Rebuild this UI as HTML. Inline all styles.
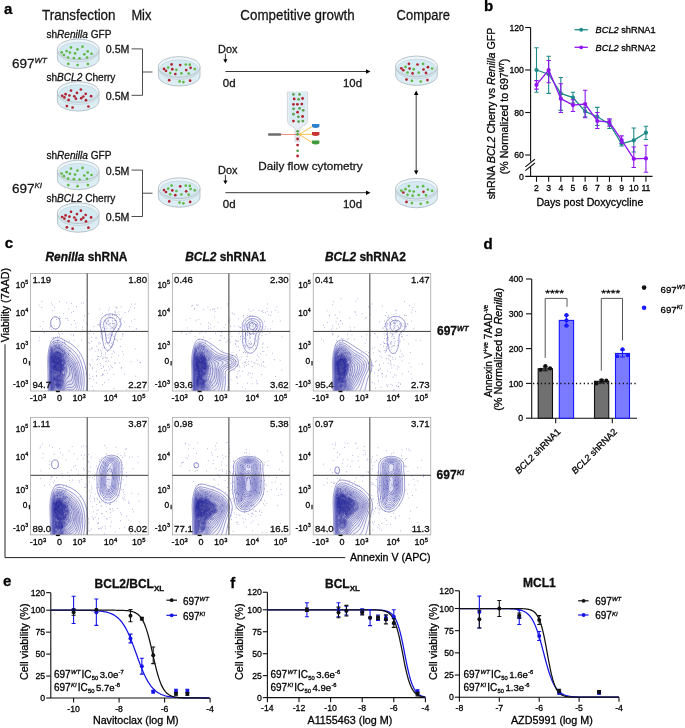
<!DOCTYPE html>
<html><head><meta charset="utf-8"><title>Figure</title>
<style>html,body{margin:0;padding:0;background:#fff;} svg{display:block;will-change:transform;} text{font-family:"Liberation Sans", sans-serif;} text[fill="#000"],text[fill="#111"],text[fill="#141414"]{stroke:#000;stroke-width:0.28px;} text[fill="#141414"]{stroke:#141414;}</style>
</head><body>
<svg width="685" height="728" viewBox="0 0 685 728" font-family='"Liberation Sans", sans-serif'>
<rect width="685" height="728" fill="#fff"/>
<text x="4.00" y="14.30" font-size="15" font-weight="bold" fill="#000">a</text>
<text x="42.00" y="19.60" font-size="14.3" fill="#141414" textLength="73.6" lengthAdjust="spacingAndGlyphs">Transfection</text>
<text x="131.40" y="19.60" font-size="14.3" fill="#141414" textLength="20" lengthAdjust="spacingAndGlyphs">Mix</text>
<text x="240.30" y="19.60" font-size="14.3" fill="#141414" textLength="114.4" lengthAdjust="spacingAndGlyphs">Competitive growth</text>
<text x="396.60" y="19.60" font-size="14.3" fill="#141414" textLength="53.4" lengthAdjust="spacingAndGlyphs">Compare</text>
<text x="46.4" y="37.7" font-size="10.1" fill="#141414">sh</text>
<text x="57.07" y="37.7" font-size="10.1" fill="#141414" font-style="italic">Renilla</text>
<text x="90.75" y="37.7" font-size="10.1" fill="#141414">GFP</text>
<path d="M57.40,49.40 L57.40,58.10 A20.80,10.40 0 0 0 99.00,58.10 L99.00,49.40 Z" fill="#dcedf3" stroke="#aab6bf" stroke-width="0.8"/>
<ellipse cx="78.20" cy="49.40" rx="20.80" ry="10.40" fill="#eef6f9" stroke="#aab6bf" stroke-width="0.8"/>
<ellipse cx="78.20" cy="50.60" rx="19.00" ry="8.40" fill="#d4eaf2" stroke="#b9c8d0" stroke-width="0.5"/>
<path d="M58.20,51.90 A20.00,9.90 0 0 0 98.20,51.90" fill="none" stroke="#b3c2ca" stroke-width="0.6"/>
<circle cx="71.00" cy="47.40" r="1.35" fill="#62b845"/>
<circle cx="82.50" cy="46.70" r="1.35" fill="#62b845"/>
<circle cx="77.50" cy="49.40" r="1.35" fill="#62b845"/>
<circle cx="66.60" cy="51.00" r="1.35" fill="#62b845"/>
<circle cx="61.70" cy="52.40" r="1.35" fill="#62b845"/>
<circle cx="69.90" cy="52.60" r="1.35" fill="#62b845"/>
<circle cx="75.10" cy="53.40" r="1.35" fill="#62b845"/>
<circle cx="87.70" cy="51.40" r="1.35" fill="#62b845"/>
<circle cx="84.30" cy="54.30" r="1.35" fill="#62b845"/>
<circle cx="91.50" cy="53.80" r="1.35" fill="#62b845"/>
<circle cx="63.90" cy="55.00" r="1.35" fill="#62b845"/>
<circle cx="68.10" cy="57.50" r="1.35" fill="#62b845"/>
<circle cx="73.90" cy="58.00" r="1.35" fill="#62b845"/>
<circle cx="79.60" cy="58.30" r="1.35" fill="#62b845"/>
<circle cx="87.00" cy="57.60" r="1.35" fill="#62b845"/>
<circle cx="68.30" cy="63.90" r="1.35" fill="#62b845"/>
<circle cx="77.60" cy="65.00" r="1.35" fill="#62b845"/>
<circle cx="87.90" cy="63.90" r="1.35" fill="#62b845"/>
<text x="46.4" y="80.6" font-size="10.1" fill="#141414">sh</text>
<text x="57.07" y="80.6" font-size="10.1" fill="#141414" font-style="italic">BCL2</text>
<text x="85.14" y="80.6" font-size="10.1" fill="#141414">Cherry</text>
<path d="M57.40,92.00 L57.40,100.70 A20.80,10.40 0 0 0 99.00,100.70 L99.00,92.00 Z" fill="#dcedf3" stroke="#aab6bf" stroke-width="0.8"/>
<ellipse cx="78.20" cy="92.00" rx="20.80" ry="10.40" fill="#eef6f9" stroke="#aab6bf" stroke-width="0.8"/>
<ellipse cx="78.20" cy="93.20" rx="19.00" ry="8.40" fill="#d4eaf2" stroke="#b9c8d0" stroke-width="0.5"/>
<path d="M58.20,94.50 A20.00,9.90 0 0 0 98.20,94.50" fill="none" stroke="#b3c2ca" stroke-width="0.6"/>
<circle cx="71.00" cy="90.60" r="1.35" fill="#b3202e"/>
<circle cx="80.90" cy="89.50" r="1.35" fill="#b3202e"/>
<circle cx="77.00" cy="92.90" r="1.35" fill="#b3202e"/>
<circle cx="65.60" cy="94.20" r="1.35" fill="#b3202e"/>
<circle cx="62.20" cy="95.80" r="1.35" fill="#b3202e"/>
<circle cx="69.40" cy="95.50" r="1.35" fill="#b3202e"/>
<circle cx="74.30" cy="96.30" r="1.35" fill="#b3202e"/>
<circle cx="85.70" cy="93.80" r="1.35" fill="#b3202e"/>
<circle cx="83.30" cy="96.50" r="1.35" fill="#b3202e"/>
<circle cx="91.10" cy="96.20" r="1.35" fill="#b3202e"/>
<circle cx="64.40" cy="97.40" r="1.35" fill="#b3202e"/>
<circle cx="68.60" cy="99.90" r="1.35" fill="#b3202e"/>
<circle cx="75.90" cy="98.70" r="1.35" fill="#b3202e"/>
<circle cx="81.20" cy="98.20" r="1.35" fill="#b3202e"/>
<circle cx="86.00" cy="100.20" r="1.35" fill="#b3202e"/>
<circle cx="66.90" cy="106.10" r="1.35" fill="#b3202e"/>
<circle cx="72.60" cy="107.50" r="1.35" fill="#b3202e"/>
<circle cx="88.40" cy="106.50" r="1.35" fill="#b3202e"/>
<text x="105.80" y="53.30" font-size="10.6" fill="#141414" textLength="23.6" lengthAdjust="spacingAndGlyphs">0.5M</text>
<text x="105.80" y="99.70" font-size="10.6" fill="#141414" textLength="23.6" lengthAdjust="spacingAndGlyphs">0.5M</text>
<path d="M131.5,48.9 H142.5 V95.3 H131.5 M142.5,72 H152.5" fill="none" stroke="#3a3a3a" stroke-width="0.9"/>
<path d="M158.40,67.00 L158.40,75.70 A20.80,10.40 0 0 0 200.00,75.70 L200.00,67.00 Z" fill="#dcedf3" stroke="#aab6bf" stroke-width="0.8"/>
<ellipse cx="179.20" cy="67.00" rx="20.80" ry="10.40" fill="#eef6f9" stroke="#aab6bf" stroke-width="0.8"/>
<ellipse cx="179.20" cy="68.20" rx="19.00" ry="8.40" fill="#d4eaf2" stroke="#b9c8d0" stroke-width="0.5"/>
<path d="M159.20,69.50 A20.00,9.90 0 0 0 199.20,69.50" fill="none" stroke="#b3c2ca" stroke-width="0.6"/>
<circle cx="171.60" cy="64.40" r="1.35" fill="#b3202e"/>
<circle cx="180.20" cy="65.10" r="1.35" fill="#b3202e"/>
<circle cx="185.80" cy="64.50" r="1.35" fill="#62b845"/>
<circle cx="189.80" cy="64.70" r="1.35" fill="#62b845"/>
<circle cx="164.00" cy="68.90" r="1.35" fill="#b3202e"/>
<circle cx="168.20" cy="67.50" r="1.35" fill="#62b845"/>
<circle cx="172.30" cy="69.20" r="1.35" fill="#b3202e"/>
<circle cx="176.40" cy="69.80" r="1.35" fill="#62b845"/>
<circle cx="186.20" cy="70.10" r="1.35" fill="#b3202e"/>
<circle cx="190.60" cy="67.80" r="1.35" fill="#b3202e"/>
<circle cx="194.80" cy="69.10" r="1.35" fill="#62b845"/>
<circle cx="166.00" cy="70.80" r="1.35" fill="#b3202e"/>
<circle cx="170.20" cy="73.10" r="1.35" fill="#62b845"/>
<circle cx="175.30" cy="74.00" r="1.35" fill="#b3202e"/>
<circle cx="181.40" cy="73.30" r="1.35" fill="#62b845"/>
<circle cx="188.70" cy="73.50" r="1.35" fill="#62b845"/>
<circle cx="169.20" cy="80.20" r="1.35" fill="#b3202e"/>
<circle cx="179.60" cy="81.40" r="1.35" fill="#62b845"/>
<circle cx="183.40" cy="82.10" r="1.35" fill="#62b845"/>
<circle cx="190.10" cy="80.70" r="1.35" fill="#b3202e"/>
<text x="218.00" y="52.50" font-size="10.9" fill="#141414" textLength="19.4" lengthAdjust="spacingAndGlyphs">Dox</text>
<path d="M225.4,53.6 V60.5" stroke="#222" stroke-width="0.9"/>
<path d="M223.3,59.2 L225.4,63 L227.5,59.2 Z" fill="#000"/>
<path d="M225.4,71.5 H367" stroke="#222" stroke-width="0.9"/>
<path d="M366,69.3 L370.5,71.5 L366,73.7 Z" fill="#000"/>
<text x="222.80" y="87.00" font-size="10.9" fill="#141414" textLength="12.8" lengthAdjust="spacingAndGlyphs">0d</text>
<text x="343.00" y="87.00" font-size="10.9" fill="#141414" textLength="19" lengthAdjust="spacingAndGlyphs">10d</text>
<path d="M395.70,66.40 L395.70,75.10 A20.80,10.40 0 0 0 437.30,75.10 L437.30,66.40 Z" fill="#dcedf3" stroke="#aab6bf" stroke-width="0.8"/>
<ellipse cx="416.50" cy="66.40" rx="20.80" ry="10.40" fill="#eef6f9" stroke="#aab6bf" stroke-width="0.8"/>
<ellipse cx="416.50" cy="67.60" rx="19.00" ry="8.40" fill="#d4eaf2" stroke="#b9c8d0" stroke-width="0.5"/>
<path d="M396.50,68.90 A20.00,9.90 0 0 0 436.50,68.90" fill="none" stroke="#b3c2ca" stroke-width="0.6"/>
<circle cx="408.90" cy="63.80" r="1.35" fill="#b3202e"/>
<circle cx="417.50" cy="64.50" r="1.35" fill="#b3202e"/>
<circle cx="423.10" cy="63.90" r="1.35" fill="#62b845"/>
<circle cx="401.30" cy="68.30" r="1.35" fill="#b3202e"/>
<circle cx="405.50" cy="66.90" r="1.35" fill="#62b845"/>
<circle cx="409.60" cy="68.60" r="1.35" fill="#b3202e"/>
<circle cx="413.70" cy="69.20" r="1.35" fill="#62b845"/>
<circle cx="423.50" cy="69.50" r="1.35" fill="#b3202e"/>
<circle cx="427.90" cy="67.20" r="1.35" fill="#b3202e"/>
<circle cx="432.10" cy="68.50" r="1.35" fill="#62b845"/>
<circle cx="403.30" cy="70.20" r="1.35" fill="#b3202e"/>
<circle cx="407.50" cy="72.50" r="1.35" fill="#62b845"/>
<circle cx="412.60" cy="73.40" r="1.35" fill="#b3202e"/>
<circle cx="418.70" cy="72.70" r="1.35" fill="#62b845"/>
<circle cx="426.00" cy="72.90" r="1.35" fill="#b3202e"/>
<circle cx="406.50" cy="79.60" r="1.35" fill="#b3202e"/>
<circle cx="411.90" cy="80.80" r="1.35" fill="#62b845"/>
<circle cx="420.70" cy="81.50" r="1.35" fill="#62b845"/>
<circle cx="427.40" cy="80.10" r="1.35" fill="#b3202e"/>
<text x="46.4" y="158.9" font-size="10.1" fill="#141414">sh</text>
<text x="57.07" y="158.9" font-size="10.1" fill="#141414" font-style="italic">Renilla</text>
<text x="90.75" y="158.9" font-size="10.1" fill="#141414">GFP</text>
<path d="M57.40,170.60 L57.40,179.30 A20.80,10.40 0 0 0 99.00,179.30 L99.00,170.60 Z" fill="#dcedf3" stroke="#aab6bf" stroke-width="0.8"/>
<ellipse cx="78.20" cy="170.60" rx="20.80" ry="10.40" fill="#eef6f9" stroke="#aab6bf" stroke-width="0.8"/>
<ellipse cx="78.20" cy="171.80" rx="19.00" ry="8.40" fill="#d4eaf2" stroke="#b9c8d0" stroke-width="0.5"/>
<path d="M58.20,173.10 A20.00,9.90 0 0 0 98.20,173.10" fill="none" stroke="#b3c2ca" stroke-width="0.6"/>
<circle cx="71.00" cy="168.60" r="1.35" fill="#62b845"/>
<circle cx="82.50" cy="167.90" r="1.35" fill="#62b845"/>
<circle cx="77.50" cy="170.60" r="1.35" fill="#62b845"/>
<circle cx="66.60" cy="172.20" r="1.35" fill="#62b845"/>
<circle cx="61.70" cy="173.60" r="1.35" fill="#62b845"/>
<circle cx="69.90" cy="173.80" r="1.35" fill="#62b845"/>
<circle cx="75.10" cy="174.60" r="1.35" fill="#62b845"/>
<circle cx="87.70" cy="172.60" r="1.35" fill="#62b845"/>
<circle cx="84.30" cy="175.50" r="1.35" fill="#62b845"/>
<circle cx="91.50" cy="175.00" r="1.35" fill="#62b845"/>
<circle cx="63.90" cy="176.20" r="1.35" fill="#62b845"/>
<circle cx="68.10" cy="178.70" r="1.35" fill="#62b845"/>
<circle cx="73.90" cy="179.20" r="1.35" fill="#62b845"/>
<circle cx="79.60" cy="179.50" r="1.35" fill="#62b845"/>
<circle cx="87.00" cy="178.80" r="1.35" fill="#62b845"/>
<circle cx="68.30" cy="185.10" r="1.35" fill="#62b845"/>
<circle cx="77.60" cy="186.20" r="1.35" fill="#62b845"/>
<circle cx="87.90" cy="185.10" r="1.35" fill="#62b845"/>
<text x="46.4" y="201.8" font-size="10.1" fill="#141414">sh</text>
<text x="57.07" y="201.8" font-size="10.1" fill="#141414" font-style="italic">BCL2</text>
<text x="85.14" y="201.8" font-size="10.1" fill="#141414">Cherry</text>
<path d="M57.40,213.20 L57.40,221.90 A20.80,10.40 0 0 0 99.00,221.90 L99.00,213.20 Z" fill="#dcedf3" stroke="#aab6bf" stroke-width="0.8"/>
<ellipse cx="78.20" cy="213.20" rx="20.80" ry="10.40" fill="#eef6f9" stroke="#aab6bf" stroke-width="0.8"/>
<ellipse cx="78.20" cy="214.40" rx="19.00" ry="8.40" fill="#d4eaf2" stroke="#b9c8d0" stroke-width="0.5"/>
<path d="M58.20,215.70 A20.00,9.90 0 0 0 98.20,215.70" fill="none" stroke="#b3c2ca" stroke-width="0.6"/>
<circle cx="71.00" cy="211.80" r="1.35" fill="#b3202e"/>
<circle cx="80.90" cy="210.70" r="1.35" fill="#b3202e"/>
<circle cx="77.00" cy="214.10" r="1.35" fill="#b3202e"/>
<circle cx="65.60" cy="215.40" r="1.35" fill="#b3202e"/>
<circle cx="62.20" cy="217.00" r="1.35" fill="#b3202e"/>
<circle cx="69.40" cy="216.70" r="1.35" fill="#b3202e"/>
<circle cx="74.30" cy="217.50" r="1.35" fill="#b3202e"/>
<circle cx="85.70" cy="215.00" r="1.35" fill="#b3202e"/>
<circle cx="83.30" cy="217.70" r="1.35" fill="#b3202e"/>
<circle cx="91.10" cy="217.40" r="1.35" fill="#b3202e"/>
<circle cx="64.40" cy="218.60" r="1.35" fill="#b3202e"/>
<circle cx="68.60" cy="221.10" r="1.35" fill="#b3202e"/>
<circle cx="75.90" cy="219.90" r="1.35" fill="#b3202e"/>
<circle cx="81.20" cy="219.40" r="1.35" fill="#b3202e"/>
<circle cx="86.00" cy="221.40" r="1.35" fill="#b3202e"/>
<circle cx="66.90" cy="227.30" r="1.35" fill="#b3202e"/>
<circle cx="72.60" cy="228.70" r="1.35" fill="#b3202e"/>
<circle cx="88.40" cy="227.70" r="1.35" fill="#b3202e"/>
<text x="105.80" y="174.50" font-size="10.6" fill="#141414" textLength="23.6" lengthAdjust="spacingAndGlyphs">0.5M</text>
<text x="105.80" y="220.90" font-size="10.6" fill="#141414" textLength="23.6" lengthAdjust="spacingAndGlyphs">0.5M</text>
<path d="M131.5,170.1 H142.5 V216.5 H131.5 M142.5,193.2 H152.5" fill="none" stroke="#3a3a3a" stroke-width="0.9"/>
<path d="M158.40,188.20 L158.40,196.90 A20.80,10.40 0 0 0 200.00,196.90 L200.00,188.20 Z" fill="#dcedf3" stroke="#aab6bf" stroke-width="0.8"/>
<ellipse cx="179.20" cy="188.20" rx="20.80" ry="10.40" fill="#eef6f9" stroke="#aab6bf" stroke-width="0.8"/>
<ellipse cx="179.20" cy="189.40" rx="19.00" ry="8.40" fill="#d4eaf2" stroke="#b9c8d0" stroke-width="0.5"/>
<path d="M159.20,190.70 A20.00,9.90 0 0 0 199.20,190.70" fill="none" stroke="#b3c2ca" stroke-width="0.6"/>
<circle cx="171.60" cy="185.60" r="1.35" fill="#62b845"/>
<circle cx="180.20" cy="186.30" r="1.35" fill="#b3202e"/>
<circle cx="185.80" cy="185.70" r="1.35" fill="#62b845"/>
<circle cx="189.80" cy="185.90" r="1.35" fill="#62b845"/>
<circle cx="164.00" cy="190.10" r="1.35" fill="#b3202e"/>
<circle cx="168.20" cy="188.70" r="1.35" fill="#62b845"/>
<circle cx="172.30" cy="190.40" r="1.35" fill="#b3202e"/>
<circle cx="176.40" cy="191.00" r="1.35" fill="#62b845"/>
<circle cx="186.20" cy="191.30" r="1.35" fill="#b3202e"/>
<circle cx="190.60" cy="189.00" r="1.35" fill="#62b845"/>
<circle cx="194.80" cy="190.30" r="1.35" fill="#62b845"/>
<circle cx="166.00" cy="192.00" r="1.35" fill="#b3202e"/>
<circle cx="170.20" cy="194.30" r="1.35" fill="#62b845"/>
<circle cx="175.30" cy="195.20" r="1.35" fill="#b3202e"/>
<circle cx="181.40" cy="194.50" r="1.35" fill="#62b845"/>
<circle cx="188.70" cy="194.70" r="1.35" fill="#62b845"/>
<circle cx="169.20" cy="201.40" r="1.35" fill="#b3202e"/>
<circle cx="179.60" cy="202.60" r="1.35" fill="#62b845"/>
<circle cx="183.40" cy="203.30" r="1.35" fill="#62b845"/>
<circle cx="190.10" cy="201.90" r="1.35" fill="#b3202e"/>
<text x="218.00" y="173.70" font-size="10.9" fill="#141414" textLength="19.4" lengthAdjust="spacingAndGlyphs">Dox</text>
<path d="M225.4,174.8 V181.7" stroke="#222" stroke-width="0.9"/>
<path d="M223.3,180.4 L225.4,184.2 L227.5,180.4 Z" fill="#000"/>
<path d="M225.4,192.7 H367" stroke="#222" stroke-width="0.9"/>
<path d="M366,190.5 L370.5,192.7 L366,194.9 Z" fill="#000"/>
<text x="222.80" y="208.20" font-size="10.9" fill="#141414" textLength="12.8" lengthAdjust="spacingAndGlyphs">0d</text>
<text x="343.00" y="208.20" font-size="10.9" fill="#141414" textLength="19" lengthAdjust="spacingAndGlyphs">10d</text>
<path d="M395.70,188.70 L395.70,197.40 A20.80,10.40 0 0 0 437.30,197.40 L437.30,188.70 Z" fill="#dcedf3" stroke="#aab6bf" stroke-width="0.8"/>
<ellipse cx="416.50" cy="188.70" rx="20.80" ry="10.40" fill="#eef6f9" stroke="#aab6bf" stroke-width="0.8"/>
<ellipse cx="416.50" cy="189.90" rx="19.00" ry="8.40" fill="#d4eaf2" stroke="#b9c8d0" stroke-width="0.5"/>
<path d="M396.50,191.20 A20.00,9.90 0 0 0 436.50,191.20" fill="none" stroke="#b3c2ca" stroke-width="0.6"/>
<circle cx="408.90" cy="186.10" r="1.35" fill="#62b845"/>
<circle cx="417.50" cy="186.80" r="1.35" fill="#62b845"/>
<circle cx="423.10" cy="186.20" r="1.35" fill="#62b845"/>
<circle cx="401.30" cy="190.60" r="1.35" fill="#62b845"/>
<circle cx="405.50" cy="189.20" r="1.35" fill="#62b845"/>
<circle cx="409.60" cy="190.90" r="1.35" fill="#62b845"/>
<circle cx="413.70" cy="191.50" r="1.35" fill="#62b845"/>
<circle cx="423.50" cy="191.80" r="1.35" fill="#b3202e"/>
<circle cx="427.90" cy="189.50" r="1.35" fill="#62b845"/>
<circle cx="432.10" cy="190.80" r="1.35" fill="#62b845"/>
<circle cx="403.30" cy="192.50" r="1.35" fill="#b3202e"/>
<circle cx="407.50" cy="194.80" r="1.35" fill="#62b845"/>
<circle cx="412.60" cy="195.70" r="1.35" fill="#62b845"/>
<circle cx="418.70" cy="195.00" r="1.35" fill="#62b845"/>
<circle cx="426.00" cy="195.20" r="1.35" fill="#62b845"/>
<circle cx="406.50" cy="201.90" r="1.35" fill="#b3202e"/>
<circle cx="411.90" cy="203.10" r="1.35" fill="#62b845"/>
<circle cx="420.70" cy="203.80" r="1.35" fill="#62b845"/>
<circle cx="427.40" cy="202.40" r="1.35" fill="#62b845"/>
<text x="12" y="68.4" font-size="13.5" fill="#141414">697<tspan font-size="8" font-style="italic" dy="-5.13">WT</tspan></text>
<text x="12" y="192.9" font-size="13.5" fill="#141414">697<tspan font-size="8" font-style="italic" dy="-5.13">KI</tspan></text>
<path d="M416.2,94 V171" stroke="#222" stroke-width="0.9"/>
<path d="M414,95 L416.2,90.6 L418.4,95 Z M414,170.5 L416.2,174.8 L418.4,170.5 Z" fill="#000"/>
<g>
<path d="M287.4,92 V120 Q287.4,124.5 291,125.6 L295,128.5 V141.4 H299.8 V128.5 L303.8,125.6 Q307.6,124.5 307.6,120 V92 Z" fill="#e6eef3" stroke="#c5ccd2" stroke-width="0.7"/>
<rect x="289" y="92" width="17" height="30" fill="#d9ebf4"/>
<rect x="268" y="133.2" width="13.3" height="2.6" rx="0.8" fill="#6e6e6e"/>
<path d="M281.3,134.5 H297" stroke="#e8402c" stroke-width="0.6"/>
<path d="M299,134.5 L312.5,126.2 M299,134.5 L312.5,134.2 M299,134.5 L312.5,142.6" stroke="#f2b01e" stroke-width="0.8"/>
<path d="M312,124 H319.4 V127 Q315.7,129.2 312,127 Z" fill="#2e7fd0"/>
<path d="M312,132 H319.4 V135 Q315.7,137.2 312,135 Z" fill="#c93533"/>
<path d="M312,140.4 H319.4 V143.4 Q315.7,145.6 312,143.4 Z" fill="#3f9a3a"/>
</g>
<circle cx="293.4" cy="94.4" r="1.4" fill="#5ea04a"/>
<circle cx="299.6" cy="94.4" r="1.4" fill="#5ea04a"/>
<circle cx="294.2" cy="98.9" r="1.4" fill="#b3202e"/>
<circle cx="298.6" cy="99.3" r="1.4" fill="#5ea04a"/>
<circle cx="302.6" cy="98.5" r="1.4" fill="#b3202e"/>
<circle cx="293.4" cy="104.3" r="1.4" fill="#b3202e"/>
<circle cx="297.4" cy="104.3" r="1.4" fill="#b3202e"/>
<circle cx="301.8" cy="104.1" r="1.4" fill="#b3202e"/>
<circle cx="293.6" cy="108.8" r="1.4" fill="#5ea04a"/>
<circle cx="299.5" cy="108.4" r="1.4" fill="#5ea04a"/>
<circle cx="303.2" cy="110.3" r="1.4" fill="#5ea04a"/>
<circle cx="297.6" cy="112.2" r="1.4" fill="#b3202e"/>
<circle cx="293.4" cy="114.2" r="1.4" fill="#5ea04a"/>
<circle cx="298.4" cy="116.8" r="1.4" fill="#5ea04a"/>
<circle cx="302.6" cy="116.5" r="1.4" fill="#b3202e"/>
<circle cx="293.4" cy="121.1" r="1.4" fill="#b3202e"/>
<circle cx="298.6" cy="121.6" r="1.4" fill="#5ea04a"/>
<circle cx="302.8" cy="121.1" r="1.4" fill="#5ea04a"/>
<circle cx="297.6" cy="131.3" r="1.4" fill="#5ea04a"/>
<circle cx="297.6" cy="134.3" r="1.4" fill="#5ea04a"/>
<circle cx="297.6" cy="139" r="1.4" fill="#b3202e"/>
<circle cx="297.6" cy="145.1" r="1.4" fill="#b3202e"/>
<circle cx="297.6" cy="150.8" r="1.4" fill="#5ea04a"/>
<circle cx="297.6" cy="156" r="1.4" fill="#b3202e"/>
<text x="258.20" y="170.00" font-size="11.7" fill="#141414" textLength="104.4" lengthAdjust="spacingAndGlyphs">Daily flow cytometry</text>
<text x="483.90" y="10.70" font-size="15" font-weight="bold" fill="#000">b</text>
<path d="M530.6,27.5 V161.5 M530.6,167 V176.4 M525.2,176.4 H652.5" fill="none" stroke="#111" stroke-width="1.1"/>
<path d="M525.3,166.9 L534.9,159.3 M525.3,170.6 L534.9,163" stroke="#111" stroke-width="1.1"/>
<line x1="525.20" y1="27.50" x2="530.60" y2="27.50" stroke="#111" stroke-width="1.1"/>
<text x="523.90" y="30.60" font-size="8.7" text-anchor="end" fill="#000">120</text>
<line x1="525.20" y1="70.00" x2="530.60" y2="70.00" stroke="#111" stroke-width="1.1"/>
<text x="523.90" y="73.10" font-size="8.7" text-anchor="end" fill="#000">100</text>
<line x1="525.20" y1="112.50" x2="530.60" y2="112.50" stroke="#111" stroke-width="1.1"/>
<text x="523.90" y="115.60" font-size="8.7" text-anchor="end" fill="#000">80</text>
<line x1="525.20" y1="155.00" x2="530.60" y2="155.00" stroke="#111" stroke-width="1.1"/>
<text x="523.90" y="158.10" font-size="8.7" text-anchor="end" fill="#000">60</text>
<text x="523.90" y="179.50" font-size="8.7" text-anchor="end" fill="#000">0</text>
<line x1="536.50" y1="176.40" x2="536.50" y2="181.80" stroke="#111" stroke-width="1.1"/>
<text x="536.50" y="190.70" font-size="8.7" text-anchor="middle" fill="#000">2</text>
<line x1="548.66" y1="176.40" x2="548.66" y2="181.80" stroke="#111" stroke-width="1.1"/>
<text x="548.66" y="190.70" font-size="8.7" text-anchor="middle" fill="#000">3</text>
<line x1="560.82" y1="176.40" x2="560.82" y2="181.80" stroke="#111" stroke-width="1.1"/>
<text x="560.82" y="190.70" font-size="8.7" text-anchor="middle" fill="#000">4</text>
<line x1="572.98" y1="176.40" x2="572.98" y2="181.80" stroke="#111" stroke-width="1.1"/>
<text x="572.98" y="190.70" font-size="8.7" text-anchor="middle" fill="#000">5</text>
<line x1="585.14" y1="176.40" x2="585.14" y2="181.80" stroke="#111" stroke-width="1.1"/>
<text x="585.14" y="190.70" font-size="8.7" text-anchor="middle" fill="#000">6</text>
<line x1="597.30" y1="176.40" x2="597.30" y2="181.80" stroke="#111" stroke-width="1.1"/>
<text x="597.30" y="190.70" font-size="8.7" text-anchor="middle" fill="#000">7</text>
<line x1="609.46" y1="176.40" x2="609.46" y2="181.80" stroke="#111" stroke-width="1.1"/>
<text x="609.46" y="190.70" font-size="8.7" text-anchor="middle" fill="#000">8</text>
<line x1="621.62" y1="176.40" x2="621.62" y2="181.80" stroke="#111" stroke-width="1.1"/>
<text x="621.62" y="190.70" font-size="8.7" text-anchor="middle" fill="#000">9</text>
<line x1="633.78" y1="176.40" x2="633.78" y2="181.80" stroke="#111" stroke-width="1.1"/>
<text x="633.78" y="190.70" font-size="8.7" text-anchor="middle" fill="#000">10</text>
<line x1="645.94" y1="176.40" x2="645.94" y2="181.80" stroke="#111" stroke-width="1.1"/>
<text x="645.94" y="190.70" font-size="8.7" text-anchor="middle" fill="#000">11</text>
<text x="536.40" y="206.00" font-size="10.6" fill="#000" textLength="107" lengthAdjust="spacingAndGlyphs">Days post Doxycycline</text>
<text transform="translate(495.2,199.3) rotate(-90)" font-size="10.6" fill="#000" textLength="171.7" lengthAdjust="spacingAndGlyphs">shRNA <tspan font-style="italic">BCL2</tspan> Cherry vs <tspan font-style="italic">Renilla</tspan> GFP</text>
<text transform="translate(508.2,174.2) rotate(-90)" font-size="10.6" fill="#000">(% Normalized to 697<tspan font-size="6.5" font-style="italic" dy="-4">WT</tspan><tspan dy="4">)</tspan></text>
<polyline points="536.50,70.00 548.66,74.25 560.82,93.38 572.98,97.62 585.14,111.44 597.30,116.75 609.46,123.98 621.62,143.74 633.78,140.34 645.94,132.69" fill="none" stroke="#1c8a88" stroke-width="1.3"/>
<path d="M536.50,47.69 V92.31 M534.30,47.69 H538.70 M534.30,92.31 H538.70" stroke="#1c8a88" stroke-width="1.1"/>
<circle cx="536.50" cy="70.00" r="2.1" fill="#1c8a88"/>
<path d="M548.66,56.19 V93.38 M546.46,56.19 H550.86 M546.46,93.38 H550.86" stroke="#1c8a88" stroke-width="1.1"/>
<circle cx="548.66" cy="74.25" r="2.1" fill="#1c8a88"/>
<path d="M560.82,77.44 V110.38 M558.62,77.44 H563.02 M558.62,110.38 H563.02" stroke="#1c8a88" stroke-width="1.1"/>
<circle cx="560.82" cy="93.38" r="2.1" fill="#1c8a88"/>
<path d="M572.98,92.31 V102.94 M570.78,92.31 H575.18 M570.78,102.94 H575.18" stroke="#1c8a88" stroke-width="1.1"/>
<circle cx="572.98" cy="97.62" r="2.1" fill="#1c8a88"/>
<path d="M585.14,107.19 V116.75 M582.94,107.19 H587.34 M582.94,116.75 H587.34" stroke="#1c8a88" stroke-width="1.1"/>
<circle cx="585.14" cy="111.44" r="2.1" fill="#1c8a88"/>
<path d="M597.30,107.40 V125.46 M595.10,107.40 H599.50 M595.10,125.46 H599.50" stroke="#1c8a88" stroke-width="1.1"/>
<circle cx="597.30" cy="116.75" r="2.1" fill="#1c8a88"/>
<path d="M609.46,119.94 V128.44 M607.26,119.94 H611.66 M607.26,128.44 H611.66" stroke="#1c8a88" stroke-width="1.1"/>
<circle cx="609.46" cy="123.98" r="2.1" fill="#1c8a88"/>
<path d="M621.62,141.19 V146.07 M619.42,141.19 H623.82 M619.42,146.07 H623.82" stroke="#1c8a88" stroke-width="1.1"/>
<circle cx="621.62" cy="143.74" r="2.1" fill="#1c8a88"/>
<path d="M633.78,128.01 V152.03 M631.58,128.01 H635.98 M631.58,152.03 H635.98" stroke="#1c8a88" stroke-width="1.1"/>
<circle cx="633.78" cy="140.34" r="2.1" fill="#1c8a88"/>
<path d="M645.94,126.31 V139.49 M643.74,126.31 H648.14 M643.74,139.49 H648.14" stroke="#1c8a88" stroke-width="1.1"/>
<circle cx="645.94" cy="132.69" r="2.1" fill="#1c8a88"/>
<polyline points="536.50,84.88 548.66,70.00 560.82,98.69 572.98,105.06 585.14,104.00 597.30,121.00 609.46,122.06 621.62,140.12 633.78,158.82 645.94,158.40" fill="none" stroke="#8f14f0" stroke-width="1.3"/>
<path d="M536.50,80.62 V89.12 M534.30,80.62 H538.70 M534.30,89.12 H538.70" stroke="#8f14f0" stroke-width="1.1"/>
<circle cx="536.50" cy="84.88" r="2.1" fill="#8f14f0"/>
<path d="M548.66,60.44 V82.75 M546.46,60.44 H550.86 M546.46,82.75 H550.86" stroke="#8f14f0" stroke-width="1.1"/>
<circle cx="548.66" cy="70.00" r="2.1" fill="#8f14f0"/>
<path d="M560.82,83.81 V112.50 M558.62,83.81 H563.02 M558.62,112.50 H563.02" stroke="#8f14f0" stroke-width="1.1"/>
<circle cx="560.82" cy="98.69" r="2.1" fill="#8f14f0"/>
<path d="M572.98,99.75 V111.44 M570.78,99.75 H575.18 M570.78,111.44 H575.18" stroke="#8f14f0" stroke-width="1.1"/>
<circle cx="572.98" cy="105.06" r="2.1" fill="#8f14f0"/>
<path d="M585.14,90.19 V117.81 M582.94,90.19 H587.34 M582.94,117.81 H587.34" stroke="#8f14f0" stroke-width="1.1"/>
<circle cx="585.14" cy="104.00" r="2.1" fill="#8f14f0"/>
<path d="M597.30,112.50 V128.44 M595.10,112.50 H599.50 M595.10,128.44 H599.50" stroke="#8f14f0" stroke-width="1.1"/>
<circle cx="597.30" cy="121.00" r="2.1" fill="#8f14f0"/>
<path d="M609.46,118.88 V126.31 M607.26,118.88 H611.66 M607.26,126.31 H611.66" stroke="#8f14f0" stroke-width="1.1"/>
<circle cx="609.46" cy="122.06" r="2.1" fill="#8f14f0"/>
<path d="M621.62,135.88 V143.31 M619.42,135.88 H623.82 M619.42,143.31 H623.82" stroke="#8f14f0" stroke-width="1.1"/>
<circle cx="621.62" cy="140.12" r="2.1" fill="#8f14f0"/>
<path d="M633.78,146.93 V167.54 M631.58,146.93 H635.98 M631.58,167.54 H635.98" stroke="#8f14f0" stroke-width="1.1"/>
<circle cx="633.78" cy="158.82" r="2.1" fill="#8f14f0"/>
<path d="M645.94,145.23 V172.21 M643.74,145.23 H648.14 M643.74,172.21 H648.14" stroke="#8f14f0" stroke-width="1.1"/>
<circle cx="645.94" cy="158.40" r="2.1" fill="#8f14f0"/>
<line x1="574.60" y1="29.75" x2="587.80" y2="29.75" stroke="#1c8a88" stroke-width="1.3"/>
<circle cx="581.2" cy="29.75" r="1.9" fill="#1c8a88"/>
<text x="595.6" y="33.05" font-size="9.2" fill="#000" textLength="60" lengthAdjust="spacingAndGlyphs"><tspan font-style="italic">BCL2</tspan> shRNA1</text>
<line x1="574.60" y1="47.30" x2="587.80" y2="47.30" stroke="#8f14f0" stroke-width="1.3"/>
<circle cx="581.2" cy="47.3" r="1.9" fill="#8f14f0"/>
<text x="595.6" y="50.599999999999994" font-size="9.2" fill="#000" textLength="60" lengthAdjust="spacingAndGlyphs"><tspan font-style="italic">BCL2</tspan> shRNA2</text>
<text x="4.70" y="248.40" font-size="15" font-weight="bold" fill="#000">c</text>
<text x="45.5" y="261.2" font-size="11.9" font-weight="bold" fill="#111" textLength="81.8" lengthAdjust="spacingAndGlyphs"><tspan font-style="italic">Renilla</tspan> shRNA</text>
<text x="185.2" y="261.2" font-size="11.9" font-weight="bold" fill="#111" textLength="80.8" lengthAdjust="spacingAndGlyphs"><tspan font-style="italic">BCL2</tspan> shRNA1</text>
<text x="325.0" y="261.2" font-size="11.9" font-weight="bold" fill="#111" textLength="80.8" lengthAdjust="spacingAndGlyphs"><tspan font-style="italic">BCL2</tspan> shRNA2</text>
<defs>
<clipPath id="cp00"><rect x="30.6" y="273.4" width="117.6" height="117.6"/></clipPath>
<clipPath id="cp01"><rect x="172.3" y="273.4" width="117.6" height="117.6"/></clipPath>
<clipPath id="cp02"><rect x="313.2" y="273.4" width="117.6" height="117.6"/></clipPath>
<clipPath id="cp10"><rect x="30.6" y="417.3" width="117.6" height="117.6"/></clipPath>
<clipPath id="cp11"><rect x="172.3" y="417.3" width="117.6" height="117.6"/></clipPath>
<clipPath id="cp12"><rect x="313.2" y="417.3" width="117.6" height="117.6"/></clipPath>
</defs>
<g clip-path="url(#cp00)"><g transform="translate(30.6,273.4)">
<path d="M44.0,136.6 42.0,136.9 40.0,136.6 35.0,134.4 33.5,134.1 32.0,134.3 27.5,135.4 26.0,135.4 24.5,135.1 23.0,134.4 21.7,133.0 20.6,131.0 19.7,128.5 18.3,121.5 17.6,114.5 17.1,88.5 17.3,82.5 18.2,75.5 19.9,69.5 20.8,67.5 22.0,65.9 23.0,65.1 24.5,64.5 27.5,64.2 31.0,65.2 40.0,70.2 44.0,73.1 47.3,76.5 50.3,81.0 52.6,86.0 54.3,91.0 55.8,98.0 56.5,105.0 56.3,112.5 55.3,119.5 53.3,126.0 50.7,131.0 49.2,133.0 47.5,134.7 46.0,135.7 44.0,136.6Z" fill="#26268f" fill-opacity="0.02" stroke="#3434a6" stroke-width="0.5" stroke-opacity="0.9"/>
<path d="M28.5,131.7 26.5,132.0 24.5,131.7 22.5,130.3 21.3,128.5 20.2,125.5 19.3,121.5 18.7,117.0 18.3,111.5 18.4,99.0 18.1,87.0 18.2,82.5 18.8,78.0 19.8,73.5 20.7,71.0 21.5,69.6 22.5,68.4 23.5,67.7 26.0,67.0 29.0,67.4 32.5,69.1 42.0,76.3 44.3,78.5 46.3,81.0 49.2,86.0 51.3,91.5 52.9,98.0 53.6,105.0 53.5,112.0 52.3,118.5 50.4,124.0 49.0,126.4 47.5,128.3 45.5,130.0 43.0,131.0 40.5,131.0 36.0,129.3 34.5,129.1 33.0,129.5 28.5,131.7Z" fill="#26268f" fill-opacity="0.02" stroke="#3434a6" stroke-width="0.5" stroke-opacity="0.9"/>
<path d="M27.0,129.6 25.5,129.5 24.5,129.2 23.5,128.7 22.5,127.7 21.3,125.5 20.1,121.5 19.4,117.0 19.0,112.5 19.0,98.5 18.6,88.5 18.8,84.0 19.2,79.5 19.8,76.5 20.7,73.5 21.7,71.5 23.0,70.1 24.5,69.2 26.5,68.9 28.0,69.1 29.5,69.6 32.6,71.5 42.0,79.9 45.3,84.0 47.8,88.5 49.8,94.0 51.1,100.5 51.6,106.5 51.3,112.0 50.1,117.5 48.3,122.0 46.0,125.0 44.0,126.3 42.0,126.8 40.0,126.6 36.5,125.3 35.0,125.3 33.5,126.0 29.5,128.7 27.0,129.6Z" fill="#26268f" fill-opacity="0.02" stroke="#3434a6" stroke-width="0.5" stroke-opacity="0.9"/>
<path d="M27.5,127.5 25.5,127.6 24.0,127.0 22.5,125.6 21.6,124.0 20.8,121.5 20.1,118.0 19.6,114.0 19.4,109.0 19.5,99.0 19.1,87.0 19.3,83.0 19.8,79.0 20.9,75.0 22.2,72.5 24.0,71.0 25.0,70.6 26.5,70.4 28.0,70.6 29.5,71.2 32.2,73.0 41.0,82.0 43.8,85.5 46.3,90.0 48.1,95.0 49.3,100.5 49.8,106.0 49.5,111.0 48.5,115.5 47.0,119.1 45.2,121.5 43.5,122.7 42.0,123.1 40.5,123.0 37.0,121.9 35.5,122.0 34.0,122.9 30.0,126.4 27.5,127.5Z" fill="#26268f" fill-opacity="0.02" stroke="#3434a6" stroke-width="0.5" stroke-opacity="0.9"/>
<path d="M27.0,126.0 25.0,125.9 24.0,125.4 23.0,124.5 21.6,122.0 20.7,118.5 20.2,115.0 19.9,110.5 19.9,99.0 19.5,88.5 19.9,81.5 20.4,78.5 21.4,75.5 22.5,73.6 23.5,72.6 25.0,71.9 26.5,71.7 28.0,71.9 29.5,72.5 32.2,74.5 40.8,84.5 43.0,87.5 44.9,91.0 46.7,96.0 47.7,101.0 48.1,105.5 47.9,109.5 47.2,113.0 46.0,116.1 44.5,118.2 43.0,119.2 41.5,119.6 37.5,118.8 36.0,119.0 34.5,119.9 30.0,124.6 28.5,125.6 27.0,126.0Z" fill="#26268f" fill-opacity="0.02" stroke="#3434a6" stroke-width="0.5" stroke-opacity="0.9"/>
<path d="M28.0,124.5 26.5,124.9 25.0,124.7 23.5,123.7 22.5,122.4 21.7,120.5 20.9,117.5 20.2,110.5 20.3,99.0 19.8,88.0 20.3,81.0 21.1,77.5 22.2,75.0 24.0,73.3 26.0,72.7 27.5,72.8 29.0,73.3 30.5,74.2 32.0,75.5 42.0,88.5 44.0,92.5 45.5,96.8 46.2,100.0 46.7,104.0 46.7,106.5 46.1,110.5 45.1,113.5 44.0,115.1 43.0,116.0 41.5,116.7 37.5,116.2 36.0,116.6 34.5,117.9 30.5,122.8 28.0,124.5Z" fill="#26268f" fill-opacity="0.02" stroke="#3434a6" stroke-width="0.5" stroke-opacity="0.9"/>
<path d="M28.0,123.5 26.5,123.9 25.0,123.7 23.5,122.7 22.5,121.2 21.1,117.0 20.5,110.0 20.5,99.0 20.1,88.0 20.4,82.0 21.3,78.0 22.5,75.5 24.0,74.1 26.0,73.4 27.5,73.5 29.0,74.1 31.6,76.0 33.6,78.5 37.5,84.5 41.2,89.5 43.0,93.0 44.5,97.5 45.1,100.5 45.4,104.0 45.4,106.5 44.6,110.0 44.0,111.5 43.0,113.0 42.0,113.7 41.0,114.1 37.5,113.9 36.0,114.4 34.5,116.0 30.7,121.5 29.5,122.6 28.0,123.5Z" fill="#26268f" fill-opacity="0.02" stroke="#3434a6" stroke-width="0.5" stroke-opacity="0.9"/>
<path d="M27.5,122.7 26.0,123.0 25.0,122.7 23.5,121.6 22.5,120.0 21.3,116.0 20.7,109.0 20.8,99.0 20.3,88.0 20.7,82.0 21.5,78.5 22.8,76.0 24.5,74.6 26.5,74.2 28.5,74.7 30.5,75.9 32.5,78.0 34.8,81.5 41.8,93.5 42.8,96.5 43.8,102.0 43.5,106.5 42.0,109.9 41.0,110.7 38.0,111.2 36.0,112.2 34.5,114.0 31.6,119.0 30.5,120.4 29.0,121.9 27.5,122.7Z" fill="#26268f" fill-opacity="0.02" stroke="#3434a6" stroke-width="0.5" stroke-opacity="0.9"/>
<path d="M27.5,121.6 25.5,121.9 24.0,121.0 22.6,119.0 21.8,116.5 21.0,109.5 21.2,99.0 20.6,89.0 20.8,83.5 21.3,80.5 22.0,78.3 23.0,76.6 24.0,75.7 25.0,75.2 26.5,74.9 28.5,75.4 30.5,76.8 32.4,79.0 34.3,82.0 36.5,86.7 40.5,94.0 41.1,96.0 41.3,98.5 42.1,102.0 41.8,104.5 40.7,107.0 40.0,107.7 37.5,108.2 36.5,108.9 34.5,111.8 32.2,116.5 30.6,119.0 29.0,120.8 27.5,121.6Z" fill="#26268f" fill-opacity="0.02" stroke="#3434a6" stroke-width="0.5" stroke-opacity="0.9"/>
<path d="M27.0,120.5 25.5,120.7 24.0,119.8 22.8,118.0 22.0,115.5 21.4,109.5 21.5,99.0 20.8,88.5 21.1,83.5 22.3,79.0 23.0,77.7 24.0,76.7 25.0,76.2 26.5,75.9 28.0,76.1 29.5,76.9 31.1,78.5 32.2,80.0 34.2,83.5 37.0,90.9 38.4,93.5 39.4,97.5 39.1,99.5 39.1,101.5 35.0,106.9 34.3,109.5 31.2,116.5 29.0,119.4 28.0,120.1 27.0,120.5Z" fill="#26268f" fill-opacity="0.02" stroke="#3434a6" stroke-width="0.5" stroke-opacity="0.9"/>
<path d="M27.5,119.2 26.0,119.5 24.5,118.9 23.3,117.5 22.5,115.5 21.8,109.5 22.1,101.0 21.9,97.5 21.4,94.0 21.2,88.0 21.4,83.5 22.7,79.5 24.0,77.8 25.0,77.3 27.0,76.9 28.5,77.3 30.5,79.0 31.7,80.5 33.3,83.5 34.3,86.0 36.1,93.5 36.1,96.5 36.5,98.5 35.4,101.0 34.4,104.5 33.4,106.5 33.2,109.0 31.5,114.0 29.7,117.0 28.5,118.5 27.5,119.2Z" fill="#26268f" fill-opacity="0.1" stroke="#3434a6" stroke-width="0.5" stroke-opacity="0.9"/>
<path d="M27.0,118.5 26.0,118.5 24.9,118.0 23.5,116.5 22.9,115.0 22.1,109.0 22.4,106.5 22.6,101.5 22.4,97.5 21.8,94.5 21.8,91.0 21.5,88.0 21.7,83.5 22.9,80.0 23.5,79.1 24.5,78.3 27.0,77.7 28.5,78.1 30.0,79.2 31.1,80.5 32.4,83.0 33.7,86.5 34.7,95.5 34.6,98.5 34.1,100.0 33.3,104.0 32.4,106.5 32.5,108.5 32.2,110.0 30.5,114.6 28.4,117.5 27.0,118.5Z" fill="#26268f" fill-opacity="0.1" stroke="#3434a6" stroke-width="0.5" stroke-opacity="0.9"/>
<path d="M27.0,117.2 25.5,117.0 24.0,115.8 23.5,115.1 22.5,110.0 22.4,108.5 22.8,106.5 22.8,104.0 23.1,101.5 22.8,97.5 22.0,94.5 22.3,91.0 21.7,87.5 22.0,83.5 23.1,80.5 24.5,79.0 27.0,78.3 28.5,78.7 30.1,80.0 31.5,82.5 32.8,85.5 33.3,90.5 33.3,93.0 33.8,95.5 33.2,97.5 31.5,98.3 31.2,99.0 31.5,99.8 32.5,100.9 32.7,101.5 32.3,104.0 31.7,106.0 31.9,108.5 31.7,109.5 30.0,114.2 29.0,115.6 27.0,117.2Z" fill="#26268f" fill-opacity="0.1" stroke="#3434a6" stroke-width="0.5" stroke-opacity="0.9"/>
<path d="M27.5,115.0 26.3,115.0 25.5,114.5 24.0,114.2 23.0,110.4 22.8,108.5 23.2,106.5 23.2,104.0 23.6,101.5 23.3,97.5 22.3,94.5 22.4,93.0 22.9,91.0 22.1,88.5 22.0,87.5 22.2,84.0 23.5,80.5 25.0,79.4 27.5,78.9 28.5,79.1 29.6,80.0 31.1,83.0 31.5,84.5 32.2,86.0 32.3,87.0 31.7,89.0 32.5,89.9 32.7,90.5 32.6,93.0 33.1,95.0 32.8,96.5 31.0,97.8 30.7,98.5 30.9,100.0 31.9,101.5 31.9,102.0 31.1,105.5 31.2,108.5 30.6,110.0 30.3,112.0 29.0,114.5 28.5,114.8 27.5,115.0Z" fill="#26268f" fill-opacity="0.1" stroke="#3434a6" stroke-width="0.5" stroke-opacity="0.9"/>
<path d="M28.0,114.2 27.0,114.3 26.5,114.1 24.4,112.5 24.1,110.5 24.5,110.1 25.8,109.5 25.9,109.0 25.0,108.7 24.5,109.0 24.3,110.0 24.0,110.2 23.5,109.5 23.5,104.5 24.6,102.0 24.0,100.5 24.0,97.5 22.7,95.0 22.7,93.5 23.4,91.5 23.2,90.0 22.4,88.5 22.2,87.5 22.5,84.0 23.7,81.0 24.0,80.6 25.1,80.0 27.5,79.5 28.5,79.6 29.4,80.5 30.6,83.5 30.9,85.0 31.7,86.5 31.5,87.5 30.6,89.0 30.8,89.5 32.0,90.4 32.2,91.0 32.0,93.0 32.5,95.0 32.4,96.0 32.0,96.5 31.0,97.2 30.4,98.0 30.3,99.5 31.1,102.0 31.1,103.5 30.4,105.5 30.5,108.0 30.0,109.5 29.9,111.5 29.6,112.5 28.9,113.5 28.0,114.2Z" fill="#26268f" fill-opacity="0.1" stroke="#3434a6" stroke-width="0.5" stroke-opacity="0.9"/>
<path d="M28.0,113.6 27.0,113.8 25.1,112.0 25.0,111.0 25.3,110.5 26.6,109.5 26.6,109.0 26.0,108.4 24.5,108.0 24.0,107.5 23.9,104.5 25.1,103.0 25.7,101.5 25.5,101.0 24.8,100.5 24.5,100.0 24.8,97.5 23.5,96.1 23.0,95.0 22.9,94.0 23.6,92.5 23.7,91.5 23.5,90.0 22.6,88.5 22.5,87.5 22.8,84.0 24.0,81.3 24.5,80.9 25.5,80.5 28.0,80.0 29.0,80.5 30.3,85.0 31.2,86.5 31.0,87.5 30.3,89.0 30.5,89.7 31.7,91.0 31.6,93.0 32.0,95.0 31.8,96.0 30.5,97.1 29.9,98.5 30.0,102.0 30.3,103.5 29.7,105.0 30.1,106.5 30.0,107.5 29.3,109.5 29.3,112.0 28.0,113.6Z" fill="#26268f" fill-opacity="0.1" stroke="#3434a6" stroke-width="0.5" stroke-opacity="0.9"/>
<path d="M28.0,113.1 27.0,113.3 25.6,112.0 25.4,111.0 25.8,110.5 27.0,109.7 27.9,109.5 26.0,107.9 24.5,107.2 24.2,105.5 24.4,104.5 25.3,103.5 26.0,102.2 28.1,101.0 28.1,99.5 27.8,99.0 27.0,98.6 26.5,99.8 26.0,100.3 25.5,100.2 25.0,99.6 25.0,99.0 25.5,98.3 26.5,98.0 26.2,97.5 24.0,96.2 23.2,95.0 23.2,94.0 23.9,92.5 24.0,91.5 23.8,90.0 22.9,88.5 22.7,87.5 23.2,84.0 24.5,82.0 25.5,81.3 28.0,80.5 28.7,81.0 28.8,83.0 29.6,84.0 29.9,85.5 30.7,86.5 30.7,87.5 30.0,89.0 30.4,90.0 31.3,91.0 31.2,93.0 31.6,95.0 31.2,96.0 30.2,97.0 29.7,98.0 29.6,100.5 29.3,101.5 29.4,103.5 28.4,104.5 28.3,105.0 29.4,106.0 29.6,107.0 29.2,108.0 28.0,109.5 28.5,109.9 28.9,111.5 28.5,112.5 28.0,113.1ZM26.5,90.0 26.3,89.5 25.6,89.5 25.6,90.0 26.0,90.2 26.5,90.0Z" fill="#26268f" fill-opacity="0.1" stroke="#3434a6" stroke-width="0.5" stroke-opacity="0.9"/>
<path d="M29.0,98.9 28.5,98.9 26.3,97.0 24.2,96.0 23.5,95.0 23.6,94.0 24.2,92.5 24.2,90.0 23.0,88.3 22.9,87.0 23.5,84.5 23.9,84.0 25.0,83.3 25.6,82.0 26.5,81.5 27.9,81.5 28.0,83.0 29.2,84.5 29.3,86.0 30.0,86.3 30.5,87.0 29.8,89.0 30.0,89.7 31.1,91.5 30.9,93.0 31.2,95.0 31.0,95.6 29.8,97.0 29.0,98.9ZM26.8,90.0 26.6,89.5 26.0,89.2 25.0,89.5 25.2,90.0 26.0,90.4 26.8,90.0ZM28.5,108.1 28.0,108.3 27.0,108.2 26.0,107.4 25.0,106.9 24.6,106.0 24.7,105.0 26.5,102.5 28.0,101.8 28.6,102.0 28.9,103.0 27.5,104.4 27.3,105.5 27.5,105.8 28.7,106.0 29.1,106.5 29.0,107.4 28.5,108.1ZM28.0,112.6 27.5,112.9 26.5,112.6 25.7,111.5 26.0,110.8 27.0,110.2 28.0,110.3 28.5,111.0 28.5,111.5 28.0,112.6Z" fill="#26268f" fill-opacity="0.1" stroke="#3434a6" stroke-width="0.5" stroke-opacity="0.9"/>
<path d="M29.0,98.1 28.5,98.3 28.0,98.0 26.5,96.8 24.5,95.9 23.8,95.0 23.8,94.0 24.4,92.5 24.3,91.0 24.5,90.2 25.0,90.2 26.0,90.6 26.5,90.5 27.0,90.0 26.8,89.5 26.0,89.0 24.5,89.4 24.0,89.2 23.1,88.0 23.1,87.0 24.0,84.7 25.3,83.5 26.0,82.3 26.5,82.0 27.0,82.2 27.4,83.0 28.9,84.5 28.8,86.0 29.0,86.5 30.0,86.7 30.2,87.0 29.7,89.0 29.7,89.5 30.8,91.5 30.6,93.0 30.9,95.0 29.0,98.1ZM26.5,107.0 25.3,106.5 25.0,106.0 25.0,105.0 27.0,102.9 28.0,102.4 28.3,103.0 27.0,104.0 26.9,106.5 26.5,107.0ZM28.0,107.8 27.5,107.9 26.5,107.0 27.0,106.6 28.5,106.5 28.7,107.0 28.0,107.8ZM27.5,112.6 27.0,112.6 26.5,112.3 26.0,111.5 26.1,111.0 27.0,110.4 27.6,110.5 28.1,111.0 28.1,112.0 27.5,112.6Z" fill="#26268f" fill-opacity="0.1" stroke="#3434a6" stroke-width="0.5" stroke-opacity="0.9"/>
<path d="M28.5,97.8 24.5,95.7 24.0,95.0 23.9,94.5 24.5,93.0 24.5,90.8 25.0,90.4 26.5,90.6 27.1,90.0 27.0,89.5 26.2,89.0 24.0,88.9 23.2,88.0 23.2,87.0 24.2,85.0 26.5,82.7 28.6,84.5 28.6,86.5 29.8,87.0 30.0,87.5 29.6,89.5 30.6,91.5 30.4,93.5 30.6,95.0 29.0,97.4 28.5,97.8ZM26.0,106.2 25.5,106.1 25.3,105.5 25.4,105.0 26.0,104.4 26.4,104.5 26.5,105.0 26.0,106.2ZM27.5,112.2 27.0,112.3 26.5,112.0 26.3,111.5 26.5,110.9 27.0,110.7 27.7,111.0 27.9,111.5 27.5,112.2Z" fill="#26268f" fill-opacity="0.1" stroke="#3434a6" stroke-width="0.5" stroke-opacity="0.9"/>
<path d="M28.0,96.3 27.5,96.4 25.0,95.5 24.5,95.0 24.4,94.5 24.9,93.0 25.0,91.0 26.0,91.0 27.0,90.6 27.5,90.0 27.4,89.5 26.5,88.9 24.0,88.5 23.5,87.5 23.8,86.5 25.2,84.5 26.5,83.6 27.0,83.7 28.1,84.5 28.3,85.0 28.1,86.5 28.5,87.1 29.3,87.5 29.3,89.5 30.2,91.5 29.9,93.0 29.9,95.0 28.0,96.3Z" fill="#26268f" fill-opacity="0.1" stroke="#3434a6" stroke-width="0.5" stroke-opacity="0.9"/>
<path d="M28.0,95.1 27.0,95.4 26.0,95.3 25.3,95.0 25.0,94.5 25.5,91.8 27.7,90.5 28.2,90.0 28.2,89.5 27.0,88.8 24.5,88.2 23.9,87.5 24.0,87.0 25.2,85.0 26.0,84.2 26.5,84.1 27.5,84.5 27.8,85.0 27.9,87.0 28.7,88.0 28.6,89.5 29.6,91.5 29.2,94.5 28.0,95.1Z" fill="#26268f" fill-opacity="0.1" stroke="#3434a6" stroke-width="0.5" stroke-opacity="0.9"/>
<path d="M77.5,77.1 76.0,76.8 75.0,75.9 74.0,74.4 73.1,72.0 72.2,67.5 71.1,58.5 69.7,52.5 69.5,49.5 69.8,48.0 70.5,46.0 71.5,44.5 73.0,42.9 74.5,41.9 76.5,41.0 78.5,40.6 80.5,40.6 82.5,40.9 84.5,41.6 86.5,42.8 87.8,44.0 89.0,45.5 89.7,47.0 90.2,48.5 90.3,50.5 89.9,52.5 89.3,54.0 86.0,58.6 85.0,60.5 83.1,68.0 81.2,73.0 79.5,75.8 78.5,76.7 77.5,77.1Z" fill="#26268f" fill-opacity="0.01" stroke="#3434a6" stroke-width="0.5" stroke-opacity="0.9"/>
<path d="M78.0,69.7 77.5,70.0 77.0,69.9 76.5,69.5 75.7,67.5 74.6,59.0 73.1,52.5 73.0,50.0 73.8,47.5 75.5,45.5 78.0,44.3 80.5,44.1 83.0,44.9 85.0,46.5 86.1,48.5 86.3,50.5 85.6,53.0 82.9,57.0 81.8,59.0 79.5,67.0 78.8,68.5 78.0,69.7Z" fill="#26268f" fill-opacity="0.01" stroke="#3434a6" stroke-width="0.5" stroke-opacity="0.9"/>
<ellipse cx="24.8" cy="49.5" rx="4.8" ry="6.2" fill="none" stroke="#3434a6" stroke-width="0.55"/>
<path d="M27.5,84.4h.6M25.7,91.7h.6M34.7,88.6h.6M26.6,79.0h.6M28.9,85.0h.6M30.1,86.6h.6M34.6,70.6h.6M24.5,94.3h.6M24.3,80.5h.6M24.7,75.6h.6M26.6,107.1h.6M31.7,77.9h.6M21.7,83.7h.6M31.0,80.2h.6M22.6,94.3h.6M30.3,83.9h.6M20.5,74.2h.6M22.5,68.6h.6M29.7,81.8h.6M28.4,102.4h.6M31.8,77.5h.6M30.3,96.6h.6M22.3,79.1h.6M25.5,73.8h.6M33.3,67.2h.6M20.5,84.8h.6M24.9,88.4h.6M27.3,85.2h.6M31.6,69.4h.6M26.0,81.1h.6M26.7,88.8h.6M21.5,81.7h.6M29.9,89.9h.6M22.6,103.8h.6M37.4,74.9h.6M27.5,107.7h.6M29.9,88.8h.6M25.0,82.5h.6M24.9,82.5h.6M29.7,83.7h.6M23.8,77.1h.6M25.8,79.6h.6M25.1,95.6h.6M27.8,91.2h.6M27.8,87.5h.6M25.4,84.5h.6M29.8,78.1h.6M32.6,87.3h.6M22.3,83.0h.6M22.6,88.3h.6M22.4,96.4h.6M22.1,68.3h.6M22.4,70.4h.6M25.8,95.7h.6M29.2,76.0h.6M22.2,101.7h.6M27.6,87.0h.6M31.2,107.2h.6M32.4,88.2h.6M27.8,92.1h.6M23.0,78.3h.6M26.3,79.2h.6M25.7,87.8h.6M37.6,80.0h.6M25.4,85.6h.6M28.2,95.6h.6M23.6,80.2h.6M28.7,87.4h.6M21.0,83.9h.6M26.2,91.2h.6M23.1,84.9h.6M34.0,68.9h.6M24.3,88.8h.6M24.1,80.3h.6M25.7,87.0h.6M25.6,71.5h.6M25.3,79.9h.6M23.3,88.9h.6M29.2,94.4h.6M23.5,94.6h.6M31.8,96.4h.6M32.9,85.8h.6M25.1,93.8h.6M23.4,84.0h.6M25.9,94.3h.6M30.9,86.3h.6M25.1,80.1h.6M28.0,85.0h.6M29.0,101.5h.6M25.8,74.6h.6M21.7,75.0h.6M20.1,97.8h.6M27.1,74.5h.6M29.2,97.4h.6M24.2,81.4h.6M24.3,89.3h.6M29.2,96.8h.6M32.0,96.8h.6M32.7,92.5h.6M27.6,83.8h.6M30.5,84.0h.6M21.4,98.9h.6M29.3,88.8h.6M30.6,95.8h.6M27.7,66.7h.6M22.7,83.2h.6M21.1,88.6h.6M31.9,83.0h.6M20.4,103.7h.6M23.8,76.8h.6M27.2,90.5h.6M22.5,93.5h.6M23.6,79.4h.6M26.9,93.4h.6M22.9,89.7h.6M25.5,110.3h.6M22.5,98.4h.6M25.7,86.0h.6M29.6,94.4h.6M32.3,89.7h.6M23.0,82.6h.6M28.5,91.8h.6M32.9,90.5h.6M31.2,99.5h.6M26.8,74.7h.6M20.2,75.1h.6M33.9,80.0h.6M32.1,91.8h.6M34.5,95.3h.6M25.5,85.3h.6M26.4,88.4h.6M23.4,86.7h.6M34.0,73.0h.6M27.3,79.5h.6M26.9,93.9h.6M25.7,93.4h.6M23.0,92.1h.6M26.9,65.7h.6M22.3,88.8h.6M33.7,89.4h.6M27.3,75.3h.6M33.1,101.9h.6M26.1,85.2h.6M39.4,92.9h.6M32.3,91.5h.6M21.1,98.0h.6M19.9,85.3h.6M27.4,94.3h.6M28.1,90.2h.6M22.2,76.4h.6M26.3,81.1h.6M19.5,76.6h.6M23.6,71.7h.6M19.3,73.5h.6M26.9,90.4h.6M35.9,74.6h.6M22.6,94.5h.6M24.9,84.3h.6M34.5,84.2h.6M20.3,76.1h.6M27.7,89.5h.6M28.6,91.8h.6M22.8,92.1h.6M28.8,72.3h.6M24.5,90.4h.6M23.2,69.4h.6M24.6,93.2h.6M33.8,68.9h.6M38.9,77.7h.6M30.7,97.2h.6M30.9,88.2h.6M20.3,92.2h.6M22.5,66.2h.6M40.0,92.8h.6M35.0,79.5h.6M33.3,100.1h.6M33.7,86.8h.6M20.0,85.5h.6M26.5,78.8h.6M25.2,86.1h.6M35.6,97.7h.6M25.8,97.0h.6M22.1,84.2h.6M30.5,76.8h.6M24.6,76.1h.6M26.6,100.5h.6M22.3,88.9h.6M21.6,77.5h.6M19.9,99.0h.6M37.7,91.0h.6M22.5,92.8h.6M24.3,93.6h.6M27.4,89.3h.6M29.0,82.2h.6M24.0,72.8h.6M23.8,75.3h.6M25.3,79.1h.6M26.5,90.7h.6M21.3,93.2h.6M34.4,94.0h.6M24.3,99.1h.6M22.8,64.1h.6M39.1,100.0h.6M20.9,88.4h.6M24.9,87.8h.6M28.3,88.8h.6M31.9,87.7h.6M37.6,81.1h.6M27.3,71.2h.6M19.8,98.0h.6M21.3,91.4h.6M25.7,78.4h.6M24.3,82.8h.6M23.6,93.2h.6M29.2,82.2h.6M21.5,89.3h.6M25.5,95.5h.6M39.1,94.0h.6M25.8,85.6h.6M21.8,79.5h.6M21.0,83.7h.6M23.9,93.1h.6M24.0,85.4h.6M20.0,100.6h.6M28.5,101.8h.6M29.9,99.3h.6M24.8,92.9h.6M39.4,76.9h.6M31.8,101.0h.6M28.1,93.3h.6M32.3,81.5h.6M28.1,79.7h.6M22.6,81.8h.6M25.3,88.2h.6M28.3,75.0h.6M36.0,96.8h.6M29.7,84.0h.6M25.5,91.6h.6M28.1,72.8h.6M29.8,111.7h.6M27.9,86.1h.6M33.0,77.0h.6M26.8,99.4h.6M25.0,83.5h.6M26.6,83.2h.6M33.9,79.3h.6M30.4,76.4h.6M29.4,86.1h.6M20.6,83.2h.6M33.8,77.5h.6M20.6,99.2h.6M26.6,100.1h.6M27.6,79.5h.6M25.7,97.4h.6M30.8,87.0h.6M26.2,86.0h.6M23.1,103.4h.6M26.0,77.4h.6M23.6,93.2h.6M29.3,85.8h.6M22.6,87.2h.6M30.1,82.9h.6M27.9,97.3h.6M29.3,87.2h.6M36.8,92.7h.6M24.2,93.2h.6M28.1,79.7h.6M26.4,85.6h.6M24.6,83.3h.6M25.8,87.9h.6M20.2,92.4h.6M19.8,85.1h.6M32.6,81.1h.6M23.4,96.1h.6M24.0,84.5h.6M27.1,95.9h.6M20.9,77.8h.6M21.7,79.9h.6M27.5,79.5h.6M26.6,90.4h.6M22.3,88.1h.6M34.3,89.7h.6M22.8,86.5h.6M21.4,89.3h.6M30.4,80.1h.6M24.9,96.4h.6M23.5,88.6h.6M20.8,80.1h.6M23.4,105.0h.6M24.0,82.6h.6M23.2,85.6h.6M29.2,88.6h.6M36.2,88.8h.6M33.2,89.3h.6M29.0,75.1h.6M25.4,86.4h.6M24.8,69.2h.6M30.4,83.8h.6M23.8,84.9h.6M24.9,90.4h.6M19.7,79.3h.6M27.4,88.2h.6M24.1,82.3h.6M21.9,86.5h.6M31.8,78.3h.6M33.5,94.0h.6M23.8,93.5h.6M19.6,83.6h.6M24.4,82.8h.6M26.5,69.4h.6M28.5,75.3h.6M22.7,83.6h.6M20.3,75.7h.6M21.0,86.9h.6M28.9,91.7h.6M21.1,80.5h.6M21.4,90.7h.6M23.6,80.5h.6M27.7,95.5h.6M27.7,95.7h.6M26.7,97.1h.6M32.2,86.2h.6M33.1,88.4h.6M26.4,79.4h.6M24.6,93.4h.6M19.5,92.4h.6M27.7,89.3h.6M29.2,80.7h.6M26.4,67.4h.6M29.3,81.5h.6M30.3,71.8h.6M29.4,85.0h.6M30.0,79.4h.6M22.9,105.5h.6M21.9,81.2h.6M24.6,78.6h.6M31.9,101.2h.6M22.5,72.8h.6M31.8,96.1h.6M30.1,96.5h.6M21.7,85.6h.6M30.9,81.5h.6M37.3,87.6h.6M22.8,93.6h.6M34.9,91.0h.6M20.0,90.1h.6M32.8,82.9h.6M22.2,95.4h.6M26.7,77.9h.6M24.1,80.8h.6M43.3,121.9h.6M44.2,105.5h.6M44.1,136.2h.6M26.3,93.0h.6M36.2,154.5h.6M27.0,67.6h.6M24.4,97.5h.6M25.4,85.1h.6M22.4,115.8h.6M24.4,72.3h.6M33.8,98.3h.6M21.1,64.2h.6M33.1,101.5h.6M28.4,86.9h.6M39.0,130.8h.6M28.3,74.2h.6M58.5,101.5h.6M38.3,77.0h.6M24.1,87.0h.6M40.1,61.4h.6M35.3,135.2h.6M29.5,76.2h.6M27.5,79.1h.6M46.9,89.3h.6M29.8,98.0h.6M21.5,114.5h.6M46.3,112.7h.6M31.2,118.6h.6M54.8,94.6h.6M44.4,90.2h.6M23.5,81.7h.6M29.1,106.4h.6M40.4,95.9h.6M34.1,87.1h.6M42.8,62.3h.6M27.1,87.3h.6M24.6,72.8h.6M23.7,157.4h.6M24.3,149.1h.6M31.9,81.0h.6M43.1,90.5h.6M23.0,104.4h.6M29.3,148.6h.6M25.8,106.9h.6M32.2,91.9h.6M45.0,102.3h.6M25.9,120.8h.6M62.9,106.3h.6M36.3,95.5h.6M23.1,110.5h.6M26.3,90.9h.6M38.0,81.6h.6M37.6,102.7h.6M25.1,93.8h.6M23.8,118.4h.6M44.6,101.3h.6M48.2,82.7h.6M28.3,61.1h.6M33.6,89.5h.6M21.9,106.2h.6M32.8,40.5h.6M26.4,63.0h.6M36.6,158.3h.6M26.6,96.6h.6M38.7,117.3h.6M32.4,108.2h.6M19.9,129.6h.6M50.6,110.7h.6M29.6,89.5h.6M27.4,93.9h.6M71.6,54.2h.6M77.6,64.3h.6M67.4,51.2h.6M75.6,50.2h.6M74.7,70.5h.6M79.5,50.1h.6M80.1,55.1h.6M76.2,58.1h.6M80.6,61.7h.6M80.3,53.7h.6M88.1,56.8h.6M83.0,56.3h.6M80.9,59.0h.6M77.9,36.8h.6M90.7,50.8h.6M70.6,48.6h.6M73.1,83.5h.6M84.0,38.7h.6M84.4,47.1h.6M88.7,48.2h.6M68.0,70.5h.6M76.1,55.3h.6M62.9,53.1h.6M87.4,38.6h.6M89.4,45.9h.6M98.8,53.1h.6M78.5,58.0h.6M79.1,65.3h.6M82.0,54.3h.6M65.7,64.6h.6M77.2,45.6h.6M79.9,42.5h.6M71.6,66.0h.6M75.8,50.5h.6M89.0,46.6h.6M83.9,54.3h.6M71.9,62.6h.6M72.5,57.7h.6M83.6,50.1h.6M69.3,50.8h.6M73.9,55.1h.6M79.0,44.2h.6M87.4,55.2h.6M74.6,79.3h.6M77.6,47.8h.6M78.7,51.6h.6M75.5,58.2h.6M92.2,60.8h.6M76.6,78.0h.6M79.7,52.7h.6M82.9,63.3h.6M91.5,62.7h.6M71.3,74.6h.6M76.7,47.8h.6M65.0,78.0h.6M82.6,68.9h.6M83.5,78.9h.6M77.7,70.5h.6M74.0,47.5h.6M81.2,73.1h.6M70.5,64.0h.6M77.0,50.8h.6M83.5,47.1h.6M70.7,61.1h.6M94.2,39.1h.6M81.8,54.4h.6M85.1,41.2h.6M77.4,51.0h.6M82.5,52.8h.6M70.7,57.2h.6M88.8,52.7h.6M75.1,52.9h.6M78.6,69.4h.6M70.0,50.8h.6M78.7,42.0h.6M79.2,60.4h.6M75.7,64.4h.6M70.1,59.4h.6M78.7,72.3h.6M88.6,41.4h.6M69.6,62.7h.6M80.5,83.7h.6M81.5,50.2h.6M82.5,50.5h.6M68.1,68.8h.6M82.6,55.1h.6M81.2,80.3h.6M79.6,73.6h.6M71.8,40.0h.6M91.4,60.6h.6M84.1,51.6h.6M81.3,45.0h.6M86.6,67.4h.6M84.0,52.7h.6M83.9,65.7h.6M86.0,41.6h.6M84.1,65.7h.6M75.9,49.1h.6M83.0,70.7h.6M81.5,41.9h.6M84.0,41.5h.6M73.7,74.4h.6M76.3,69.1h.6M105.2,55.6h.6M82.0,50.0h.6M74.9,42.3h.6M74.9,61.3h.6M74.7,48.5h.6M73.0,58.6h.6M69.1,53.3h.6M8.2,66.9h.6M11.8,55.6h.6M23.8,33.9h.6M20.8,56.0h.6M8.9,63.9h.6M37.5,35.6h.6M18.8,54.5h.6M40.7,39.3h.6M25.4,45.9h.6M55.3,49.2h.6M51.7,53.8h.6M37.2,47.0h.6M43.4,47.1h.6M45.8,33.2h.6M24.8,64.3h.6M28.6,62.9h.6M56.8,51.0h.6M13.3,59.1h.6M42.6,38.1h.6M52.9,46.7h.6M11.0,28.1h.6M19.9,52.4h.6M50.4,29.5h.6M9.2,53.0h.6M29.3,44.9h.6M50.7,66.4h.6M58.3,60.1h.6M8.2,31.8h.6M38.5,68.0h.6M12.2,48.2h.6M28.6,43.3h.6M22.0,37.2h.6M20.4,29.6h.6M36.8,45.1h.6M45.1,53.8h.6M57.5,40.3h.6M53.9,42.3h.6M42.4,61.2h.6M28.6,45.1h.6M40.8,30.0h.6M35.7,29.3h.6M19.7,53.0h.6M58.6,70.0h.6M21.6,31.6h.6M35.0,44.9h.6M27.7,59.6h.6M44.9,50.3h.6M40.3,51.2h.6M43.2,66.8h.6M57.2,69.1h.6M52.7,29.7h.6M31.5,60.2h.6M23.3,52.3h.6M10.9,34.2h.6M28.8,28.2h.6M78.9,50.0h.6M102.5,57.7h.6M76.6,99.8h.6M86.2,34.4h.6M67.7,83.1h.6M66.8,51.6h.6M89.6,73.0h.6M70.5,78.7h.6M90.2,33.4h.6M70.8,56.8h.6M103.5,34.5h.6M74.7,46.9h.6M93.5,100.6h.6M59.1,105.1h.6M93.6,48.9h.6M105.5,55.5h.6M98.6,36.5h.6M80.6,74.0h.6M104.4,102.8h.6M85.5,34.5h.6M79.2,62.7h.6M109.8,89.2h.6M77.9,61.7h.6M97.4,38.3h.6M100.1,88.4h.6M79.5,91.8h.6M77.5,42.5h.6M78.5,34.5h.6M60.7,68.2h.6M100.6,47.7h.6M83.0,115.2h.6M100.7,108.5h.6M92.4,81.2h.6M87.4,82.3h.6M81.1,61.4h.6M68.9,35.7h.6M75.9,97.0h.6M85.8,44.3h.6M100.0,33.6h.6M106.3,86.7h.6M86.0,65.9h.6M100.6,30.6h.6M56.9,75.3h.6M72.0,64.9h.6M85.0,33.8h.6M109.1,89.0h.6M61.3,94.3h.6M84.8,89.8h.6M95.8,116.2h.6M62.4,116.7h.6M81.8,47.5h.6M76.2,61.7h.6M104.3,75.6h.6M59.6,92.2h.6M82.9,100.9h.6M58.5,105.3h.6M104.2,30.7h.6M81.8,40.6h.6M84.6,37.8h.6M103.9,46.0h.6M66.1,86.4h.6M65.6,102.4h.6M65.7,102.7h.6M71.6,100.4h.6M67.1,75.9h.6M61.6,95.4h.6M80.4,123.1h.6M83.6,89.5h.6M70.1,92.0h.6M71.8,111.3h.6M80.5,69.9h.6M65.8,109.6h.6M74.8,80.8h.6M82.7,78.0h.6M69.5,76.7h.6M54.3,100.6h.6M61.1,74.8h.6M65.3,98.1h.6M71.4,85.3h.6M56.9,83.4h.6M58.7,90.5h.6M75.3,84.7h.6M90.4,94.5h.6M77.4,87.6h.6M70.3,102.4h.6M81.9,61.6h.6M81.5,94.2h.6M80.6,93.4h.6M60.8,63.9h.6M88.4,89.5h.6M59.2,91.3h.6M68.7,51.8h.6M51.4,56.2h.6M74.4,84.1h.6M69.8,90.1h.6M77.4,47.2h.6M69.3,70.1h.6M60.9,75.2h.6M70.9,80.2h.6M58.9,76.3h.6M90.1,66.0h.6M56.8,90.0h.6M77.4,93.4h.6M61.9,103.0h.6M64.9,64.6h.6M66.5,83.0h.6M78.4,96.2h.6M71.8,101.8h.6M72.7,101.1h.6M59.4,56.7h.6M79.0,60.0h.6M69.3,83.2h.6M67.6,76.8h.6M84.5,39.5h.6M80.0,126.3h.6M72.2,84.7h.6M78.5,117.9h.6M61.3,86.6h.6M70.3,95.1h.6M73.4,96.9h.6M68.2,85.9h.6M66.0,73.0h.6M70.7,82.4h.6M61.4,113.3h.6M70.8,60.1h.6M81.9,71.5h.6M76.6,84.7h.6M74.3,88.1h.6M66.8,85.7h.6M90.3,44.7h.6M72.6,92.8h.6M62.5,60.3h.6M91.4,78.3h.6M90.7,94.6h.6M72.7,93.6h.6M77.7,106.2h.6M75.9,87.6h.6M73.6,109.3h.6M79.4,67.0h.6M66.3,91.0h.6" stroke="#2c2c9c" stroke-width="0.7" stroke-opacity="0.75"/>
</g></g>
<rect x="30.6" y="273.4" width="117.6" height="117.6" fill="none" stroke="#9a9a9a" stroke-width="0.7"/>
<line x1="87.20" y1="273.40" x2="87.20" y2="391.00" stroke="#3a3a3a" stroke-width="1.0"/>
<line x1="30.60" y1="331.40" x2="148.20" y2="331.40" stroke="#3a3a3a" stroke-width="1.0"/>
<text x="32.40" y="283.00" font-size="9.6" fill="#111">1.19</text>
<text x="147.00" y="283.00" font-size="9.6" text-anchor="end" fill="#111">1.80</text>
<text x="32.40" y="387.80" font-size="9.6" fill="#111">94.7</text>
<text x="147.00" y="387.80" font-size="9.6" text-anchor="end" fill="#111">2.27</text>
<text x="25.0" y="287.9" font-size="8.3" fill="#000" text-anchor="end">10</text>
<text x="25.200000000000003" y="284.4" font-size="5.3" fill="#000">5</text>
<text x="25.0" y="315.6" font-size="8.3" fill="#000" text-anchor="end">10</text>
<text x="25.200000000000003" y="312.1" font-size="5.3" fill="#000">4</text>
<text x="25.0" y="348.6" font-size="8.3" fill="#000" text-anchor="end">10</text>
<text x="25.200000000000003" y="345.1" font-size="5.3" fill="#000">3</text>
<text x="27.400000000000002" y="364.4" font-size="8.3" fill="#000" text-anchor="end">0</text>
<path d="M29.4,360.9 v4.5" stroke="#222" stroke-width="1.3"/>
<path d="M55.9,391.5 h4" stroke="#111" stroke-width="1.4"/>
<text x="25.0" y="387.0" font-size="8.3" fill="#000" text-anchor="end">-10</text>
<text x="25.200000000000003" y="383.5" font-size="5.3" fill="#000">3</text>
<text x="29.7" y="401.4" font-size="9" fill="#000">-10</text>
<text x="42.9" y="397.6" font-size="5.8" fill="#000">3</text>
<text x="56.9" y="401.4" font-size="9" fill="#000">0</text>
<text x="72.4" y="401.4" font-size="9" fill="#000">10</text>
<text x="82.6" y="397.6" font-size="5.8" fill="#000">3</text>
<text x="103.8" y="401.4" font-size="9" fill="#000">10</text>
<text x="114.0" y="397.6" font-size="5.8" fill="#000">4</text>
<text x="132.0" y="401.4" font-size="9" fill="#000">10</text>
<text x="142.2" y="397.6" font-size="5.8" fill="#000">5</text>
<g clip-path="url(#cp01)"><g transform="translate(172.3,273.4)">
<path d="M30.0,137.5 26.5,137.5 25.5,137.3 24.0,135.9 23.0,134.0 21.8,130.5 20.7,125.5 19.9,119.0 19.6,114.0 19.6,100.5 19.3,88.5 19.6,82.5 20.2,78.0 21.7,72.0 23.3,68.5 24.5,67.0 25.5,66.3 28.0,65.8 31.0,66.2 34.5,67.8 42.0,72.7 47.3,77.0 49.6,78.5 52.0,79.5 59.5,81.6 62.0,82.7 63.8,84.0 65.1,85.5 65.8,87.0 66.2,89.0 65.6,91.5 64.3,93.5 62.0,95.4 58.0,97.5 56.9,98.5 56.4,99.5 56.0,101.5 56.2,111.5 55.4,118.5 54.4,122.5 53.4,125.5 52.0,128.5 50.5,130.8 48.0,133.4 45.5,134.8 43.0,135.1 38.5,134.2 37.0,134.3 35.5,134.8 31.5,137.1 30.0,137.5Z" fill="#26268f" fill-opacity="0.02" stroke="#3434a6" stroke-width="0.5" stroke-opacity="0.9"/>
<path d="M28.5,134.6 27.0,134.5 26.0,134.2 24.5,133.0 23.0,130.0 21.7,125.5 21.1,121.5 20.6,115.5 20.5,100.1 20.2,90.5 20.3,86.0 20.7,81.5 21.2,78.0 22.3,74.0 23.3,71.5 24.5,69.9 26.0,68.9 28.0,68.5 30.5,68.9 33.5,70.3 42.4,77.5 46.1,80.0 49.0,81.1 58.0,83.4 60.5,84.3 62.0,85.4 62.9,86.5 63.4,87.5 63.7,89.0 63.2,91.0 61.6,93.0 59.5,94.3 55.3,96.0 54.0,97.0 53.3,98.0 52.9,100.0 53.1,109.0 52.4,115.5 50.9,121.0 49.7,123.5 48.5,125.3 46.5,127.3 44.5,128.3 42.5,128.5 39.5,128.2 38.0,128.5 36.5,129.4 32.0,133.2 30.0,134.2 28.5,134.6Z" fill="#26268f" fill-opacity="0.02" stroke="#3434a6" stroke-width="0.5" stroke-opacity="0.9"/>
<path d="M29.5,132.2 27.5,132.4 26.0,132.0 24.5,130.6 23.6,129.0 22.6,126.0 21.8,122.0 21.0,113.0 21.1,100.5 20.7,89.0 21.3,81.0 22.4,76.0 24.0,72.5 25.5,70.9 26.5,70.5 28.0,70.2 30.5,70.7 33.0,72.0 35.0,73.6 40.5,78.9 43.5,81.0 47.2,82.5 59.0,85.4 60.1,86.0 61.2,87.0 61.7,88.0 61.8,89.0 61.5,90.5 60.2,92.0 58.5,92.9 53.9,94.5 52.4,95.5 51.2,97.0 50.6,99.5 50.8,107.0 50.3,112.5 49.0,117.5 47.1,121.0 46.0,122.2 44.5,123.1 43.0,123.6 40.0,123.8 38.5,124.3 37.0,125.5 32.5,130.4 31.0,131.5 29.5,132.2Z" fill="#26268f" fill-opacity="0.02" stroke="#3434a6" stroke-width="0.5" stroke-opacity="0.9"/>
<path d="M29.5,130.5 27.5,130.8 26.0,130.3 25.0,129.5 23.8,127.5 22.8,124.5 22.2,121.5 21.7,117.0 21.4,112.0 21.5,100.5 21.1,89.0 21.8,81.0 22.7,77.0 24.0,73.9 25.5,72.3 26.5,71.8 28.0,71.6 30.5,72.1 33.0,73.5 35.2,75.5 39.5,80.2 42.5,82.4 46.0,83.7 58.0,86.8 59.5,87.8 59.9,89.0 59.6,90.0 58.6,91.0 54.5,92.4 52.5,93.3 50.8,94.5 49.5,96.0 48.8,98.5 48.9,106.0 48.4,110.5 47.5,114.2 46.0,117.1 45.0,118.2 44.0,118.9 40.0,120.2 38.5,121.1 33.0,128.0 31.0,129.7 29.5,130.5Z" fill="#26268f" fill-opacity="0.02" stroke="#3434a6" stroke-width="0.5" stroke-opacity="0.9"/>
<path d="M28.5,129.6 26.5,129.3 25.0,128.2 23.8,126.0 22.7,122.0 21.8,113.5 21.8,101.0 21.4,90.5 21.8,83.0 22.3,80.0 23.1,77.0 24.0,75.0 25.0,73.7 26.5,72.8 28.0,72.5 30.5,73.0 33.0,74.6 35.0,76.5 39.0,81.3 41.5,83.3 44.5,84.6 51.5,86.5 54.8,88.0 55.6,88.5 56.0,89.0 55.7,89.5 55.0,90.0 49.6,93.5 48.0,95.5 47.4,98.0 47.4,105.0 47.1,108.0 46.3,111.5 45.0,114.0 43.5,115.6 40.0,117.4 39.0,118.1 37.5,119.9 34.2,125.0 32.7,127.0 30.5,128.8 28.5,129.6Z" fill="#26268f" fill-opacity="0.02" stroke="#3434a6" stroke-width="0.5" stroke-opacity="0.9"/>
<path d="M29.5,128.2 28.0,128.5 26.5,128.2 25.0,127.0 24.1,125.5 23.4,123.5 22.8,120.5 22.0,112.5 22.1,100.5 21.7,89.5 22.2,82.0 23.2,78.0 24.5,75.2 26.0,73.9 28.0,73.4 30.5,73.9 33.0,75.6 34.8,77.5 38.5,82.2 40.5,84.1 43.0,85.5 49.5,87.8 50.5,88.5 50.8,89.5 50.3,90.5 47.3,93.5 46.3,95.5 45.9,98.0 45.8,105.5 45.1,108.5 44.3,110.5 42.8,112.5 39.5,115.0 38.5,116.1 34.2,123.5 32.8,125.5 31.0,127.3 29.5,128.2Z" fill="#26268f" fill-opacity="0.02" stroke="#3434a6" stroke-width="0.5" stroke-opacity="0.9"/>
<path d="M29.0,127.2 27.5,127.3 26.0,126.7 25.0,125.7 24.1,124.0 22.9,119.0 22.3,111.5 22.4,101.0 22.0,89.5 22.4,83.0 23.3,79.0 24.5,76.3 26.0,74.8 28.0,74.3 30.0,74.7 32.5,76.2 34.6,78.5 39.0,84.5 41.5,86.5 45.1,88.5 45.6,89.0 46.1,90.0 46.0,91.0 45.0,93.4 44.5,95.5 44.3,102.0 43.8,105.5 43.2,107.5 42.0,109.4 39.5,112.0 38.0,114.1 34.7,121.0 32.9,124.0 31.0,126.0 29.0,127.2Z" fill="#26268f" fill-opacity="0.02" stroke="#3434a6" stroke-width="0.5" stroke-opacity="0.9"/>
<path d="M28.5,126.1 27.0,126.1 25.5,125.0 24.1,122.5 23.3,119.5 22.6,113.0 22.7,100.5 22.2,91.0 22.6,84.0 23.7,79.0 24.5,77.3 25.5,76.1 26.5,75.5 28.0,75.2 30.5,75.8 32.0,76.8 33.2,78.0 35.1,80.5 38.5,85.7 42.4,90.0 42.9,92.0 42.6,101.5 41.4,105.5 37.5,112.0 34.7,119.0 33.0,122.3 31.0,124.8 29.5,125.8 28.5,126.1Z" fill="#26268f" fill-opacity="0.02" stroke="#3434a6" stroke-width="0.5" stroke-opacity="0.9"/>
<path d="M29.0,124.6 27.5,124.8 26.5,124.4 25.5,123.5 24.6,122.0 23.6,118.5 22.9,112.0 23.1,100.5 22.6,90.5 22.9,84.0 23.6,81.0 24.8,78.0 26.0,76.8 27.0,76.3 28.0,76.2 30.0,76.7 31.5,77.6 33.0,79.1 35.0,82.0 37.9,87.0 39.8,91.0 40.3,94.0 40.5,97.5 39.9,102.0 36.5,110.8 35.1,115.5 33.7,119.0 32.7,121.0 31.3,123.0 30.5,123.8 29.0,124.6Z" fill="#26268f" fill-opacity="0.02" stroke="#3434a6" stroke-width="0.5" stroke-opacity="0.9"/>
<path d="M29.0,123.0 28.0,123.2 27.0,122.9 26.0,122.3 25.0,121.0 24.1,118.0 23.4,112.0 23.6,100.5 22.9,91.0 23.2,85.0 23.8,82.0 25.0,79.0 26.0,78.0 27.5,77.5 29.5,77.8 31.0,78.6 32.4,80.0 34.1,82.5 36.6,87.5 37.7,92.0 38.2,96.5 37.5,101.5 36.5,104.5 34.2,115.0 32.0,119.8 30.4,122.0 29.0,123.0Z" fill="#26268f" fill-opacity="0.02" stroke="#3434a6" stroke-width="0.5" stroke-opacity="0.9"/>
<path d="M28.5,121.2 27.5,121.3 26.5,120.8 25.7,120.0 25.1,119.0 24.0,113.5 23.8,109.5 24.2,100.5 23.3,91.5 23.6,85.5 23.9,83.5 24.5,81.9 26.0,79.3 27.0,78.8 29.5,79.1 30.5,79.5 31.6,80.5 33.3,83.0 35.4,87.5 35.9,91.0 36.3,96.0 35.7,100.0 34.9,103.0 34.7,106.0 33.8,110.0 33.7,112.0 33.2,114.5 31.5,118.5 30.5,119.6 28.5,121.2Z" fill="#26268f" fill-opacity="0.1" stroke="#3434a6" stroke-width="0.5" stroke-opacity="0.9"/>
<path d="M28.0,119.7 27.5,119.9 26.5,119.6 25.7,118.5 25.1,117.0 24.3,113.0 24.1,108.5 24.7,100.5 24.1,96.5 23.6,91.5 23.9,86.0 24.4,83.0 26.4,80.0 27.5,79.6 29.5,79.9 30.5,80.3 31.5,81.3 32.9,83.5 34.5,87.5 35.1,91.0 35.2,95.0 34.6,100.0 33.8,102.0 33.9,106.5 32.8,110.0 33.0,112.0 32.7,113.5 31.2,117.5 30.5,118.5 28.0,119.7ZM28.6,87.0 28.6,87.0Z" fill="#26268f" fill-opacity="0.1" stroke="#3434a6" stroke-width="0.5" stroke-opacity="0.9"/>
<path d="M27.5,118.5 26.5,118.3 25.9,117.5 25.5,116.5 25.3,114.5 24.6,112.5 24.3,108.5 25.2,100.5 24.3,96.0 23.8,91.0 24.3,85.0 24.8,83.0 27.0,80.6 28.0,80.4 29.5,80.5 30.5,81.1 32.4,83.5 33.8,87.0 34.3,89.5 34.5,95.0 33.7,100.0 32.8,102.0 32.0,104.5 33.2,106.5 33.1,107.5 32.1,110.0 32.5,112.0 32.3,113.0 30.5,117.3 30.0,118.0 27.5,118.5ZM29.4,87.5 29.4,87.0 28.5,86.5 27.8,87.0 27.7,87.5 28.5,87.8 29.4,87.5Z" fill="#26268f" fill-opacity="0.1" stroke="#3434a6" stroke-width="0.5" stroke-opacity="0.9"/>
<path d="M29.5,117.0 28.5,117.3 26.5,116.7 26.3,115.0 25.3,113.5 24.9,112.5 24.6,108.5 25.0,104.5 25.5,102.5 25.6,100.5 24.7,96.0 24.6,94.0 24.0,91.5 24.6,85.5 25.0,83.3 25.5,82.6 27.0,82.0 27.5,81.3 28.5,81.1 30.0,81.5 32.0,83.6 33.8,89.5 34.0,92.5 33.9,95.5 33.0,100.0 31.9,102.0 30.9,104.5 31.0,105.0 32.4,106.5 32.5,107.0 31.7,110.0 31.9,112.5 31.0,114.7 29.5,117.0ZM29.5,88.0 29.8,87.5 29.7,87.0 29.0,86.3 28.0,86.3 27.4,87.0 27.2,87.5 27.8,88.0 29.5,88.0Z" fill="#26268f" fill-opacity="0.1" stroke="#3434a6" stroke-width="0.5" stroke-opacity="0.9"/>
<path d="M28.5,116.1 28.0,115.6 27.5,114.1 26.0,113.7 25.4,113.0 25.1,112.0 24.8,108.5 25.3,104.5 26.0,102.5 26.0,101.5 25.6,98.0 25.0,96.0 24.9,94.0 24.2,91.0 24.8,87.0 25.0,84.5 25.3,83.5 26.0,82.9 27.5,83.7 28.5,82.0 29.0,81.9 30.5,82.6 31.7,84.0 32.6,86.5 32.7,88.0 33.5,90.0 33.6,93.5 33.5,95.5 32.7,98.0 32.5,100.0 29.8,104.0 30.1,105.0 31.8,106.5 32.0,107.0 32.0,108.0 31.4,109.5 31.4,112.0 30.4,114.5 29.0,116.0 28.5,116.1ZM30.0,88.0 30.0,87.0 29.7,86.5 28.5,85.9 28.0,85.9 27.5,86.3 26.8,87.5 27.2,88.0 28.0,88.2 29.5,88.3 30.0,88.0Z" fill="#26268f" fill-opacity="0.1" stroke="#3434a6" stroke-width="0.5" stroke-opacity="0.9"/>
<path d="M29.5,114.7 29.0,114.9 28.5,114.5 28.1,113.5 28.2,112.5 28.0,112.0 27.5,112.4 27.2,113.0 26.5,113.3 25.9,113.0 25.4,112.0 25.0,109.5 25.0,108.0 25.6,104.5 26.4,102.0 25.8,97.5 25.2,95.5 25.1,94.0 24.5,92.0 24.3,91.0 25.2,87.0 25.1,85.5 25.5,83.8 26.0,83.5 27.5,84.6 28.5,83.1 29.0,82.7 29.5,82.7 31.0,83.5 32.1,86.0 32.5,88.5 33.3,90.0 33.3,93.5 33.0,96.0 31.9,98.0 32.0,100.0 29.4,103.5 29.5,104.5 29.9,105.5 31.2,106.5 31.7,107.5 31.1,109.5 30.9,112.0 30.1,114.0 29.5,114.7ZM29.7,88.5 30.2,88.0 30.2,87.0 30.0,86.6 29.0,85.8 28.0,85.5 27.5,85.9 26.5,87.5 26.9,88.0 27.5,88.3 29.7,88.5Z" fill="#26268f" fill-opacity="0.1" stroke="#3434a6" stroke-width="0.5" stroke-opacity="0.9"/>
<path d="M29.5,113.8 29.0,113.8 29.0,112.5 28.4,111.5 28.0,111.3 27.5,111.4 26.5,112.6 26.0,112.4 25.5,111.0 25.2,108.0 25.8,104.5 26.5,103.0 26.7,102.0 26.0,97.0 25.5,95.5 25.4,94.0 24.6,92.0 24.5,91.0 25.0,88.5 25.5,87.7 26.0,87.6 27.6,88.5 29.5,88.7 30.3,88.5 30.6,87.5 30.3,86.5 28.2,85.0 28.5,83.8 29.0,83.3 29.5,83.2 30.5,83.5 31.2,84.5 31.9,86.5 32.0,88.5 32.8,89.5 33.0,90.5 32.8,95.5 32.0,96.6 31.0,96.6 30.3,97.0 30.4,98.0 31.3,99.0 31.4,99.5 31.3,100.0 29.0,103.5 29.8,106.0 31.0,106.8 31.4,107.5 30.8,109.5 30.6,111.5 29.5,113.8ZM26.5,86.7 26.0,86.9 25.4,86.0 25.5,84.9 26.0,84.3 27.2,85.5 27.1,86.0 26.5,86.7Z" fill="#26268f" fill-opacity="0.1" stroke="#3434a6" stroke-width="0.5" stroke-opacity="0.9"/>
<path d="M30.0,111.6 29.5,111.8 28.0,110.6 26.5,111.5 26.0,111.3 25.5,109.9 25.4,108.0 25.9,105.0 26.9,103.0 27.0,102.0 26.3,97.0 24.6,91.0 25.0,89.0 25.5,88.1 26.0,88.0 27.5,88.6 29.5,88.9 30.7,88.5 30.9,87.5 30.6,86.5 28.6,85.0 28.5,84.5 28.8,84.0 29.5,83.6 30.5,84.0 30.9,84.5 31.6,86.5 31.6,88.5 32.5,89.6 32.8,90.5 32.6,95.0 32.0,95.8 30.5,96.0 30.0,96.5 29.8,97.5 30.8,99.0 30.8,100.0 28.7,103.5 29.5,106.3 30.7,107.0 31.0,107.5 30.3,111.0 30.0,111.6ZM26.5,86.2 26.0,86.2 25.9,86.0 26.0,85.2 26.6,85.5 26.5,86.2Z" fill="#26268f" fill-opacity="0.1" stroke="#3434a6" stroke-width="0.5" stroke-opacity="0.9"/>
<path d="M31.0,86.0 29.5,85.6 28.8,85.0 28.7,84.5 29.0,84.0 29.5,83.8 30.0,83.9 30.5,84.3 31.0,86.0ZM30.0,111.1 29.5,111.4 28.5,110.3 28.0,110.1 26.5,110.8 26.0,110.5 25.5,109.0 26.1,105.0 27.2,102.5 26.6,99.5 26.4,97.0 25.9,95.5 25.6,93.5 24.7,91.5 25.2,89.0 25.5,88.3 26.0,88.1 27.5,88.7 29.5,89.0 30.1,89.0 31.0,88.6 31.5,88.7 32.5,89.9 32.7,90.5 32.2,95.0 32.0,95.3 30.5,95.5 30.0,95.9 29.7,96.5 29.6,97.5 30.5,99.0 30.6,100.0 28.4,103.5 29.3,106.5 30.7,107.5 30.8,108.0 30.0,111.1Z" fill="#26268f" fill-opacity="0.1" stroke="#3434a6" stroke-width="0.5" stroke-opacity="0.9"/>
<path d="M30.0,85.5 29.1,85.0 29.0,84.5 29.5,84.2 30.0,84.3 30.5,85.0 30.0,85.5ZM29.5,110.6 28.5,109.4 26.5,110.1 26.0,109.7 25.8,109.0 26.3,105.0 27.0,103.7 27.7,103.0 26.9,100.0 26.6,96.5 26.1,95.5 25.7,93.5 24.8,91.5 25.3,89.0 26.0,88.3 29.5,89.1 31.5,89.1 32.4,90.0 32.5,90.5 32.0,92.5 32.0,94.5 31.5,94.9 30.0,95.2 29.4,96.0 29.4,97.5 30.2,99.0 30.3,100.0 28.1,103.0 28.0,103.5 28.8,105.0 29.0,106.8 30.2,107.5 30.5,108.0 29.5,110.6Z" fill="#26268f" fill-opacity="0.1" stroke="#3434a6" stroke-width="0.5" stroke-opacity="0.9"/>
<path d="M28.5,101.4 28.0,101.3 27.6,100.5 27.2,98.5 27.2,96.5 25.1,91.5 25.3,90.0 26.0,88.8 30.0,89.5 31.0,89.5 31.8,90.0 32.1,90.5 32.0,91.0 31.0,92.5 30.9,93.5 29.5,94.6 28.5,96.0 28.4,96.5 29.7,99.5 29.5,100.3 28.5,101.4ZM27.5,108.1 27.0,108.4 26.5,107.5 26.7,105.0 27.0,104.5 27.5,104.2 28.0,104.5 28.5,105.5 27.5,108.1Z" fill="#26268f" fill-opacity="0.1" stroke="#3434a6" stroke-width="0.5" stroke-opacity="0.9"/>
<path d="M28.0,95.3 27.5,95.4 27.0,94.9 25.4,91.5 25.6,90.0 26.0,89.3 26.5,89.1 28.5,89.5 31.3,90.5 31.1,91.0 30.3,91.5 29.6,93.5 28.0,95.3ZM27.5,106.0 27.5,105.3 27.7,105.5 27.5,106.0Z" fill="#26268f" fill-opacity="0.1" stroke="#3434a6" stroke-width="0.5" stroke-opacity="0.9"/>
<path d="M79.5,79.6 78.5,79.8 77.0,79.7 75.0,78.8 73.0,76.6 71.5,73.5 70.7,71.0 70.3,68.0 70.4,59.5 69.9,53.0 70.1,51.0 70.7,49.0 71.8,47.0 73.0,45.7 74.5,44.5 76.5,43.5 78.5,43.0 80.5,42.8 82.5,43.1 84.5,43.6 86.5,44.7 88.0,46.0 89.2,47.5 90.0,49.0 90.4,50.5 90.6,52.5 90.2,54.5 89.7,56.0 87.0,60.5 86.4,62.0 86.0,64.0 85.5,70.0 84.4,74.0 83.4,76.0 82.3,77.5 81.0,78.8 79.5,79.6Z" fill="#26268f" fill-opacity="0.01" stroke="#3434a6" stroke-width="0.5" stroke-opacity="0.9"/>
<path d="M78.5,74.6 77.0,74.4 75.6,73.5 74.5,72.0 73.7,70.0 73.1,66.5 73.3,59.5 72.5,54.5 72.4,52.5 72.6,51.0 73.2,49.5 75.0,47.2 77.5,45.7 79.0,45.3 81.0,45.2 83.5,45.8 85.0,46.6 86.1,47.5 86.9,48.5 87.6,50.0 88.0,52.5 87.7,54.0 87.2,55.5 84.1,60.0 83.5,61.5 83.1,63.0 82.7,68.0 81.9,71.0 80.5,73.4 79.5,74.2 78.5,74.6Z" fill="#26268f" fill-opacity="0.01" stroke="#3434a6" stroke-width="0.5" stroke-opacity="0.9"/>
<path d="M79.0,60.8 78.5,61.0 78.0,60.8 76.0,57.7 74.8,54.5 74.7,52.0 75.5,50.0 77.0,48.4 79.0,47.5 81.5,47.4 83.5,48.3 84.8,49.5 85.5,51.0 85.6,53.0 85.2,54.5 84.0,56.3 79.0,60.8Z" fill="#26268f" fill-opacity="0.01" stroke="#3434a6" stroke-width="0.5" stroke-opacity="0.9"/>
<path d="M80.5,56.1 79.0,56.2 78.0,55.6 77.2,54.5 76.8,53.0 77.0,51.5 77.7,50.5 78.5,49.8 80.0,49.3 81.4,49.5 82.4,50.0 83.2,51.0 83.5,52.0 83.3,53.5 82.8,54.5 81.7,55.5 80.5,56.1Z" fill="#26268f" fill-opacity="0.01" stroke="#3434a6" stroke-width="0.5" stroke-opacity="0.9"/>
<path d="M35.2,77.9h.6M24.3,94.7h.6M25.9,103.4h.6M35.0,95.4h.6M25.6,94.1h.6M31.5,80.2h.6M29.2,94.8h.6M28.6,102.0h.6M33.5,82.2h.6M28.1,82.1h.6M30.4,81.8h.6M32.1,92.2h.6M32.3,87.8h.6M26.6,100.4h.6M29.6,94.6h.6M36.6,91.8h.6M34.4,76.8h.6M31.8,87.0h.6M26.8,89.1h.6M29.2,102.7h.6M24.0,98.6h.6M25.4,92.8h.6M25.5,94.5h.6M32.5,85.7h.6M27.7,77.3h.6M29.0,96.1h.6M24.8,98.2h.6M27.6,88.3h.6M27.2,95.0h.6M25.2,78.6h.6M34.7,93.0h.6M23.4,89.0h.6M31.8,99.0h.6M23.0,95.3h.6M28.7,98.1h.6M34.4,86.2h.6M36.3,94.7h.6M28.6,108.8h.6M22.4,96.4h.6M24.7,89.4h.6M27.9,101.5h.6M22.9,84.6h.6M25.2,92.5h.6M22.2,86.0h.6M32.6,87.6h.6M30.6,93.4h.6M25.8,76.1h.6M32.4,90.4h.6M32.4,72.4h.6M23.2,97.6h.6M30.3,88.7h.6M28.1,95.3h.6M26.0,92.3h.6M28.2,71.0h.6M25.6,100.2h.6M25.5,87.8h.6M24.5,85.0h.6M33.1,86.8h.6M22.4,63.3h.6M24.7,72.8h.6M31.0,73.2h.6M31.7,92.8h.6M23.6,95.1h.6M31.8,78.0h.6M28.5,86.2h.6M31.8,83.1h.6M27.7,81.3h.6M28.9,103.9h.6M24.6,89.3h.6M34.1,83.6h.6M23.3,79.9h.6M29.4,93.1h.6M26.7,89.2h.6M33.7,96.0h.6M27.9,94.8h.6M26.3,83.5h.6M25.1,74.1h.6M27.2,83.9h.6M29.7,80.3h.6M25.2,80.7h.6M22.1,94.5h.6M25.0,92.4h.6M24.8,93.5h.6M28.2,87.2h.6M31.4,90.2h.6M30.0,95.0h.6M27.0,86.2h.6M28.9,85.2h.6M29.2,97.8h.6M31.5,85.5h.6M26.7,97.7h.6M25.4,86.9h.6M30.9,84.7h.6M26.5,102.7h.6M34.6,93.8h.6M28.6,80.6h.6M30.0,89.1h.6M28.4,84.3h.6M27.2,87.1h.6M28.8,100.4h.6M29.1,75.0h.6M22.5,75.6h.6M23.3,93.2h.6M29.2,83.7h.6M28.6,82.4h.6M23.0,100.3h.6M33.8,87.1h.6M27.0,83.5h.6M27.1,94.0h.6M27.3,96.8h.6M33.1,91.4h.6M28.9,88.1h.6M29.0,79.4h.6M29.2,90.3h.6M23.0,106.3h.6M22.4,81.4h.6M28.6,72.6h.6M23.3,76.0h.6M22.5,87.5h.6M28.8,97.7h.6M31.2,98.3h.6M30.1,84.7h.6M32.7,84.5h.6M24.2,101.1h.6M31.1,90.4h.6M30.9,95.8h.6M23.9,99.7h.6M29.8,81.9h.6M27.1,78.6h.6M27.4,93.1h.6M28.5,72.6h.6M25.6,92.7h.6M28.7,98.1h.6M24.0,90.1h.6M29.2,94.2h.6M24.4,90.1h.6M30.0,88.1h.6M27.3,101.3h.6M32.4,95.1h.6M29.6,91.8h.6M29.3,86.6h.6M35.9,100.7h.6M26.7,80.4h.6M37.4,84.0h.6M33.1,104.3h.6M22.5,90.9h.6M25.5,92.8h.6M28.8,104.6h.6M30.1,88.4h.6M32.8,86.3h.6M25.4,107.0h.6M23.1,84.5h.6M27.4,79.8h.6M23.3,84.1h.6M25.4,80.4h.6M39.1,94.6h.6M30.9,76.1h.6M27.1,78.8h.6M31.0,86.6h.6M27.4,87.8h.6M24.3,76.0h.6M30.1,77.1h.6M23.7,90.7h.6M32.2,90.6h.6M28.2,88.7h.6M31.5,73.3h.6M29.0,80.8h.6M25.3,93.3h.6M32.7,69.3h.6M26.8,104.7h.6M31.5,100.4h.6M27.7,76.7h.6M32.0,82.5h.6M25.9,90.7h.6M35.2,106.5h.6M26.7,103.6h.6M24.6,81.8h.6M25.4,107.8h.6M28.9,90.1h.6M25.4,87.2h.6M32.1,83.5h.6M27.7,91.8h.6M32.0,89.4h.6M35.7,86.5h.6M24.2,84.7h.6M32.2,90.7h.6M23.2,91.4h.6M29.8,94.3h.6M23.4,96.1h.6M36.5,85.0h.6M30.9,75.7h.6M27.4,90.2h.6M24.4,86.1h.6M31.3,102.7h.6M26.2,74.9h.6M33.6,93.5h.6M30.6,90.1h.6M38.7,89.2h.6M29.8,73.3h.6M24.4,82.9h.6M27.1,91.5h.6M23.5,102.9h.6M28.4,78.3h.6M30.1,93.8h.6M25.8,104.3h.6M27.7,90.9h.6M22.5,74.8h.6M24.1,85.9h.6M25.0,94.9h.6M24.4,84.3h.6M25.2,90.4h.6M29.2,93.1h.6M33.4,87.0h.6M26.4,94.5h.6M29.4,86.6h.6M27.5,84.4h.6M30.8,96.3h.6M27.3,104.1h.6M35.7,85.1h.6M30.0,78.7h.6M31.1,80.1h.6M24.9,79.5h.6M25.4,80.3h.6M27.6,88.4h.6M31.0,84.8h.6M26.0,101.3h.6M31.5,83.3h.6M31.9,79.0h.6M32.3,85.4h.6M31.1,93.8h.6M25.9,91.3h.6M32.6,122.5h.6M30.8,89.3h.6M22.2,97.4h.6M29.0,78.6h.6M34.9,97.7h.6M24.4,84.0h.6M29.5,93.8h.6M29.0,90.8h.6M24.5,91.6h.6M34.6,99.6h.6M25.0,85.9h.6M34.1,103.4h.6M28.4,98.7h.6M23.1,93.9h.6M25.8,108.3h.6M29.4,87.5h.6M25.6,97.4h.6M30.7,79.7h.6M28.4,77.5h.6M23.5,77.9h.6M22.4,93.0h.6M31.2,86.6h.6M30.9,94.1h.6M32.1,86.8h.6M30.1,82.3h.6M23.8,77.1h.6M29.5,79.0h.6M30.0,78.9h.6M26.4,70.9h.6M31.7,79.1h.6M23.4,95.2h.6M25.3,84.1h.6M29.9,90.3h.6M32.8,95.2h.6M24.4,87.7h.6M27.0,77.4h.6M22.4,96.7h.6M28.7,87.5h.6M30.0,92.6h.6M33.3,85.3h.6M26.2,86.6h.6M36.6,96.5h.6M22.7,85.9h.6M23.8,88.8h.6M28.4,107.6h.6M29.5,82.9h.6M26.6,84.6h.6M27.6,97.0h.6M25.5,101.1h.6M29.4,98.9h.6M30.1,97.7h.6M27.6,81.8h.6M30.7,94.6h.6M37.7,72.1h.6M26.3,97.5h.6M37.8,100.4h.6M23.0,100.5h.6M33.2,95.2h.6M29.2,90.7h.6M23.0,84.5h.6M31.0,89.9h.6M36.5,86.0h.6M28.7,91.9h.6M27.7,82.0h.6M34.8,83.3h.6M30.9,86.4h.6M29.5,85.8h.6M31.1,88.0h.6M25.1,106.6h.6M26.3,87.5h.6M22.0,82.6h.6M30.6,93.5h.6M27.4,83.0h.6M30.8,74.8h.6M25.7,86.8h.6M23.2,90.1h.6M24.1,82.2h.6M36.3,95.0h.6M33.4,89.3h.6M32.2,95.3h.6M33.4,108.4h.6M26.3,91.0h.6M27.2,59.9h.6M30.6,84.2h.6M33.1,99.5h.6M25.4,100.7h.6M36.1,92.8h.6M22.6,101.1h.6M26.7,85.9h.6M28.1,84.5h.6M32.8,95.4h.6M33.5,93.8h.6M23.6,87.7h.6M31.8,85.6h.6M42.0,87.0h.6M24.6,98.5h.6M31.2,88.8h.6M26.4,92.5h.6M31.6,95.3h.6M26.0,92.6h.6M31.7,95.3h.6M23.7,87.1h.6M28.4,96.6h.6M30.6,88.0h.6M27.6,103.5h.6M24.5,91.5h.6M35.2,91.9h.6M25.6,88.1h.6M32.7,92.9h.6M26.2,96.4h.6M29.7,89.9h.6M29.0,91.1h.6M25.8,85.2h.6M27.6,81.1h.6M26.3,88.8h.6M26.8,89.2h.6M27.6,89.5h.6M23.5,96.7h.6M24.1,97.5h.6M39.0,80.7h.6M33.1,67.6h.6M22.1,111.4h.6M25.3,97.4h.6M35.7,103.2h.6M34.4,107.1h.6M47.3,117.9h.6M23.6,87.2h.6M39.4,76.0h.6M31.6,89.9h.6M57.2,124.2h.6M30.6,130.9h.6M69.7,98.0h.6M36.7,93.1h.6M31.8,100.6h.6M31.8,132.0h.6M42.1,103.6h.6M37.4,108.2h.6M37.3,82.7h.6M52.1,103.8h.6M35.2,97.2h.6M34.7,113.9h.6M23.6,92.1h.6M26.8,135.9h.6M43.6,95.9h.6M32.8,127.6h.6M40.3,95.8h.6M30.4,110.0h.6M28.5,144.4h.6M25.9,116.9h.6M39.8,112.0h.6M36.3,87.0h.6M27.6,98.4h.6M35.7,49.2h.6M47.6,62.4h.6M37.9,77.7h.6M28.5,138.0h.6M26.7,73.5h.6M33.9,111.7h.6M22.5,96.7h.6M59.3,82.5h.6M22.3,80.8h.6M23.9,82.7h.6M26.7,71.7h.6M32.9,101.4h.6M23.7,103.0h.6M42.4,89.6h.6M27.7,92.5h.6M64.7,83.4h.6M32.1,101.0h.6M45.7,97.6h.6M43.6,119.6h.6M38.7,85.8h.6M29.4,157.5h.6M36.3,91.5h.6M34.0,114.4h.6M46.3,125.2h.6M25.3,92.3h.6M27.0,82.3h.6M27.3,70.3h.6M34.9,117.1h.6M44.4,110.1h.6M45.8,89.8h.6M35.8,93.6h.6M26.0,74.5h.6M31.7,81.3h.6M37.8,109.2h.6M39.3,78.8h.6M25.4,78.3h.6M27.8,108.4h.6M81.6,60.3h.6M90.0,70.7h.6M74.0,51.0h.6M74.2,52.3h.6M63.1,67.0h.6M80.4,56.6h.6M75.6,67.3h.6M72.7,60.1h.6M66.3,52.9h.6M92.9,53.2h.6M80.6,53.4h.6M88.3,56.2h.6M83.8,67.4h.6M71.1,79.1h.6M78.1,68.3h.6M84.1,51.8h.6M75.3,72.0h.6M77.3,52.5h.6M73.2,46.9h.6M73.2,59.7h.6M80.6,60.5h.6M65.8,67.6h.6M62.1,52.6h.6M76.4,35.8h.6M64.6,68.0h.6M81.1,51.2h.6M72.2,93.6h.6M79.2,45.8h.6M90.1,73.9h.6M77.5,60.6h.6M81.8,56.6h.6M79.7,52.8h.6M88.3,53.2h.6M70.7,56.2h.6M88.1,49.3h.6M80.9,56.7h.6M78.9,46.5h.6M85.6,58.8h.6M84.2,86.7h.6M80.6,75.9h.6M89.4,62.3h.6M90.5,88.2h.6M86.8,65.2h.6M87.3,45.7h.6M89.6,54.4h.6M83.8,53.1h.6M91.4,56.0h.6M74.9,55.5h.6M86.3,46.8h.6M74.9,61.1h.6M75.6,54.5h.6M85.3,90.2h.6M90.1,59.4h.6M86.2,83.1h.6M75.3,74.9h.6M83.1,51.1h.6M74.7,59.5h.6M76.1,50.2h.6M81.8,65.7h.6M78.8,70.3h.6M83.2,58.4h.6M77.2,45.4h.6M62.0,41.2h.6M92.8,38.9h.6M84.3,62.6h.6M76.8,63.7h.6M91.3,78.1h.6M95.1,74.0h.6M72.8,72.7h.6M77.0,42.6h.6M70.3,68.7h.6M74.1,65.8h.6M73.3,67.9h.6M78.7,49.1h.6M70.9,41.9h.6M74.6,54.2h.6M97.2,59.7h.6M95.2,55.6h.6M79.9,42.6h.6M80.6,36.7h.6M78.2,63.8h.6M83.3,60.3h.6M77.6,42.2h.6M76.8,49.3h.6M86.8,91.6h.6M72.8,61.7h.6M77.1,61.8h.6M70.7,52.8h.6M83.6,55.0h.6M71.0,51.4h.6M66.8,58.8h.6M70.8,62.8h.6M75.0,58.9h.6M70.6,43.7h.6M90.7,69.6h.6M80.1,93.2h.6M77.5,73.5h.6M80.9,60.8h.6M81.8,70.4h.6M76.4,70.0h.6M90.1,37.3h.6M79.7,49.2h.6M78.4,38.0h.6M83.5,55.6h.6M76.6,60.0h.6M66.2,60.7h.6M66.0,45.4h.6M78.2,52.2h.6M81.2,51.2h.6M97.9,55.4h.6M19.2,32.9h.6M35.8,55.1h.6M44.8,34.4h.6M25.4,31.6h.6M42.0,43.9h.6M22.2,35.1h.6M57.4,46.7h.6M59.5,39.5h.6M19.2,57.2h.6M55.4,32.4h.6M52.8,51.4h.6M55.0,67.6h.6M30.2,67.3h.6M17.4,45.0h.6M31.0,36.0h.6M33.2,58.9h.6M13.6,46.6h.6M35.3,33.8h.6M41.4,36.4h.6M37.7,50.7h.6M46.9,67.1h.6M56.2,47.6h.6M21.7,35.9h.6M48.9,59.2h.6M49.3,62.5h.6M37.4,65.4h.6M42.2,53.4h.6M51.5,54.3h.6M47.9,66.8h.6M28.6,58.8h.6M23.5,46.9h.6M53.4,68.8h.6M57.3,59.1h.6M52.1,64.8h.6M39.7,36.0h.6M8.9,59.3h.6M47.5,57.9h.6M38.2,54.6h.6M45.4,48.9h.6M42.2,35.1h.6M35.8,53.3h.6M37.6,36.6h.6M14.6,54.5h.6M13.9,60.7h.6M17.5,59.7h.6M26.5,65.6h.6M19.7,32.1h.6M43.1,59.8h.6M26.2,46.2h.6M42.4,38.3h.6M28.2,50.5h.6M23.8,31.6h.6M55.2,30.5h.6M59.3,63.0h.6M31.2,63.7h.6M59.5,78.9h.6M75.1,56.2h.6M104.3,33.3h.6M102.6,36.8h.6M92.6,54.9h.6M84.5,110.5h.6M99.1,38.6h.6M72.5,72.5h.6M94.7,30.5h.6M102.7,103.2h.6M107.6,47.6h.6M67.5,102.5h.6M83.8,51.3h.6M56.9,48.8h.6M92.5,93.8h.6M75.1,109.8h.6M83.5,75.0h.6M77.3,65.1h.6M75.4,101.7h.6M79.8,50.1h.6M79.5,110.5h.6M90.5,39.1h.6M78.6,70.6h.6M56.8,113.6h.6M105.5,38.8h.6M85.8,57.2h.6M67.4,53.9h.6M58.9,89.9h.6M75.8,90.9h.6M100.0,79.8h.6M74.6,42.2h.6M91.2,88.7h.6M98.2,42.0h.6M58.5,106.5h.6M88.7,38.2h.6M94.3,34.9h.6M90.1,78.3h.6M94.6,38.2h.6M105.1,111.8h.6M109.2,96.6h.6M72.8,115.1h.6M89.2,92.5h.6M91.7,48.0h.6M102.1,86.3h.6M67.9,62.9h.6M63.8,67.7h.6M109.4,63.4h.6M77.4,99.9h.6M60.5,40.4h.6M96.3,41.3h.6M89.0,101.1h.6M86.4,37.0h.6M67.1,77.0h.6M107.5,86.9h.6M93.6,81.8h.6M73.6,82.9h.6M56.5,66.0h.6M99.8,47.8h.6M91.0,92.7h.6M64.5,104.6h.6M64.2,91.9h.6M93.4,61.1h.6M83.8,107.5h.6M55.8,60.6h.6M63.9,103.8h.6M68.8,83.4h.6M79.1,88.5h.6M74.7,80.6h.6M82.8,72.4h.6M87.8,80.3h.6M65.5,98.0h.6M76.7,50.7h.6M74.7,62.1h.6M65.2,100.5h.6M64.9,92.7h.6M69.2,121.1h.6M71.8,65.2h.6M62.7,70.0h.6M73.8,86.2h.6M81.4,89.3h.6M73.8,92.1h.6M71.4,91.5h.6M79.7,100.3h.6M67.7,54.4h.6M65.3,91.2h.6M50.2,77.6h.6M76.6,76.0h.6M62.5,117.7h.6M85.0,81.5h.6M84.5,109.5h.6M62.4,134.3h.6M64.1,81.3h.6M62.7,87.4h.6M60.7,85.9h.6M82.3,89.9h.6M70.1,113.8h.6M64.4,103.4h.6M69.8,89.8h.6M72.8,88.2h.6M72.0,71.8h.6M67.3,93.8h.6M71.5,64.9h.6M66.1,73.4h.6M71.9,89.0h.6M73.2,74.0h.6M72.6,61.1h.6M46.4,84.8h.6M57.5,68.7h.6M61.5,97.0h.6M61.4,90.6h.6M67.9,63.3h.6M58.1,93.9h.6M75.7,99.4h.6M88.7,90.4h.6M74.8,83.2h.6M73.2,79.1h.6M64.1,121.2h.6M55.4,89.9h.6M76.1,88.0h.6M63.5,81.8h.6M68.0,65.9h.6M71.7,77.8h.6M67.1,97.4h.6M62.5,93.0h.6M66.5,92.7h.6M72.6,89.4h.6M63.2,71.1h.6M64.3,88.1h.6M78.7,104.3h.6M67.5,86.4h.6M57.4,45.0h.6M64.2,72.9h.6M58.0,52.9h.6M76.7,70.4h.6M56.8,126.5h.6M73.4,79.0h.6M78.0,71.1h.6M86.1,57.1h.6M60.1,82.2h.6M65.0,109.9h.6" stroke="#2c2c9c" stroke-width="0.7" stroke-opacity="0.75"/>
</g></g>
<rect x="172.3" y="273.4" width="117.6" height="117.6" fill="none" stroke="#9a9a9a" stroke-width="0.7"/>
<line x1="228.90" y1="273.40" x2="228.90" y2="391.00" stroke="#3a3a3a" stroke-width="1.0"/>
<line x1="172.30" y1="331.40" x2="289.90" y2="331.40" stroke="#3a3a3a" stroke-width="1.0"/>
<text x="174.10" y="283.00" font-size="9.6" fill="#111">0.46</text>
<text x="288.70" y="283.00" font-size="9.6" text-anchor="end" fill="#111">2.30</text>
<text x="174.10" y="387.80" font-size="9.6" fill="#111">93.6</text>
<text x="288.70" y="387.80" font-size="9.6" text-anchor="end" fill="#111">3.62</text>
<text x="166.70000000000002" y="287.9" font-size="8.3" fill="#000" text-anchor="end">10</text>
<text x="166.9" y="284.4" font-size="5.3" fill="#000">5</text>
<text x="166.70000000000002" y="315.6" font-size="8.3" fill="#000" text-anchor="end">10</text>
<text x="166.9" y="312.1" font-size="5.3" fill="#000">4</text>
<text x="166.70000000000002" y="348.6" font-size="8.3" fill="#000" text-anchor="end">10</text>
<text x="166.9" y="345.1" font-size="5.3" fill="#000">3</text>
<text x="169.10000000000002" y="364.4" font-size="8.3" fill="#000" text-anchor="end">0</text>
<path d="M171.1,360.9 v4.5" stroke="#222" stroke-width="1.3"/>
<path d="M197.6,391.5 h4" stroke="#111" stroke-width="1.4"/>
<text x="166.70000000000002" y="387.0" font-size="8.3" fill="#000" text-anchor="end">-10</text>
<text x="166.9" y="383.5" font-size="5.3" fill="#000">3</text>
<text x="171.4" y="401.4" font-size="9" fill="#000">-10</text>
<text x="184.6" y="397.6" font-size="5.8" fill="#000">3</text>
<text x="198.6" y="401.4" font-size="9" fill="#000">0</text>
<text x="214.1" y="401.4" font-size="9" fill="#000">10</text>
<text x="224.3" y="397.6" font-size="5.8" fill="#000">3</text>
<text x="245.5" y="401.4" font-size="9" fill="#000">10</text>
<text x="255.7" y="397.6" font-size="5.8" fill="#000">4</text>
<text x="273.7" y="401.4" font-size="9" fill="#000">10</text>
<text x="283.9" y="397.6" font-size="5.8" fill="#000">5</text>
<g clip-path="url(#cp02)"><g transform="translate(313.2,273.4)">
<path d="M32.0,137.5 25.0,137.6 24.4,137.5 23.7,136.5 22.3,133.5 21.2,129.5 20.3,124.0 19.7,118.0 19.2,90.0 19.6,83.5 20.1,79.5 21.7,73.0 23.2,69.5 25.0,67.6 26.0,67.0 27.5,66.7 29.0,66.7 31.0,67.1 34.0,68.4 52.5,80.4 55.3,83.0 57.1,85.5 58.3,88.5 58.8,91.5 58.7,94.0 58.2,96.5 54.3,105.5 51.7,117.0 50.7,120.0 49.3,123.0 47.9,125.0 46.0,126.9 44.5,127.7 41.0,129.1 39.5,130.1 34.5,135.6 32.0,137.5Z" fill="#26268f" fill-opacity="0.02" stroke="#3434a6" stroke-width="0.5" stroke-opacity="0.9"/>
<path d="M29.0,135.6 27.0,135.7 25.5,135.0 24.0,133.4 22.9,131.0 21.8,127.0 21.2,123.5 20.6,118.5 20.4,112.5 20.5,102.0 20.1,89.0 20.4,85.0 21.1,79.5 22.2,75.0 23.9,71.5 25.5,70.0 26.5,69.6 28.0,69.4 30.5,69.8 33.0,70.9 41.0,77.0 48.5,81.4 51.0,83.1 52.9,85.0 54.3,87.0 55.3,89.5 55.7,92.0 55.5,94.5 54.7,97.0 51.5,104.0 48.6,113.0 46.8,117.0 44.8,119.5 40.0,123.6 35.4,130.5 33.5,132.8 31.0,134.8 29.0,135.6Z" fill="#26268f" fill-opacity="0.02" stroke="#3434a6" stroke-width="0.5" stroke-opacity="0.9"/>
<path d="M28.5,133.5 26.5,133.3 25.5,132.8 24.5,131.8 23.1,129.0 22.1,125.0 21.4,120.0 21.1,116.0 21.0,101.0 20.7,91.5 20.8,87.0 21.2,82.5 21.8,79.0 22.7,76.0 23.9,73.5 25.0,72.2 26.5,71.4 28.0,71.1 30.5,71.6 33.0,72.9 40.5,79.4 47.0,83.1 49.5,84.9 51.1,86.5 52.4,88.5 53.1,90.5 53.3,92.5 53.1,94.5 52.3,97.0 49.4,103.0 46.8,110.0 45.4,113.0 44.0,115.0 39.5,120.2 35.7,127.0 33.7,130.0 31.0,132.5 28.5,133.5Z" fill="#26268f" fill-opacity="0.02" stroke="#3434a6" stroke-width="0.5" stroke-opacity="0.9"/>
<path d="M29.0,131.6 27.5,131.8 26.0,131.3 24.5,129.8 23.6,128.0 22.8,125.5 22.1,122.0 21.7,118.0 21.4,112.5 21.5,101.5 21.1,90.0 21.8,82.0 22.7,78.0 24.0,74.9 25.5,73.3 26.5,72.8 28.0,72.6 30.0,72.9 32.5,74.1 34.5,75.8 40.0,81.3 46.0,84.9 48.0,86.4 49.1,87.5 50.2,89.0 50.8,90.5 51.1,92.5 50.9,94.5 50.3,96.5 44.3,110.0 39.5,116.7 35.7,124.5 33.9,127.5 31.5,130.3 29.0,131.6Z" fill="#26268f" fill-opacity="0.02" stroke="#3434a6" stroke-width="0.5" stroke-opacity="0.9"/>
<path d="M29.0,130.1 27.5,130.3 26.0,129.8 25.0,128.9 23.9,127.0 23.1,124.5 22.4,120.5 21.8,112.5 21.9,102.0 21.5,90.0 22.1,82.5 22.9,79.0 24.2,76.0 25.0,74.9 26.0,74.2 28.0,73.7 30.5,74.3 32.5,75.4 34.7,77.5 39.5,82.9 46.5,87.7 48.3,90.0 48.8,91.5 48.9,93.0 48.8,94.5 48.2,96.5 44.1,106.0 42.5,109.0 39.0,114.4 34.6,124.5 33.3,126.5 32.0,128.2 30.5,129.4 29.0,130.1Z" fill="#26268f" fill-opacity="0.02" stroke="#3434a6" stroke-width="0.5" stroke-opacity="0.9"/>
<path d="M29.5,128.6 28.0,128.9 26.5,128.6 25.5,128.0 24.5,126.5 23.5,124.0 22.8,121.0 22.2,113.5 22.2,102.0 21.8,90.5 22.3,83.5 23.2,79.5 24.5,76.7 26.0,75.3 28.0,74.8 29.5,75.0 31.0,75.6 33.5,77.6 39.5,84.9 45.2,89.5 46.4,91.5 46.7,93.5 46.3,96.0 44.1,101.5 42.1,106.0 38.5,112.4 34.3,123.0 32.0,126.6 30.5,128.0 29.5,128.6Z" fill="#26268f" fill-opacity="0.02" stroke="#3434a6" stroke-width="0.5" stroke-opacity="0.9"/>
<path d="M29.0,127.5 27.5,127.7 26.5,127.4 25.5,126.6 24.4,125.0 23.7,123.0 23.1,120.0 22.5,112.5 22.6,102.0 22.1,90.5 22.7,83.5 23.3,80.5 24.5,77.9 26.0,76.3 28.0,75.8 29.5,76.0 31.0,76.7 33.5,78.8 39.0,86.4 43.1,90.5 43.9,92.0 44.4,94.0 44.2,96.0 43.6,98.0 41.6,103.0 38.0,110.5 35.2,119.0 33.9,122.0 31.8,125.5 30.5,126.7 29.0,127.5Z" fill="#26268f" fill-opacity="0.02" stroke="#3434a6" stroke-width="0.5" stroke-opacity="0.9"/>
<path d="M29.5,126.0 28.0,126.5 27.0,126.3 26.0,125.8 24.9,124.5 24.1,122.5 23.4,119.5 22.8,113.5 22.9,102.0 22.4,91.0 22.8,85.0 23.5,81.5 24.5,79.0 26.0,77.3 27.0,76.8 28.0,76.7 29.5,77.0 31.5,78.0 33.0,79.4 34.3,81.0 39.0,88.9 40.6,91.0 41.4,93.0 41.7,95.0 41.4,98.0 40.1,102.0 37.4,108.5 34.3,119.0 33.0,122.0 32.0,123.7 31.0,124.9 29.5,126.0Z" fill="#26268f" fill-opacity="0.02" stroke="#3434a6" stroke-width="0.5" stroke-opacity="0.9"/>
<path d="M28.5,125.0 27.0,125.0 25.5,123.8 24.6,122.0 23.7,118.5 23.2,113.5 23.3,102.0 22.7,91.5 23.0,86.5 24.0,81.4 24.5,80.3 25.5,79.0 26.8,78.0 28.0,77.7 29.5,78.0 31.5,79.2 32.8,80.5 34.3,82.5 37.1,88.0 38.4,91.5 39.4,95.5 38.8,99.5 37.3,104.0 35.1,113.5 33.6,118.5 32.5,121.1 31.0,123.4 30.0,124.3 28.5,125.0Z" fill="#26268f" fill-opacity="0.02" stroke="#3434a6" stroke-width="0.5" stroke-opacity="0.9"/>
<path d="M28.0,123.5 26.5,123.1 25.5,122.0 24.4,119.5 23.8,116.5 23.5,112.5 23.7,101.5 23.1,90.5 23.5,86.0 24.6,81.5 26.0,79.8 27.5,79.0 28.5,78.9 30.0,79.3 31.5,80.4 34.0,84.0 36.0,88.0 36.9,92.0 37.4,95.5 37.0,98.5 36.4,102.0 35.7,104.0 35.5,106.5 34.9,108.5 34.3,113.0 33.0,117.5 31.7,120.5 30.2,122.5 29.5,123.1 28.0,123.5Z" fill="#26268f" fill-opacity="0.02" stroke="#3434a6" stroke-width="0.5" stroke-opacity="0.9"/>
<path d="M28.5,121.7 27.5,121.7 27.0,121.4 25.5,119.9 25.0,118.9 24.3,116.0 24.0,113.0 24.0,108.5 24.3,101.5 23.7,96.5 23.5,91.0 23.7,87.5 24.4,84.0 25.1,82.0 25.5,81.3 26.5,80.6 29.0,80.2 30.0,80.5 31.2,81.5 33.2,84.5 34.2,86.5 35.4,91.5 35.9,95.5 35.6,97.5 34.7,100.0 34.6,102.0 34.0,104.0 34.2,106.0 33.7,108.0 33.6,111.0 33.1,114.0 30.8,119.5 29.5,121.1 28.5,121.7Z" fill="#26268f" fill-opacity="0.1" stroke="#3434a6" stroke-width="0.5" stroke-opacity="0.9"/>
<path d="M28.5,120.6 27.5,120.6 26.0,119.4 25.4,118.5 24.8,116.0 24.4,113.0 24.3,108.5 24.8,102.0 24.1,97.0 23.7,91.0 23.9,88.0 24.8,84.0 25.5,82.3 26.5,81.3 29.0,81.1 30.5,81.9 32.5,84.5 33.3,86.0 33.9,87.5 34.0,89.5 34.7,91.5 35.1,95.5 34.8,97.0 33.8,99.0 32.6,104.0 33.2,106.5 33.0,108.0 33.0,110.5 32.6,113.5 32.0,115.0 30.7,117.0 30.0,119.0 29.3,120.0 28.5,120.6Z" fill="#26268f" fill-opacity="0.1" stroke="#3434a6" stroke-width="0.5" stroke-opacity="0.9"/>
<path d="M28.5,119.8 27.5,119.9 26.1,118.5 25.3,116.0 24.9,113.5 24.6,108.0 25.2,102.5 24.3,97.0 24.4,94.5 23.9,91.5 24.1,88.5 24.8,86.5 25.3,84.0 26.0,82.5 26.5,82.0 27.5,81.8 29.0,81.9 30.0,82.5 32.7,85.5 33.4,87.5 33.3,89.5 34.2,91.5 34.5,95.0 34.3,96.5 33.2,98.5 31.9,104.0 32.5,107.0 32.4,110.5 32.0,113.5 31.5,114.6 29.8,117.0 29.2,119.0 28.5,119.8Z" fill="#26268f" fill-opacity="0.1" stroke="#3434a6" stroke-width="0.5" stroke-opacity="0.9"/>
<path d="M28.0,119.1 27.5,119.0 26.6,118.0 26.0,116.0 25.5,113.5 25.7,111.0 25.1,109.5 25.0,108.0 25.6,102.5 24.6,97.0 24.7,94.5 24.1,91.5 24.3,88.5 25.3,86.5 25.5,85.0 27.0,82.7 28.0,82.4 29.5,83.0 32.0,85.2 32.5,86.0 33.1,88.0 32.8,90.0 33.6,91.5 33.9,95.0 33.8,96.0 32.8,98.0 31.4,104.5 31.3,105.5 31.8,107.5 31.4,113.5 29.0,116.3 28.7,118.5 28.0,119.1Z" fill="#26268f" fill-opacity="0.1" stroke="#3434a6" stroke-width="0.5" stroke-opacity="0.9"/>
<path d="M27.5,117.6 26.7,116.0 26.3,113.0 26.8,111.0 26.6,110.5 25.5,109.3 25.3,108.5 26.0,102.5 24.7,97.0 24.9,94.5 24.3,92.0 24.3,90.0 24.5,88.5 25.7,86.5 26.0,85.3 26.5,84.8 27.3,84.5 28.0,83.2 28.5,83.2 29.1,83.5 30.0,84.6 31.5,85.1 32.5,86.5 32.8,88.0 32.4,90.0 33.2,91.5 33.4,94.5 33.2,96.0 32.4,98.0 32.2,100.0 30.6,105.5 30.6,106.0 31.2,107.0 31.3,108.0 30.6,111.0 30.6,112.5 30.5,112.8 29.5,112.9 28.9,113.5 27.5,117.6Z" fill="#26268f" fill-opacity="0.1" stroke="#3434a6" stroke-width="0.5" stroke-opacity="0.9"/>
<path d="M27.5,114.2 26.8,113.0 27.3,110.5 26.0,109.2 25.7,108.5 25.9,105.0 26.3,102.5 25.0,97.5 25.1,94.5 24.5,91.5 24.6,89.0 25.0,88.0 25.8,87.0 26.5,85.5 28.0,85.0 28.5,85.1 29.5,85.9 30.0,85.9 30.5,85.4 31.0,85.3 31.5,85.5 32.0,86.1 32.5,88.0 32.1,90.0 33.0,92.0 32.6,96.5 31.9,100.0 30.8,104.0 29.9,105.5 29.9,106.0 30.8,107.5 30.7,108.5 30.5,109.0 29.0,109.5 28.7,110.0 29.2,111.0 29.3,112.0 28.5,113.4 28.0,114.0 27.5,114.2Z" fill="#26268f" fill-opacity="0.1" stroke="#3434a6" stroke-width="0.5" stroke-opacity="0.9"/>
<path d="M27.5,109.6 26.5,109.0 26.1,108.0 26.0,105.0 26.6,102.5 25.1,97.5 25.0,96.5 25.3,95.0 24.6,91.5 24.6,89.5 25.0,88.2 27.0,85.6 28.0,85.4 30.0,86.6 31.0,85.7 31.5,85.9 32.0,86.5 32.3,88.0 31.8,89.5 31.9,90.0 32.7,92.0 32.0,95.0 32.2,96.5 31.6,100.0 31.0,101.5 30.5,104.0 29.5,105.5 29.4,106.0 30.3,107.5 30.4,108.0 30.0,108.6 27.5,109.6ZM28.0,113.4 27.5,113.4 27.1,112.5 28.0,110.9 28.5,111.1 28.7,112.0 28.0,113.4Z" fill="#26268f" fill-opacity="0.1" stroke="#3434a6" stroke-width="0.5" stroke-opacity="0.9"/>
<path d="M29.5,108.6 28.0,108.8 26.5,107.5 26.3,107.0 26.2,105.0 26.9,102.5 25.2,97.5 25.2,96.5 25.5,95.0 24.7,92.0 24.8,89.5 25.0,88.5 27.0,85.9 28.0,85.6 28.5,85.8 29.5,86.8 30.0,87.0 31.0,86.1 31.7,86.5 32.1,88.0 31.6,89.5 31.7,90.0 32.3,91.0 32.5,92.0 31.5,95.0 31.9,97.0 31.5,99.5 30.5,101.5 30.0,104.0 29.5,104.5 29.2,105.5 29.3,106.5 29.9,107.5 30.0,108.0 29.5,108.6ZM28.0,112.8 27.4,112.5 28.0,111.7 28.2,112.0 28.0,112.8Z" fill="#26268f" fill-opacity="0.1" stroke="#3434a6" stroke-width="0.5" stroke-opacity="0.9"/>
<path d="M28.5,108.5 26.5,107.0 26.4,106.5 26.4,104.5 27.2,102.5 26.5,101.2 25.4,98.0 25.3,96.5 25.6,95.0 24.8,92.0 24.8,89.5 25.1,88.5 27.0,86.2 28.0,85.8 28.5,86.0 29.5,87.1 30.0,87.3 31.0,86.4 31.5,86.5 32.0,88.0 31.5,89.5 31.5,90.0 32.1,91.0 32.4,92.0 31.1,95.5 31.7,97.0 31.3,99.5 31.0,100.2 29.5,101.9 28.2,102.5 28.3,103.0 29.0,104.0 29.0,106.3 29.7,107.5 29.5,108.2 28.5,108.5Z" fill="#26268f" fill-opacity="0.1" stroke="#3434a6" stroke-width="0.5" stroke-opacity="0.9"/>
<path d="M27.5,102.0 27.0,101.7 26.6,101.0 25.4,97.5 25.4,96.5 25.8,95.0 25.0,92.5 25.0,89.5 25.5,88.2 27.1,86.5 28.0,86.0 28.5,86.2 29.5,87.5 30.0,87.7 31.0,86.8 31.5,87.0 31.7,88.0 31.2,89.5 32.2,91.5 32.2,92.0 30.7,95.5 31.5,97.5 31.0,99.7 29.0,101.5 27.5,102.0ZM29.0,108.0 28.4,108.0 26.6,106.5 26.5,105.5 26.6,104.5 27.0,103.7 27.5,103.3 28.0,103.5 28.6,104.5 28.7,106.5 29.2,107.5 29.0,108.0Z" fill="#26268f" fill-opacity="0.1" stroke="#3434a6" stroke-width="0.5" stroke-opacity="0.9"/>
<path d="M28.0,101.2 27.5,101.2 27.0,100.6 25.8,98.0 25.7,97.0 26.3,95.5 25.2,92.0 25.2,89.5 25.5,88.6 27.5,86.8 28.0,86.6 30.5,88.9 31.6,91.0 31.9,92.0 30.0,96.0 31.0,97.5 30.7,99.0 28.0,101.2ZM28.0,106.0 27.5,106.4 27.0,106.0 27.0,105.0 27.5,104.4 28.1,105.0 28.0,106.0Z" fill="#26268f" fill-opacity="0.1" stroke="#3434a6" stroke-width="0.5" stroke-opacity="0.9"/>
<path d="M28.5,99.7 27.5,99.9 26.5,98.9 26.1,98.0 26.1,97.0 26.9,96.0 26.8,95.5 25.7,93.0 25.6,92.0 25.8,91.0 25.6,89.5 25.7,89.0 26.5,88.2 28.0,87.5 30.0,89.2 31.2,91.0 31.5,92.0 31.1,93.0 29.2,96.0 29.0,96.5 30.3,97.5 30.3,98.5 28.5,99.7Z" fill="#26268f" fill-opacity="0.1" stroke="#3434a6" stroke-width="0.5" stroke-opacity="0.9"/>
<path d="M81.0,80.0 79.5,80.2 78.0,79.4 76.5,77.5 75.2,74.5 74.6,72.0 74.2,68.5 74.4,59.5 72.8,54.0 72.6,51.5 72.9,49.5 73.5,48.0 74.5,46.5 76.0,45.0 77.5,44.1 79.5,43.3 83.0,42.9 85.0,43.2 87.0,43.9 88.5,44.8 90.0,46.0 91.1,47.5 91.8,49.0 92.2,50.5 92.2,52.0 91.8,54.0 90.8,56.0 87.0,60.0 86.2,61.5 85.8,63.5 85.6,70.0 84.9,74.0 84.2,76.0 83.2,78.0 82.0,79.4 81.0,80.0Z" fill="#26268f" fill-opacity="0.01" stroke="#3434a6" stroke-width="0.5" stroke-opacity="0.9"/>
<path d="M81.5,58.1 80.5,58.2 79.5,57.7 78.0,56.0 76.9,53.5 76.8,51.0 77.6,49.0 79.0,47.7 81.0,46.8 83.5,46.8 85.5,47.5 87.1,49.0 87.8,50.5 87.8,52.5 87.2,54.0 86.0,55.5 83.5,57.2 81.5,58.1Z" fill="#26268f" fill-opacity="0.01" stroke="#3434a6" stroke-width="0.5" stroke-opacity="0.9"/>
<path d="M30.2,99.6h.6M26.8,92.6h.6M29.0,85.7h.6M32.9,94.2h.6M31.8,86.0h.6M32.0,80.7h.6M28.9,68.1h.6M22.1,95.1h.6M24.8,90.6h.6M29.9,89.0h.6M29.0,91.8h.6M33.9,90.9h.6M33.2,93.8h.6M25.0,94.1h.6M27.6,94.1h.6M30.2,87.4h.6M28.7,105.0h.6M25.5,91.1h.6M24.3,84.1h.6M26.6,77.5h.6M26.5,98.2h.6M27.6,90.4h.6M30.3,95.0h.6M22.3,90.8h.6M39.4,89.8h.6M35.1,86.4h.6M30.0,89.6h.6M29.0,82.3h.6M22.6,91.9h.6M30.1,84.2h.6M22.7,80.3h.6M27.7,86.3h.6M27.7,87.7h.6M36.0,85.7h.6M27.0,90.4h.6M26.9,88.8h.6M26.7,100.1h.6M25.0,79.3h.6M27.6,81.8h.6M29.0,80.5h.6M26.4,87.4h.6M26.9,85.1h.6M23.1,88.7h.6M24.2,90.4h.6M25.7,71.2h.6M26.7,100.3h.6M28.5,94.0h.6M29.2,85.4h.6M32.1,93.7h.6M29.1,92.4h.6M26.9,91.4h.6M27.1,91.8h.6M22.5,84.2h.6M29.7,86.5h.6M30.5,94.6h.6M23.9,80.2h.6M26.0,89.4h.6M23.4,90.5h.6M30.3,94.0h.6M22.1,72.1h.6M27.1,84.0h.6M29.2,102.3h.6M34.8,91.5h.6M32.3,102.3h.6M27.3,91.4h.6M31.1,89.0h.6M24.7,83.3h.6M27.1,84.4h.6M30.9,86.7h.6M34.0,98.9h.6M25.2,100.1h.6M29.5,89.0h.6M30.3,85.0h.6M28.7,92.4h.6M26.4,92.4h.6M22.4,93.8h.6M29.4,95.0h.6M24.5,113.3h.6M26.1,90.6h.6M23.6,100.7h.6M25.0,97.3h.6M22.7,91.9h.6M25.4,96.8h.6M25.8,82.7h.6M29.3,80.2h.6M22.7,95.6h.6M25.3,82.4h.6M28.4,94.5h.6M24.5,88.2h.6M31.0,95.5h.6M27.0,83.6h.6M22.8,85.0h.6M30.5,94.2h.6M28.7,100.5h.6M25.9,86.7h.6M25.5,104.6h.6M29.4,90.2h.6M38.3,98.9h.6M30.9,82.7h.6M29.7,86.9h.6M27.6,91.3h.6M25.1,94.7h.6M35.0,97.9h.6M28.4,74.8h.6M32.5,98.2h.6M26.5,86.1h.6M30.5,83.6h.6M31.1,81.5h.6M23.1,90.0h.6M29.9,79.7h.6M31.7,85.5h.6M30.0,91.6h.6M25.3,85.9h.6M23.9,102.7h.6M32.2,79.3h.6M31.2,91.7h.6M25.7,93.5h.6M31.1,85.5h.6M26.2,91.2h.6M22.9,91.4h.6M27.1,84.7h.6M23.6,92.3h.6M31.5,92.5h.6M23.5,95.8h.6M28.3,94.5h.6M32.9,83.0h.6M26.8,85.4h.6M23.4,105.5h.6M31.8,76.3h.6M29.5,85.7h.6M32.8,90.6h.6M26.7,91.1h.6M29.3,90.2h.6M26.5,88.9h.6M29.9,81.3h.6M27.5,89.1h.6M25.2,95.7h.6M23.6,94.2h.6M25.3,90.4h.6M29.3,77.7h.6M29.6,84.2h.6M26.3,89.1h.6M31.2,95.7h.6M35.7,91.4h.6M25.3,86.1h.6M30.5,102.3h.6M29.1,85.6h.6M28.8,92.0h.6M27.7,84.3h.6M32.4,91.6h.6M28.4,80.7h.6M31.2,84.0h.6M30.1,90.2h.6M22.0,95.1h.6M27.8,82.1h.6M34.2,80.3h.6M35.1,91.3h.6M26.5,89.3h.6M26.3,101.0h.6M28.2,75.8h.6M37.2,96.8h.6M22.5,87.3h.6M23.3,90.4h.6M29.3,91.8h.6M24.7,83.8h.6M31.4,89.2h.6M37.9,83.8h.6M31.1,90.4h.6M24.0,100.5h.6M28.1,83.1h.6M26.0,97.8h.6M30.7,87.9h.6M33.8,103.5h.6M30.3,91.3h.6M36.0,101.5h.6M23.2,88.4h.6M26.5,86.8h.6M27.9,90.8h.6M34.0,85.6h.6M27.2,92.1h.6M25.5,89.1h.6M31.1,89.9h.6M33.7,84.2h.6M28.4,79.0h.6M27.0,84.6h.6M33.8,95.8h.6M29.9,104.3h.6M34.2,95.6h.6M24.3,78.8h.6M27.4,87.2h.6M24.5,87.7h.6M22.2,84.8h.6M30.2,77.3h.6M31.8,97.3h.6M26.0,81.6h.6M25.3,75.6h.6M34.0,90.4h.6M24.1,82.9h.6M30.2,101.7h.6M28.2,107.6h.6M26.9,86.6h.6M24.2,96.7h.6M28.7,86.1h.6M23.3,98.2h.6M36.2,86.5h.6M30.0,103.6h.6M24.6,88.0h.6M27.1,86.7h.6M24.0,77.6h.6M30.5,86.0h.6M23.5,95.1h.6M30.1,84.1h.6M24.6,95.2h.6M29.2,83.4h.6M28.6,89.8h.6M32.7,83.2h.6M31.7,93.4h.6M22.7,98.3h.6M31.8,79.6h.6M36.8,81.0h.6M23.2,87.5h.6M31.1,94.6h.6M27.1,100.8h.6M29.4,101.0h.6M40.8,91.5h.6M22.4,90.7h.6M28.0,80.3h.6M22.0,87.9h.6M26.6,69.4h.6M32.1,90.2h.6M27.5,92.4h.6M22.6,89.6h.6M32.5,98.6h.6M29.7,87.8h.6M23.6,100.5h.6M30.0,86.6h.6M28.4,84.0h.6M26.2,110.8h.6M33.4,79.2h.6M26.9,80.1h.6M39.2,102.6h.6M27.7,87.0h.6M28.5,98.4h.6M36.6,92.3h.6M35.3,91.9h.6M34.7,85.0h.6M29.9,102.6h.6M32.5,86.3h.6M31.9,84.6h.6M34.3,96.9h.6M30.8,86.2h.6M31.8,94.1h.6M32.5,96.6h.6M29.9,88.0h.6M29.4,85.6h.6M26.0,82.9h.6M28.8,86.6h.6M32.2,95.9h.6M23.5,105.1h.6M32.8,100.5h.6M33.5,101.8h.6M27.0,86.3h.6M34.1,84.4h.6M33.6,94.6h.6M25.2,90.8h.6M32.4,88.5h.6M32.0,77.0h.6M29.8,87.0h.6M22.5,93.5h.6M37.1,89.1h.6M23.9,83.0h.6M37.2,89.7h.6M30.5,100.1h.6M32.8,82.4h.6M32.2,97.0h.6M29.9,98.3h.6M24.7,89.4h.6M24.9,96.3h.6M24.3,93.2h.6M22.1,89.0h.6M25.7,89.1h.6M28.2,88.5h.6M26.4,72.9h.6M33.0,84.9h.6M26.3,83.2h.6M32.4,82.5h.6M30.0,99.7h.6M35.6,99.8h.6M30.6,80.1h.6M33.9,99.8h.6M31.7,96.6h.6M27.9,85.8h.6M32.9,100.5h.6M22.4,97.6h.6M28.7,97.4h.6M28.9,99.2h.6M32.6,97.4h.6M27.8,80.8h.6M31.1,78.9h.6M32.0,104.0h.6M25.1,97.7h.6M29.8,95.5h.6M28.3,96.2h.6M27.6,99.2h.6M29.0,95.7h.6M34.3,91.7h.6M32.5,92.1h.6M30.2,85.9h.6M31.4,100.2h.6M27.2,96.7h.6M29.7,81.2h.6M29.4,101.0h.6M25.3,75.7h.6M28.7,85.0h.6M36.9,89.9h.6M27.6,85.2h.6M28.9,85.7h.6M23.3,89.8h.6M23.7,101.0h.6M24.3,79.1h.6M35.8,73.2h.6M34.7,78.8h.6M28.1,108.6h.6M34.0,91.7h.6M25.0,90.0h.6M23.0,91.3h.6M34.9,87.2h.6M28.4,100.0h.6M37.3,85.5h.6M29.1,85.7h.6M24.5,87.1h.6M24.6,76.3h.6M28.3,100.1h.6M25.1,88.9h.6M30.9,96.3h.6M27.1,89.9h.6M36.8,87.6h.6M25.3,77.2h.6M29.8,88.2h.6M36.9,87.6h.6M31.6,97.8h.6M35.7,79.7h.6M35.3,90.4h.6M27.2,87.8h.6M25.8,87.5h.6M28.0,82.6h.6M27.4,108.8h.6M29.5,87.2h.6M36.0,83.9h.6M26.9,85.8h.6M27.5,114.9h.6M33.8,130.3h.6M38.3,93.6h.6M23.6,106.1h.6M33.9,151.2h.6M26.3,78.7h.6M35.5,106.7h.6M29.2,101.6h.6M24.2,79.8h.6M25.9,129.7h.6M25.4,123.2h.6M33.8,114.9h.6M30.1,117.5h.6M22.1,108.1h.6M25.2,92.9h.6M55.4,96.9h.6M32.0,107.5h.6M27.4,88.6h.6M38.4,131.6h.6M26.8,124.2h.6M36.3,118.8h.6M39.2,114.8h.6M36.9,101.6h.6M29.7,82.3h.6M46.1,83.6h.6M36.3,105.0h.6M27.5,88.1h.6M41.9,102.5h.6M26.0,140.2h.6M23.3,130.5h.6M44.8,100.3h.6M36.8,80.9h.6M49.9,91.0h.6M48.1,79.4h.6M38.7,93.1h.6M53.2,144.5h.6M28.0,92.4h.6M28.0,101.6h.6M28.3,84.2h.6M38.4,87.5h.6M44.3,89.9h.6M27.7,80.3h.6M36.0,79.6h.6M28.9,50.2h.6M38.7,126.1h.6M32.0,98.1h.6M30.0,123.2h.6M42.6,82.0h.6M35.7,94.0h.6M47.8,62.9h.6M22.9,67.5h.6M53.4,61.2h.6M29.7,153.5h.6M44.9,123.7h.6M34.0,61.2h.6M25.8,68.3h.6M37.6,96.7h.6M24.4,106.8h.6M30.3,98.8h.6M25.0,62.8h.6M33.8,105.2h.6M30.9,97.5h.6M40.5,140.9h.6M29.4,86.9h.6M32.8,101.0h.6M37.6,126.6h.6M35.4,92.9h.6M27.2,83.0h.6M25.9,75.0h.6M34.4,126.4h.6M86.0,50.8h.6M61.2,60.2h.6M76.5,49.0h.6M72.9,60.9h.6M77.1,69.5h.6M87.6,49.9h.6M81.8,50.4h.6M83.6,48.5h.6M82.1,58.1h.6M88.6,53.3h.6M92.5,52.7h.6M74.3,44.1h.6M76.8,50.8h.6M82.0,80.3h.6M77.8,45.8h.6M88.1,59.2h.6M77.1,70.8h.6M92.8,53.4h.6M81.8,37.2h.6M92.4,55.6h.6M80.5,60.5h.6M72.8,65.2h.6M81.4,58.6h.6M73.0,85.0h.6M82.5,59.2h.6M74.3,70.9h.6M86.6,68.0h.6M71.5,62.3h.6M86.3,41.8h.6M71.1,52.8h.6M74.4,75.2h.6M73.1,38.9h.6M75.4,85.6h.6M74.9,66.4h.6M81.2,54.3h.6M90.6,52.4h.6M82.3,44.9h.6M68.7,32.7h.6M80.7,49.7h.6M87.8,61.2h.6M78.4,63.1h.6M85.7,61.5h.6M75.9,55.5h.6M80.3,49.0h.6M84.4,56.4h.6M74.0,55.7h.6M82.0,49.5h.6M79.0,72.9h.6M77.7,76.3h.6M82.1,85.5h.6M86.9,77.5h.6M80.7,52.1h.6M77.7,70.4h.6M80.5,55.0h.6M92.7,42.1h.6M75.9,48.6h.6M74.2,50.3h.6M78.3,60.0h.6M87.8,51.5h.6M82.5,40.1h.6M83.7,72.0h.6M73.9,52.7h.6M78.7,60.0h.6M74.7,46.7h.6M74.5,72.5h.6M85.1,53.5h.6M80.9,48.6h.6M98.0,38.8h.6M91.5,53.7h.6M82.8,47.9h.6M80.6,43.3h.6M71.6,50.5h.6M70.6,77.4h.6M90.8,28.2h.6M71.1,70.1h.6M83.9,52.1h.6M85.5,56.3h.6M88.9,63.3h.6M82.5,57.1h.6M70.8,65.0h.6M72.9,60.7h.6M100.2,55.0h.6M72.3,50.6h.6M82.5,52.7h.6M90.7,57.7h.6M62.0,60.5h.6M77.1,59.5h.6M87.8,63.3h.6M71.8,42.4h.6M82.8,57.4h.6M93.8,50.2h.6M78.7,62.2h.6M78.8,61.1h.6M81.2,69.7h.6M80.5,53.3h.6M78.8,46.8h.6M81.3,47.0h.6M81.6,67.8h.6M80.3,50.0h.6M80.6,63.0h.6M82.3,47.4h.6M80.1,55.8h.6M80.8,50.3h.6M78.4,68.8h.6M85.3,54.3h.6M70.7,53.0h.6M65.2,77.0h.6M86.1,83.3h.6M83.4,59.1h.6M79.7,65.1h.6M52.8,43.9h.6M23.8,68.9h.6M58.7,30.6h.6M36.1,44.7h.6M22.6,48.4h.6M42.7,41.5h.6M24.0,63.8h.6M42.2,38.7h.6M16.1,42.3h.6M56.8,62.4h.6M18.9,52.3h.6M8.3,65.8h.6M57.0,34.7h.6M25.8,38.6h.6M17.7,55.8h.6M27.6,25.2h.6M19.4,54.7h.6M44.5,25.7h.6M36.6,53.7h.6M41.1,54.3h.6M48.6,40.1h.6M52.3,44.9h.6M11.1,54.3h.6M25.8,53.6h.6M27.4,47.4h.6M36.9,56.9h.6M23.4,55.1h.6M20.1,60.6h.6M20.0,28.2h.6M10.0,51.9h.6M24.8,50.9h.6M24.2,44.8h.6M53.2,66.6h.6M10.2,67.7h.6M34.3,58.3h.6M56.3,33.5h.6M27.9,64.9h.6M35.0,65.4h.6M51.6,69.9h.6M42.4,28.0h.6M54.9,33.3h.6M16.2,41.6h.6M18.8,31.3h.6M41.2,66.0h.6M21.7,41.8h.6M41.3,38.5h.6M33.6,66.1h.6M14.1,49.1h.6M19.1,59.8h.6M18.8,61.5h.6M29.0,66.9h.6M26.9,47.2h.6M13.5,37.5h.6M29.6,65.2h.6M38.5,61.4h.6M102.1,37.8h.6M73.0,102.4h.6M96.8,79.1h.6M77.8,73.4h.6M56.8,41.2h.6M75.2,42.2h.6M68.4,100.2h.6M97.5,93.6h.6M86.6,110.2h.6M68.4,84.0h.6M78.7,112.0h.6M74.5,50.7h.6M97.5,100.5h.6M94.8,98.2h.6M66.4,82.6h.6M85.0,109.1h.6M77.5,51.4h.6M72.6,74.6h.6M109.1,90.7h.6M94.9,70.6h.6M77.4,111.0h.6M80.3,40.9h.6M98.1,47.6h.6M77.1,83.2h.6M100.9,30.6h.6M91.2,41.9h.6M90.1,82.6h.6M83.9,67.1h.6M85.2,113.3h.6M75.0,71.0h.6M64.0,63.8h.6M58.8,109.1h.6M74.6,111.6h.6M63.3,87.5h.6M88.5,87.5h.6M98.9,36.5h.6M95.9,32.3h.6M72.3,103.7h.6M86.8,111.0h.6M102.5,66.8h.6M71.2,47.7h.6M58.3,92.3h.6M99.5,34.1h.6M82.6,102.3h.6M90.5,66.2h.6M107.3,66.8h.6M72.9,73.3h.6M74.7,64.1h.6M82.8,36.7h.6M88.6,80.7h.6M94.4,51.1h.6M58.2,91.6h.6M75.9,82.0h.6M70.6,60.3h.6M70.2,72.9h.6M91.0,50.5h.6M73.1,70.2h.6M93.6,62.1h.6M59.4,75.1h.6M80.5,116.7h.6M58.1,97.8h.6M70.0,68.8h.6M85.4,93.9h.6M61.0,73.8h.6M79.6,116.8h.6M54.6,89.8h.6M68.9,54.8h.6M70.8,57.3h.6M67.5,113.9h.6M76.8,99.2h.6M77.5,91.7h.6M80.8,65.1h.6M69.1,100.5h.6M65.9,77.9h.6M82.9,112.5h.6M67.0,71.3h.6M77.4,90.4h.6M66.4,96.1h.6M77.2,87.1h.6M98.1,109.6h.6M79.5,103.7h.6M98.4,105.0h.6M66.0,91.4h.6M73.0,75.7h.6M74.6,90.1h.6M71.9,77.2h.6M79.7,57.7h.6M79.6,85.9h.6M74.8,44.0h.6M87.2,55.3h.6M64.8,97.1h.6M67.0,78.6h.6M52.7,78.1h.6M74.3,97.7h.6M69.9,89.6h.6M76.2,73.9h.6M65.8,120.3h.6M64.9,107.5h.6M73.0,111.7h.6M66.8,94.9h.6M75.3,81.8h.6M75.1,72.3h.6M71.7,78.8h.6M79.1,84.2h.6M60.1,79.3h.6M71.5,69.9h.6M84.1,92.9h.6M79.8,72.3h.6M68.9,103.6h.6M59.8,92.3h.6M73.2,77.0h.6M73.2,66.8h.6M74.4,64.3h.6M61.1,110.5h.6M66.2,48.5h.6M81.0,72.2h.6M41.3,84.8h.6M80.6,92.0h.6M87.6,83.6h.6M77.7,68.0h.6M73.9,112.9h.6M76.9,88.7h.6M54.9,79.2h.6M61.0,99.6h.6M65.9,92.2h.6M63.6,119.2h.6M62.0,88.3h.6M95.7,89.6h.6M64.7,96.7h.6M81.2,101.3h.6M55.0,89.7h.6M53.6,119.5h.6M73.1,77.7h.6M78.4,94.5h.6M61.9,114.7h.6M70.3,54.7h.6M84.9,113.1h.6M83.6,95.6h.6M64.5,102.5h.6M89.0,100.4h.6" stroke="#2c2c9c" stroke-width="0.7" stroke-opacity="0.75"/>
</g></g>
<rect x="313.2" y="273.4" width="117.6" height="117.6" fill="none" stroke="#9a9a9a" stroke-width="0.7"/>
<line x1="369.80" y1="273.40" x2="369.80" y2="391.00" stroke="#6a6a6a" stroke-width="1.3"/>
<line x1="313.20" y1="331.40" x2="430.80" y2="331.40" stroke="#3a3a3a" stroke-width="1.0"/>
<text x="315.00" y="283.00" font-size="9.6" fill="#111">0.41</text>
<text x="429.60" y="283.00" font-size="9.6" text-anchor="end" fill="#111">1.47</text>
<text x="315.00" y="387.80" font-size="9.6" fill="#111">95.4</text>
<text x="429.60" y="387.80" font-size="9.6" text-anchor="end" fill="#111">2.73</text>
<text x="307.59999999999997" y="287.9" font-size="8.3" fill="#000" text-anchor="end">10</text>
<text x="307.8" y="284.4" font-size="5.3" fill="#000">5</text>
<text x="307.59999999999997" y="315.6" font-size="8.3" fill="#000" text-anchor="end">10</text>
<text x="307.8" y="312.1" font-size="5.3" fill="#000">4</text>
<text x="307.59999999999997" y="348.6" font-size="8.3" fill="#000" text-anchor="end">10</text>
<text x="307.8" y="345.1" font-size="5.3" fill="#000">3</text>
<text x="310.0" y="364.4" font-size="8.3" fill="#000" text-anchor="end">0</text>
<path d="M312.0,360.9 v4.5" stroke="#222" stroke-width="1.3"/>
<path d="M338.5,391.5 h4" stroke="#111" stroke-width="1.4"/>
<text x="307.59999999999997" y="387.0" font-size="8.3" fill="#000" text-anchor="end">-10</text>
<text x="307.8" y="383.5" font-size="5.3" fill="#000">3</text>
<text x="312.3" y="401.4" font-size="9" fill="#000">-10</text>
<text x="325.5" y="397.6" font-size="5.8" fill="#000">3</text>
<text x="339.5" y="401.4" font-size="9" fill="#000">0</text>
<text x="355.0" y="401.4" font-size="9" fill="#000">10</text>
<text x="365.2" y="397.6" font-size="5.8" fill="#000">3</text>
<text x="386.4" y="401.4" font-size="9" fill="#000">10</text>
<text x="396.6" y="397.6" font-size="5.8" fill="#000">4</text>
<text x="414.6" y="401.4" font-size="9" fill="#000">10</text>
<text x="424.8" y="397.6" font-size="5.8" fill="#000">5</text>
<g clip-path="url(#cp10)"><g transform="translate(30.6,417.3)">
<path d="M31.5,137.5 25.6,137.5 24.5,136.6 23.5,135.1 22.3,132.0 21.1,127.5 20.2,121.5 19.8,115.5 19.7,102.5 19.2,90.0 19.6,84.0 20.2,79.5 21.7,73.5 23.5,69.8 24.5,68.6 25.5,67.9 27.0,67.4 28.5,67.2 31.0,67.4 34.0,68.1 40.5,70.7 45.5,73.8 49.3,77.5 52.4,82.0 53.8,85.0 54.9,88.0 56.4,94.0 57.2,102.0 57.1,111.0 56.6,115.5 55.8,120.0 54.8,124.0 53.7,127.0 52.3,130.0 51.0,132.1 49.5,133.9 48.0,135.3 46.5,136.2 45.0,136.7 42.5,136.9 37.0,136.0 35.0,136.3 31.5,137.5Z" fill="#26268f" fill-opacity="0.02" stroke="#3434a6" stroke-width="0.5" stroke-opacity="0.9"/>
<path d="M29.0,134.6 26.5,134.4 25.5,133.9 24.5,132.8 23.1,130.0 21.8,125.0 21.2,121.0 20.8,115.5 20.7,102.0 20.2,91.5 20.3,87.0 20.8,82.5 21.7,78.0 22.8,74.5 23.8,72.5 25.0,71.2 26.5,70.4 28.5,70.1 30.5,70.3 33.0,70.9 38.0,73.2 43.5,76.8 46.0,79.0 47.8,81.0 50.6,85.5 52.7,91.0 53.9,97.0 54.4,104.0 54.1,111.0 52.9,118.0 51.0,123.5 49.7,126.0 48.5,127.6 47.0,129.1 45.0,130.2 43.0,130.6 39.5,130.4 37.5,130.7 31.5,133.8 29.0,134.6Z" fill="#26268f" fill-opacity="0.02" stroke="#3434a6" stroke-width="0.5" stroke-opacity="0.9"/>
<path d="M29.0,132.1 27.5,132.1 26.5,131.9 25.0,130.8 23.5,128.0 22.3,123.5 21.7,119.0 21.4,114.5 21.4,102.5 20.9,91.5 21.4,83.5 22.2,79.0 23.0,76.5 24.0,74.5 25.0,73.3 26.5,72.4 28.5,72.1 30.5,72.3 32.5,72.9 37.0,75.1 42.9,79.5 46.5,83.4 49.0,87.5 50.8,92.5 51.8,97.5 52.2,103.5 51.9,109.5 50.9,115.0 49.4,119.5 47.5,122.8 46.0,124.3 44.5,125.2 43.0,125.6 39.5,126.0 38.0,126.5 32.0,130.9 30.5,131.6 29.0,132.1Z" fill="#26268f" fill-opacity="0.02" stroke="#3434a6" stroke-width="0.5" stroke-opacity="0.9"/>
<path d="M29.5,130.0 27.5,130.2 26.5,129.9 25.5,129.2 24.0,126.9 22.9,123.0 22.2,119.0 21.9,114.0 21.9,102.0 21.4,92.0 21.8,84.5 22.3,81.0 23.2,78.0 24.2,76.0 25.5,74.5 27.0,73.8 28.5,73.7 30.0,73.8 32.0,74.3 36.0,76.4 41.2,80.5 44.9,84.5 47.4,88.5 49.1,93.0 50.2,98.0 50.5,102.5 50.2,107.5 49.4,112.5 48.0,116.4 46.5,119.0 45.5,120.1 44.0,121.1 40.0,122.4 38.5,123.1 32.5,128.4 31.0,129.4 29.5,130.0Z" fill="#26268f" fill-opacity="0.02" stroke="#3434a6" stroke-width="0.5" stroke-opacity="0.9"/>
<path d="M28.5,128.5 26.5,128.2 25.0,126.9 23.9,124.5 23.1,121.5 22.3,114.0 22.3,102.0 21.8,90.5 22.4,83.5 22.8,81.0 23.7,78.5 24.5,76.9 25.5,75.9 27.0,75.1 28.5,74.9 30.0,75.1 32.0,75.7 35.5,77.6 40.5,82.0 44.0,86.0 46.1,89.5 47.7,93.5 48.7,98.5 48.9,102.5 48.6,107.0 47.8,111.0 46.9,113.5 45.3,116.0 43.5,117.7 40.0,119.3 38.5,120.3 32.0,127.0 30.0,128.2 28.5,128.5Z" fill="#26268f" fill-opacity="0.02" stroke="#3434a6" stroke-width="0.5" stroke-opacity="0.9"/>
<path d="M29.0,127.1 27.0,127.1 25.5,126.1 24.3,124.0 23.3,120.5 22.6,113.5 22.6,102.0 22.1,91.0 22.6,84.0 23.8,79.5 24.5,78.1 25.5,76.9 27.0,76.2 28.5,76.0 31.5,76.6 34.5,78.2 37.9,81.0 42.0,85.5 44.1,88.5 46.0,92.5 47.0,96.0 47.6,101.0 47.5,104.5 46.9,108.0 46.0,110.8 44.7,113.0 43.0,114.9 40.0,116.8 38.0,118.4 33.9,123.5 32.0,125.5 30.5,126.6 29.0,127.1Z" fill="#26268f" fill-opacity="0.02" stroke="#3434a6" stroke-width="0.5" stroke-opacity="0.9"/>
<path d="M30.0,125.5 28.5,125.9 27.0,125.8 26.0,125.2 25.0,123.9 23.7,120.0 23.0,113.0 23.0,101.5 22.4,90.5 22.8,85.0 23.6,81.5 24.7,79.0 26.0,77.6 28.0,77.0 30.5,77.3 33.5,78.6 36.4,81.0 40.0,84.9 43.2,89.5 44.8,93.0 45.6,95.5 46.2,100.0 46.1,103.0 45.7,106.0 45.0,108.5 44.2,110.0 42.5,112.3 39.5,114.6 38.0,116.1 32.5,123.5 31.0,124.9 30.0,125.5Z" fill="#26268f" fill-opacity="0.02" stroke="#3434a6" stroke-width="0.5" stroke-opacity="0.9"/>
<path d="M29.5,124.6 28.0,124.7 27.0,124.5 26.0,123.8 25.0,122.4 24.3,120.5 23.9,118.5 23.3,112.5 23.3,101.0 22.7,90.5 23.1,85.5 23.7,82.5 24.7,80.0 26.0,78.5 28.0,77.9 30.5,78.3 33.1,79.5 36.0,81.9 39.0,85.5 42.1,90.0 43.7,93.5 44.3,95.5 44.9,100.0 44.5,104.0 43.3,108.0 42.1,109.5 37.7,114.0 35.0,118.5 32.1,122.5 31.0,123.6 29.5,124.6Z" fill="#26268f" fill-opacity="0.02" stroke="#3434a6" stroke-width="0.5" stroke-opacity="0.9"/>
<path d="M30.0,123.1 29.0,123.4 27.5,123.4 26.5,123.0 25.6,122.0 24.5,119.3 23.7,114.0 23.6,101.0 23.0,90.5 23.4,86.0 24.0,83.0 25.0,80.5 26.5,79.2 28.0,78.9 29.5,79.0 31.0,79.5 33.5,80.9 35.5,82.5 38.1,86.0 41.3,91.0 42.4,93.5 43.6,100.0 43.1,103.0 42.5,104.5 41.9,107.0 36.5,113.0 34.2,118.0 31.0,122.2 30.0,123.1Z" fill="#26268f" fill-opacity="0.02" stroke="#3434a6" stroke-width="0.5" stroke-opacity="0.9"/>
<path d="M29.5,121.7 27.5,122.0 26.6,121.5 26.1,121.0 25.0,118.5 24.1,114.5 24.1,101.0 23.4,93.5 23.4,89.5 24.0,85.0 24.9,82.0 26.0,80.5 27.5,80.1 29.5,80.1 30.9,80.5 33.5,82.0 34.7,83.0 37.6,87.0 38.9,90.5 40.0,92.0 41.2,96.0 41.8,99.0 41.4,102.0 40.4,104.0 39.7,106.5 36.1,110.5 33.0,118.0 29.5,121.7Z" fill="#26268f" fill-opacity="0.02" stroke="#3434a6" stroke-width="0.5" stroke-opacity="0.9"/>
<path d="M29.5,119.7 28.5,119.9 27.0,119.2 26.1,118.5 25.0,116.2 24.6,114.5 24.4,110.0 24.7,101.5 23.7,93.5 23.7,90.0 24.1,86.5 24.8,84.0 26.0,81.6 27.0,81.1 30.0,81.2 32.6,82.5 33.9,83.5 36.1,86.5 37.2,88.5 37.5,90.5 38.7,92.5 38.7,94.0 39.4,95.5 39.4,97.5 39.8,99.5 39.7,101.5 38.3,105.0 34.5,110.0 34.1,112.5 32.9,115.0 32.5,117.0 31.7,118.0 29.5,119.7Z" fill="#26268f" fill-opacity="0.1" stroke="#3434a6" stroke-width="0.5" stroke-opacity="0.9"/>
<path d="M29.5,118.7 28.5,118.8 26.9,118.0 25.0,115.0 25.1,112.0 24.7,109.5 24.9,103.5 25.3,101.5 24.5,98.5 23.9,92.5 24.3,87.0 25.0,84.4 26.5,82.1 27.0,81.9 29.0,81.8 30.0,81.9 32.5,83.3 34.9,86.0 36.8,89.0 36.9,91.0 37.9,92.5 37.9,94.0 38.3,95.5 37.4,98.0 38.0,99.5 37.6,101.5 37.8,103.5 37.5,104.1 36.5,105.1 35.7,107.0 33.2,110.5 33.1,111.0 33.3,112.5 32.4,114.5 31.9,117.0 31.0,117.8 29.5,118.7Z" fill="#26268f" fill-opacity="0.1" stroke="#3434a6" stroke-width="0.5" stroke-opacity="0.9"/>
<path d="M30.5,117.5 29.5,117.9 28.5,117.9 28.0,117.5 27.5,115.8 26.0,115.6 25.5,115.1 25.4,113.5 26.0,112.5 26.1,112.0 25.3,111.0 25.0,110.0 25.4,104.0 25.5,103.5 26.5,103.0 26.5,102.5 25.3,100.0 24.8,98.0 24.1,92.5 24.5,87.5 25.5,84.2 27.0,82.8 28.5,82.3 29.5,82.3 31.7,83.5 33.6,85.5 34.7,87.5 36.2,89.0 36.2,91.0 37.3,92.5 37.4,93.0 37.3,95.5 36.2,98.5 36.3,99.0 36.9,100.0 36.6,102.0 36.3,102.5 34.6,103.0 34.3,103.5 34.9,106.5 31.8,111.5 31.7,116.0 31.3,117.0 30.5,117.5Z" fill="#26268f" fill-opacity="0.1" stroke="#3434a6" stroke-width="0.5" stroke-opacity="0.9"/>
<path d="M30.0,117.2 28.9,117.0 28.6,115.5 28.0,114.8 27.5,114.7 26.5,114.9 25.9,114.5 26.0,113.6 27.2,112.5 27.1,112.0 26.0,111.2 25.4,110.5 25.3,109.5 25.5,106.5 26.0,104.3 27.4,103.5 27.4,103.0 25.3,99.0 24.3,92.5 24.7,87.5 25.5,85.0 26.5,83.9 28.0,82.9 29.0,82.7 30.0,83.1 31.3,84.0 33.1,86.0 33.8,87.5 35.5,89.0 35.8,89.5 35.7,91.5 36.6,92.5 36.8,93.5 36.0,96.0 35.4,99.0 35.7,101.0 35.5,101.5 33.4,102.5 33.2,103.0 33.8,104.5 34.0,106.5 30.7,112.5 31.2,116.0 31.0,116.5 30.0,117.2ZM27.5,89.5 27.0,89.0 26.8,89.5 27.0,89.8 27.5,89.5Z" fill="#26268f" fill-opacity="0.1" stroke="#3434a6" stroke-width="0.5" stroke-opacity="0.9"/>
<path d="M30.0,116.5 29.5,116.4 29.0,114.7 28.0,113.5 28.0,112.0 26.0,110.7 25.6,110.0 25.8,107.0 26.3,105.0 26.7,104.5 27.9,104.0 28.2,103.5 26.9,101.5 25.7,99.0 24.5,92.5 24.9,87.5 25.6,85.5 26.5,84.3 28.5,83.2 29.0,83.2 30.6,84.0 32.5,86.1 33.5,87.8 35.0,89.0 35.3,90.0 34.6,91.5 36.0,92.6 36.3,93.5 35.1,96.0 35.1,98.0 34.6,101.0 34.1,101.5 32.4,102.5 32.3,103.0 33.2,104.5 33.2,105.5 32.5,107.0 31.9,110.0 30.0,112.5 29.9,113.5 30.7,115.5 30.5,116.2 30.0,116.5ZM27.2,90.0 27.7,89.5 27.6,89.0 27.0,88.8 26.4,89.5 26.8,90.0 27.2,90.0Z" fill="#26268f" fill-opacity="0.1" stroke="#3434a6" stroke-width="0.5" stroke-opacity="0.9"/>
<path d="M30.0,111.6 29.5,111.8 27.0,110.9 26.3,110.5 26.0,110.0 26.0,108.0 27.0,105.0 28.8,104.0 29.0,103.5 27.5,102.0 26.1,99.0 24.7,92.0 25.1,89.0 25.1,87.5 25.8,85.5 27.0,84.4 29.0,83.7 30.5,84.5 33.2,88.0 34.8,89.5 34.8,90.0 34.5,90.5 33.0,91.1 33.9,92.5 35.5,93.0 35.7,93.5 35.0,94.9 34.5,95.3 33.5,95.6 32.8,96.5 32.7,97.0 33.0,97.4 34.0,97.4 34.5,97.6 34.6,98.5 34.4,100.0 34.0,101.0 32.0,102.0 31.7,102.5 31.8,103.5 32.4,104.5 32.5,105.0 31.9,106.5 31.8,109.5 31.0,110.8 30.0,111.6ZM27.5,90.0 27.8,89.0 27.5,88.6 27.0,88.6 26.4,89.0 26.2,89.5 26.4,90.0 27.0,90.3 27.5,90.0Z" fill="#26268f" fill-opacity="0.1" stroke="#3434a6" stroke-width="0.5" stroke-opacity="0.9"/>
<path d="M30.0,111.2 27.0,110.5 26.3,110.0 26.2,109.5 26.5,107.9 27.3,107.0 27.3,105.5 27.7,105.0 29.7,104.0 30.1,103.5 28.0,102.3 27.2,101.0 26.1,98.0 25.4,94.0 24.8,92.0 25.0,90.5 25.4,89.5 25.3,87.5 26.0,85.7 27.0,84.7 28.5,84.2 30.0,84.5 34.2,89.5 34.0,90.1 33.0,90.2 32.6,90.5 32.3,91.5 32.6,93.0 33.0,93.5 34.5,93.3 34.8,93.5 34.9,94.0 34.5,94.6 33.5,95.0 33.0,95.5 32.2,97.0 32.5,97.8 34.0,98.2 34.0,100.0 33.5,101.0 32.0,101.5 31.5,101.8 31.1,102.5 30.8,103.5 31.6,105.0 31.4,107.0 31.6,109.0 31.0,110.5 30.0,111.2ZM27.7,90.0 28.0,89.0 27.5,88.5 26.9,88.5 25.7,89.5 26.5,90.3 27.0,90.4 27.7,90.0Z" fill="#26268f" fill-opacity="0.1" stroke="#3434a6" stroke-width="0.5" stroke-opacity="0.9"/>
<path d="M30.0,102.5 28.5,102.4 28.0,102.0 27.4,101.0 26.3,98.0 25.9,95.5 26.0,94.0 25.3,93.0 25.0,92.0 25.1,91.0 25.5,90.0 27.0,90.6 27.5,90.3 28.0,89.6 28.0,88.8 27.5,88.3 27.0,88.3 26.0,88.8 25.6,88.5 25.5,87.5 26.5,85.3 27.5,84.7 28.5,84.5 29.5,84.6 30.1,85.0 33.2,89.0 33.2,89.5 32.5,90.1 31.8,91.5 31.9,93.5 32.8,94.5 32.9,95.0 31.8,97.5 32.5,98.5 33.5,98.9 33.7,100.0 33.5,100.5 33.0,100.9 31.5,101.1 30.0,102.5ZM30.5,110.7 29.5,110.8 27.5,110.3 26.8,110.0 26.6,109.5 26.9,108.5 27.8,107.5 27.7,105.5 28.5,104.9 30.0,104.3 30.6,104.5 31.2,105.5 31.3,109.5 30.5,110.7Z" fill="#26268f" fill-opacity="0.1" stroke="#3434a6" stroke-width="0.5" stroke-opacity="0.9"/>
<path d="M30.0,102.2 29.0,102.4 28.5,102.3 27.5,101.0 26.4,97.5 26.6,96.5 27.0,96.1 27.5,96.0 27.8,95.5 27.7,95.0 25.5,92.9 25.2,92.0 25.2,91.0 25.5,90.3 27.0,90.7 27.5,90.4 28.1,89.5 28.0,88.6 27.5,88.2 26.0,88.6 25.6,88.0 25.8,87.0 26.5,85.6 27.0,85.1 28.0,84.7 29.0,84.7 30.0,85.2 32.3,88.0 32.8,89.0 32.7,89.5 31.3,91.5 31.7,93.5 32.6,95.0 31.5,97.5 32.0,98.5 33.3,99.5 33.4,100.0 33.1,100.5 32.5,100.7 31.4,100.5 31.0,99.9 30.7,100.0 30.8,101.0 30.0,102.2ZM30.5,110.5 29.5,110.6 27.5,110.0 27.0,109.5 27.1,109.0 28.2,107.5 28.0,105.5 29.5,104.7 30.5,104.8 30.9,105.5 31.2,109.0 31.0,109.9 30.5,110.5Z" fill="#26268f" fill-opacity="0.1" stroke="#3434a6" stroke-width="0.5" stroke-opacity="0.9"/>
<path d="M29.0,102.1 28.5,101.9 28.0,101.4 26.8,98.0 27.0,97.0 28.0,96.5 28.3,96.0 28.2,95.0 28.0,94.4 25.5,92.2 25.4,91.5 25.5,90.9 26.0,90.7 27.0,90.8 28.0,89.9 28.3,89.0 28.0,88.4 27.5,88.1 26.0,88.1 25.9,87.5 26.9,85.5 27.5,85.1 28.5,84.9 29.5,85.2 29.9,85.5 30.9,87.0 31.9,88.0 32.4,89.0 32.0,90.0 31.5,90.5 30.6,91.0 30.5,91.5 31.2,92.5 32.2,95.5 31.5,96.6 30.0,97.5 30.8,98.5 30.0,99.5 30.0,101.5 29.0,102.1ZM30.5,110.1 29.5,110.3 27.9,109.5 27.8,109.0 28.6,107.5 28.5,105.7 29.5,105.1 30.0,105.1 30.5,105.9 30.9,109.0 30.5,110.1Z" fill="#26268f" fill-opacity="0.1" stroke="#3434a6" stroke-width="0.5" stroke-opacity="0.9"/>
<path d="M30.0,96.5 29.0,96.2 28.5,94.5 26.1,91.5 27.5,90.8 28.4,89.5 28.3,88.5 28.0,88.1 26.5,87.5 27.0,86.0 28.0,85.3 29.5,85.6 30.5,87.2 31.5,88.3 31.8,89.0 31.5,89.8 30.4,90.5 30.0,91.5 31.0,93.0 31.7,95.5 31.0,96.3 30.0,96.5ZM29.0,101.4 28.3,101.0 27.4,98.5 27.4,97.5 28.0,97.2 29.0,97.5 29.5,98.5 29.2,99.5 29.4,101.0 29.0,101.4ZM29.5,106.2 29.5,106.0 29.5,106.2ZM30.0,109.7 29.0,109.5 28.7,109.0 28.8,108.5 29.5,107.7 30.0,107.9 30.5,109.0 30.0,109.7Z" fill="#26268f" fill-opacity="0.1" stroke="#3434a6" stroke-width="0.5" stroke-opacity="0.9"/>
<path d="M30.5,96.0 29.5,95.9 28.5,93.7 27.2,92.0 27.2,91.5 28.4,90.0 28.7,89.0 28.3,88.0 27.1,87.0 27.5,86.1 28.0,85.8 29.0,85.8 29.5,86.2 31.1,89.0 31.0,89.5 30.0,90.4 29.6,91.5 29.7,92.0 30.6,93.0 31.2,95.0 31.2,95.5 30.5,96.0Z" fill="#26268f" fill-opacity="0.1" stroke="#3434a6" stroke-width="0.5" stroke-opacity="0.9"/>
<path d="M80.0,85.6 77.0,85.8 74.0,84.8 72.5,83.8 71.0,82.4 68.7,79.0 67.3,75.5 66.5,71.0 66.2,57.5 66.5,54.0 67.4,50.5 69.2,46.0 71.3,42.5 73.2,40.5 75.5,39.0 78.0,38.2 81.0,37.8 84.0,38.3 86.5,39.3 88.5,40.7 89.9,42.5 90.8,44.5 91.2,46.5 91.4,55.5 91.2,58.5 89.5,72.0 88.2,77.0 86.8,80.0 84.9,82.5 82.5,84.5 80.0,85.6Z" fill="#26268f" fill-opacity="0.01" stroke="#3434a6" stroke-width="0.5" stroke-opacity="0.9"/>
<path d="M79.5,82.6 78.0,82.8 76.5,82.6 74.0,81.5 71.9,79.5 70.0,76.5 69.0,73.5 68.4,70.0 68.3,58.0 68.6,55.0 69.2,52.0 71.1,47.0 72.6,44.0 74.0,42.3 76.0,40.8 78.5,39.8 81.0,39.5 83.5,39.9 85.5,40.8 87.1,42.0 88.5,44.0 89.2,47.0 89.2,56.5 87.6,70.5 86.4,75.5 85.2,78.0 83.5,80.2 81.5,81.8 79.5,82.6Z" fill="#26268f" fill-opacity="0.01" stroke="#3434a6" stroke-width="0.5" stroke-opacity="0.9"/>
<path d="M79.0,80.6 76.5,80.5 74.5,79.5 72.5,77.5 71.1,75.0 70.2,72.0 69.8,69.0 69.8,57.5 70.2,54.5 70.8,52.0 72.7,47.0 74.0,44.4 75.2,43.0 77.0,41.7 79.0,41.0 81.5,40.8 83.5,41.2 85.0,42.0 86.5,43.4 87.3,45.0 87.8,47.5 87.6,57.0 86.2,70.0 85.1,74.5 84.0,76.8 82.5,78.7 81.0,79.8 79.0,80.6Z" fill="#26268f" fill-opacity="0.01" stroke="#3434a6" stroke-width="0.5" stroke-opacity="0.9"/>
<path d="M80.0,78.5 79.0,78.8 77.5,78.9 75.5,78.3 73.5,76.5 72.3,74.5 71.4,72.0 71.0,69.0 70.9,59.0 71.2,56.0 71.7,53.5 74.7,45.5 76.0,43.8 77.5,42.7 79.0,42.0 81.0,41.8 83.0,42.2 84.5,43.0 85.5,44.0 86.2,45.5 86.5,47.5 86.3,51.5 86.4,56.5 85.1,69.0 84.5,72.5 83.7,74.5 82.5,76.5 81.5,77.6 80.0,78.5Z" fill="#26268f" fill-opacity="0.01" stroke="#3434a6" stroke-width="0.5" stroke-opacity="0.9"/>
<path d="M79.5,77.1 77.5,77.3 75.5,76.5 74.0,75.0 72.9,73.0 72.3,71.0 72.0,68.5 72.0,58.5 72.7,54.0 75.7,46.0 76.8,44.5 78.0,43.6 79.5,43.0 81.0,42.8 82.5,43.1 83.5,43.6 84.5,44.6 85.2,46.0 85.4,47.5 85.1,51.5 85.3,57.0 84.1,69.0 83.5,71.9 82.0,75.0 81.0,76.2 79.5,77.1Z" fill="#26268f" fill-opacity="0.01" stroke="#3434a6" stroke-width="0.5" stroke-opacity="0.9"/>
<path d="M79.0,75.7 77.5,75.8 75.8,75.0 74.5,73.6 73.5,71.5 72.9,67.5 73.1,58.0 73.8,54.0 76.7,46.5 77.5,45.4 78.5,44.5 79.8,44.0 81.0,43.9 82.0,44.1 83.0,44.7 83.7,45.5 84.1,46.5 84.2,48.0 83.9,51.5 84.2,58.0 83.1,68.5 82.7,71.0 82.0,72.7 81.2,74.0 80.0,75.2 79.0,75.7Z" fill="#26268f" fill-opacity="0.01" stroke="#3434a6" stroke-width="0.5" stroke-opacity="0.9"/>
<path d="M79.0,74.0 77.5,74.1 76.5,73.7 75.3,72.5 74.5,70.8 74.0,67.5 74.1,58.5 74.9,54.5 78.0,47.0 79.0,45.8 80.5,45.3 81.5,45.5 82.0,45.8 82.7,47.0 82.6,51.5 83.1,55.5 83.1,58.0 81.8,70.0 80.7,72.5 80.0,73.4 79.0,74.0Z" fill="#26268f" fill-opacity="0.01" stroke="#3434a6" stroke-width="0.5" stroke-opacity="0.9"/>
<path d="M78.5,72.2 77.5,72.2 76.5,71.6 75.4,69.5 75.1,66.5 75.3,59.0 75.5,56.5 76.5,54.0 78.0,51.9 79.5,50.6 80.0,50.7 80.5,51.6 81.4,54.0 81.9,56.0 81.9,58.0 80.8,69.0 80.0,71.0 79.5,71.6 78.5,72.2Z" fill="#26268f" fill-opacity="0.01" stroke="#3434a6" stroke-width="0.5" stroke-opacity="0.9"/>
<ellipse cx="24.4" cy="47" rx="3.4" ry="4.4" fill="none" stroke="#3434a6" stroke-width="0.55"/>
<path d="M30.7,102.4h.6M27.5,92.4h.6M23.2,92.4h.6M34.5,88.5h.6M26.6,93.3h.6M32.6,76.2h.6M27.9,84.2h.6M30.6,98.7h.6M29.4,100.9h.6M28.1,88.3h.6M24.8,95.1h.6M25.8,99.8h.6M28.9,74.3h.6M26.4,77.9h.6M33.5,102.1h.6M27.3,93.7h.6M24.1,87.9h.6M29.4,95.4h.6M37.1,96.8h.6M25.2,90.9h.6M31.2,81.2h.6M35.7,97.6h.6M26.1,84.6h.6M51.1,97.1h.6M33.3,105.2h.6M33.6,91.8h.6M31.9,82.3h.6M32.0,77.0h.6M30.1,94.7h.6M24.3,92.7h.6M23.5,111.1h.6M33.9,105.4h.6M32.4,96.0h.6M28.5,88.1h.6M31.4,91.5h.6M26.7,78.5h.6M25.7,95.3h.6M24.7,93.1h.6M26.7,81.5h.6M25.8,88.0h.6M34.6,81.0h.6M24.8,89.2h.6M43.5,102.6h.6M31.3,98.2h.6M28.4,98.3h.6M23.9,84.2h.6M24.8,103.6h.6M37.3,85.1h.6M34.9,88.9h.6M34.3,87.6h.6M33.6,89.3h.6M25.9,90.1h.6M28.7,85.3h.6M25.3,74.9h.6M23.9,101.8h.6M30.0,93.0h.6M36.1,104.3h.6M34.1,85.4h.6M26.6,91.4h.6M29.0,107.5h.6M24.2,100.4h.6M29.6,89.0h.6M23.1,86.4h.6M29.2,91.1h.6M34.7,84.7h.6M28.8,92.7h.6M27.9,96.1h.6M26.2,100.6h.6M23.3,78.1h.6M27.5,100.4h.6M24.5,85.0h.6M25.6,91.8h.6M26.7,93.0h.6M31.4,83.0h.6M36.3,94.2h.6M36.9,80.4h.6M38.1,90.7h.6M25.9,81.7h.6M26.4,73.9h.6M31.4,88.5h.6M26.1,102.4h.6M28.0,84.7h.6M34.4,85.4h.6M28.1,90.1h.6M40.8,80.0h.6M29.0,75.3h.6M25.9,95.3h.6M34.8,79.6h.6M33.0,97.0h.6M27.0,111.3h.6M27.8,82.9h.6M30.4,74.5h.6M37.5,98.7h.6M25.3,95.6h.6M31.1,106.8h.6M23.9,79.4h.6M30.3,86.6h.6M26.5,92.3h.6M33.7,79.3h.6M26.8,81.5h.6M26.2,85.5h.6M27.6,90.2h.6M31.1,75.6h.6M25.0,100.7h.6M29.6,78.4h.6M31.1,81.7h.6M29.4,100.8h.6M40.9,89.8h.6M32.1,92.9h.6M32.7,68.7h.6M25.3,92.8h.6M30.7,83.9h.6M32.9,99.7h.6M28.2,88.4h.6M25.5,91.5h.6M35.1,103.1h.6M24.8,82.5h.6M22.8,98.7h.6M29.1,92.9h.6M30.7,93.5h.6M27.0,81.5h.6M23.9,91.4h.6M30.2,87.2h.6M25.2,101.9h.6M24.9,92.2h.6M25.8,83.1h.6M22.7,97.5h.6M31.8,89.4h.6M30.8,97.4h.6M27.0,94.5h.6M38.3,87.3h.6M28.2,93.8h.6M26.1,100.9h.6M32.8,98.8h.6M28.0,87.5h.6M25.6,87.3h.6M32.8,90.3h.6M24.7,90.6h.6M29.1,93.1h.6M38.8,83.1h.6M30.0,96.1h.6M28.2,88.4h.6M32.1,102.5h.6M23.7,94.3h.6M30.9,98.8h.6M29.2,94.0h.6M33.2,80.6h.6M28.0,75.6h.6M33.8,87.8h.6M26.9,88.4h.6M26.1,91.4h.6M29.9,86.4h.6M22.9,86.0h.6M32.6,86.8h.6M36.6,88.3h.6M36.1,80.4h.6M23.5,94.3h.6M30.7,89.0h.6M40.2,90.9h.6M29.5,85.6h.6M37.8,97.4h.6M30.2,76.7h.6M29.9,86.4h.6M30.1,97.9h.6M23.1,92.1h.6M33.1,91.6h.6M25.7,81.5h.6M23.6,79.7h.6M33.7,91.1h.6M35.0,100.0h.6M28.9,87.1h.6M22.5,86.0h.6M26.2,85.7h.6M29.0,88.3h.6M23.1,90.5h.6M29.7,93.7h.6M29.3,100.7h.6M28.6,86.1h.6M24.1,100.9h.6M23.4,86.3h.6M26.0,88.5h.6M28.6,88.5h.6M29.9,91.3h.6M30.6,101.5h.6M22.6,103.8h.6M24.9,95.7h.6M28.6,87.8h.6M23.1,83.7h.6M34.1,90.8h.6M39.1,104.0h.6M31.9,92.3h.6M32.2,79.4h.6M28.7,91.4h.6M24.8,92.3h.6M35.4,79.5h.6M28.5,102.9h.6M30.2,81.7h.6M38.7,81.3h.6M27.9,83.8h.6M25.9,92.7h.6M27.4,84.5h.6M40.3,88.9h.6M26.5,99.3h.6M27.7,88.5h.6M33.3,81.7h.6M32.1,98.6h.6M31.6,88.7h.6M27.6,76.1h.6M26.8,92.5h.6M32.8,91.3h.6M25.3,83.3h.6M27.3,91.3h.6M34.9,90.2h.6M24.6,89.3h.6M24.7,88.2h.6M27.1,91.4h.6M34.6,81.6h.6M34.5,93.3h.6M23.3,102.3h.6M26.4,93.5h.6M26.5,72.7h.6M25.8,89.5h.6M42.8,101.3h.6M28.3,81.2h.6M29.6,80.6h.6M28.8,93.1h.6M25.2,92.2h.6M25.6,85.5h.6M36.8,94.9h.6M25.8,83.9h.6M28.7,94.8h.6M32.7,102.1h.6M30.4,81.0h.6M39.7,99.6h.6M32.6,101.0h.6M24.5,99.8h.6M36.7,95.4h.6M25.3,105.4h.6M26.2,94.3h.6M25.9,83.3h.6M28.9,79.4h.6M30.7,87.5h.6M33.1,86.5h.6M23.6,93.4h.6M34.9,73.3h.6M28.3,95.2h.6M31.4,83.4h.6M23.8,104.1h.6M34.8,79.8h.6M39.3,96.4h.6M26.5,96.7h.6M29.8,83.9h.6M27.5,87.2h.6M23.1,98.0h.6M24.7,91.0h.6M22.9,75.9h.6M27.4,89.6h.6M32.5,92.4h.6M35.3,102.4h.6M32.1,92.5h.6M31.0,94.0h.6M34.6,99.7h.6M29.0,87.5h.6M25.2,85.6h.6M28.4,86.4h.6M26.3,104.0h.6M31.1,84.3h.6M31.0,77.8h.6M33.8,92.2h.6M26.4,94.7h.6M36.2,86.3h.6M27.6,102.2h.6M23.5,93.1h.6M23.7,95.2h.6M25.9,84.6h.6M36.8,92.8h.6M24.0,86.1h.6M27.7,83.5h.6M32.8,78.9h.6M31.2,93.8h.6M24.8,92.6h.6M23.0,86.7h.6M35.7,84.5h.6M34.7,72.5h.6M37.9,85.2h.6M32.2,73.2h.6M28.2,94.7h.6M27.3,67.7h.6M28.6,96.7h.6M35.5,93.3h.6M32.9,83.3h.6M30.9,86.1h.6M28.1,96.2h.6M23.2,113.5h.6M28.4,92.8h.6M23.0,90.5h.6M25.9,78.0h.6M27.0,68.3h.6M27.1,95.0h.6M25.6,85.8h.6M26.6,98.1h.6M30.9,97.3h.6M23.3,87.7h.6M25.1,86.2h.6M31.8,93.5h.6M32.1,91.1h.6M34.0,90.9h.6M33.3,94.1h.6M31.9,89.4h.6M39.3,93.2h.6M30.2,88.6h.6M24.7,113.7h.6M27.2,80.7h.6M25.4,86.0h.6M32.4,80.3h.6M29.9,102.1h.6M32.9,80.6h.6M30.5,85.2h.6M35.2,86.7h.6M28.2,81.4h.6M29.4,86.5h.6M24.5,98.9h.6M28.8,77.7h.6M31.7,96.9h.6M22.5,86.8h.6M27.8,87.9h.6M28.2,95.4h.6M24.5,107.2h.6M23.2,85.6h.6M39.4,109.7h.6M27.7,88.5h.6M28.5,83.0h.6M30.0,101.3h.6M31.6,108.2h.6M34.5,93.6h.6M27.3,94.5h.6M34.9,97.1h.6M33.9,91.8h.6M32.1,100.0h.6M26.5,79.3h.6M37.9,94.8h.6M24.8,91.9h.6M26.0,75.9h.6M26.4,78.3h.6M28.7,89.1h.6M34.4,89.0h.6M29.8,87.5h.6M25.2,78.5h.6M33.5,91.4h.6M24.0,91.7h.6M36.9,118.5h.6M30.5,96.7h.6M49.3,79.3h.6M37.9,85.7h.6M42.3,103.3h.6M53.6,109.1h.6M38.4,116.4h.6M34.7,88.5h.6M28.8,85.1h.6M31.6,109.9h.6M38.0,111.5h.6M35.8,68.1h.6M33.2,81.7h.6M24.2,131.9h.6M26.5,82.9h.6M45.3,111.3h.6M45.1,83.8h.6M24.4,91.6h.6M45.5,113.4h.6M47.0,119.1h.6M30.3,135.8h.6M44.3,164.4h.6M48.6,122.0h.6M39.1,115.8h.6M31.3,73.8h.6M51.0,101.0h.6M36.4,107.7h.6M54.5,69.9h.6M24.8,78.4h.6M66.7,137.7h.6M31.5,151.3h.6M36.6,134.9h.6M45.3,51.7h.6M29.0,105.8h.6M34.9,123.1h.6M48.3,63.4h.6M25.6,68.4h.6M33.8,74.5h.6M27.1,76.5h.6M50.4,104.5h.6M42.4,92.0h.6M47.9,94.9h.6M27.3,100.7h.6M38.6,58.8h.6M59.7,78.6h.6M28.6,82.0h.6M25.2,86.3h.6M29.7,113.3h.6M28.8,95.3h.6M26.8,102.0h.6M34.6,96.9h.6M34.7,87.8h.6M30.1,74.7h.6M35.3,122.9h.6M32.5,81.1h.6M34.5,122.4h.6M27.2,96.6h.6M50.0,152.5h.6M23.5,63.6h.6M36.6,128.6h.6M59.0,113.9h.6M26.7,89.8h.6M27.7,142.8h.6M38.3,102.3h.6M23.8,112.2h.6M29.6,103.5h.6M28.0,96.2h.6M57.6,113.1h.6M53.2,141.5h.6M50.5,62.4h.6M76.5,57.2h.6M92.5,72.4h.6M80.9,53.8h.6M92.9,75.2h.6M75.4,36.6h.6M73.1,76.5h.6M76.1,64.4h.6M78.9,52.8h.6M89.9,65.7h.6M81.4,55.3h.6M70.7,40.6h.6M81.1,48.4h.6M60.2,75.2h.6M77.3,52.2h.6M75.9,30.7h.6M92.3,62.6h.6M85.3,54.6h.6M88.2,71.6h.6M78.1,73.0h.6M87.9,60.7h.6M74.6,59.4h.6M82.7,61.8h.6M79.8,87.0h.6M79.8,80.6h.6M79.4,49.3h.6M69.4,66.9h.6M84.3,67.5h.6M77.2,62.2h.6M74.0,67.7h.6M78.9,62.4h.6M87.1,36.8h.6M80.1,54.6h.6M76.8,53.8h.6M86.9,91.1h.6M66.0,70.6h.6M85.3,77.2h.6M74.9,45.7h.6M81.0,58.7h.6M78.6,72.5h.6M95.6,31.5h.6M58.4,80.9h.6M85.0,50.8h.6M82.7,69.5h.6M81.1,47.1h.6M74.5,46.4h.6M78.5,66.0h.6M93.2,77.2h.6M63.5,59.1h.6M90.9,72.7h.6M89.7,54.7h.6M86.8,39.4h.6M86.7,41.4h.6M91.7,40.1h.6M58.2,60.2h.6M77.3,56.1h.6M81.9,68.6h.6M70.3,57.1h.6M81.1,75.5h.6M95.9,59.4h.6M78.6,76.3h.6M74.0,53.3h.6M72.9,83.0h.6M75.6,77.0h.6M71.4,74.9h.6M71.9,57.9h.6M79.0,69.7h.6M91.3,47.7h.6M84.0,70.9h.6M92.4,51.2h.6M72.3,50.1h.6M80.7,71.5h.6M82.4,60.9h.6M68.5,43.9h.6M66.9,51.4h.6M77.1,73.1h.6M100.9,76.0h.6M79.2,69.0h.6M75.0,47.7h.6M88.6,62.7h.6M83.0,51.6h.6M66.8,67.0h.6M72.6,78.0h.6M76.8,76.4h.6M63.5,81.8h.6M70.3,48.5h.6M65.5,48.8h.6M88.1,78.4h.6M67.4,70.1h.6M77.1,48.4h.6M69.1,42.3h.6M73.9,28.1h.6M70.8,56.7h.6M74.5,40.1h.6M90.4,51.6h.6M80.2,78.9h.6M86.1,77.9h.6M73.0,54.6h.6M71.0,62.8h.6M79.0,54.2h.6M90.0,44.8h.6M94.2,82.5h.6M73.7,80.3h.6M57.5,54.5h.6M81.7,74.2h.6M62.8,102.0h.6M76.5,53.6h.6M88.1,66.5h.6M70.6,61.5h.6M68.9,78.7h.6M82.1,52.9h.6M18.7,67.4h.6M52.8,51.4h.6M13.7,68.3h.6M46.6,41.7h.6M24.8,67.8h.6M20.0,61.9h.6M31.1,56.4h.6M50.7,29.5h.6M21.5,30.1h.6M28.9,31.4h.6M55.6,60.4h.6M38.2,33.6h.6M18.9,51.6h.6M55.2,67.0h.6M56.3,39.5h.6M44.3,48.3h.6M36.9,55.5h.6M23.3,37.0h.6M29.4,35.5h.6M52.7,41.5h.6M10.0,53.5h.6M59.3,49.7h.6M22.7,65.6h.6M40.7,52.9h.6M31.9,59.7h.6M42.9,49.6h.6M25.4,60.3h.6M55.4,29.1h.6M9.4,29.5h.6M53.4,52.8h.6M28.7,68.9h.6M57.1,44.1h.6M27.2,49.0h.6M38.8,62.9h.6M53.7,37.8h.6M52.4,28.5h.6M18.8,43.9h.6M11.9,40.6h.6M9.4,61.3h.6M43.2,36.7h.6M35.2,42.5h.6M50.6,38.2h.6M20.3,59.9h.6M47.3,56.7h.6M11.3,26.9h.6M56.4,68.8h.6M18.6,47.1h.6M32.1,37.8h.6M12.1,36.4h.6M58.0,44.9h.6M18.7,28.4h.6M41.6,62.8h.6M21.1,59.0h.6M9.1,30.8h.6M41.2,29.2h.6M81.1,72.2h.6M57.5,101.5h.6M95.9,98.8h.6M91.2,54.5h.6M93.5,79.7h.6M89.7,95.4h.6M71.6,109.5h.6M81.0,57.5h.6M84.5,114.7h.6M94.1,38.3h.6M70.9,88.6h.6M107.7,76.9h.6M85.2,30.1h.6M64.3,100.1h.6M69.1,76.7h.6M92.9,81.8h.6M97.4,86.1h.6M72.7,80.9h.6M93.6,36.0h.6M108.2,83.9h.6M108.7,105.0h.6M57.7,37.2h.6M102.2,51.4h.6M105.2,115.2h.6M97.5,84.3h.6M79.7,109.1h.6M90.0,38.1h.6M95.2,58.8h.6M63.3,61.9h.6M102.4,94.6h.6M76.5,101.7h.6M86.2,59.5h.6M61.5,89.3h.6M69.4,74.0h.6M68.9,84.9h.6M59.2,54.3h.6M89.8,103.3h.6M95.4,55.1h.6M77.5,73.6h.6M107.1,45.4h.6M98.6,39.9h.6M101.3,39.6h.6M76.7,62.2h.6M92.0,57.5h.6M99.5,115.7h.6M94.8,31.9h.6M61.2,99.9h.6M78.1,74.6h.6M101.6,92.1h.6M84.5,56.1h.6M60.3,39.8h.6M58.9,64.8h.6M107.2,39.6h.6M83.8,83.6h.6M106.8,116.6h.6M91.4,80.5h.6M94.2,67.9h.6M98.1,102.8h.6M67.6,76.0h.6M72.9,40.9h.6M68.6,63.7h.6M75.0,83.7h.6M68.5,83.6h.6M70.3,66.0h.6M67.2,105.9h.6M69.9,110.5h.6M61.5,60.3h.6M73.2,99.2h.6M66.0,96.4h.6M80.5,104.6h.6M71.0,84.1h.6M56.9,85.4h.6M74.6,110.8h.6M60.4,69.6h.6M62.9,101.4h.6M48.9,65.3h.6M90.8,97.0h.6M59.9,83.9h.6M79.7,95.0h.6M70.0,70.6h.6M79.6,84.9h.6M79.4,92.2h.6M67.8,111.2h.6M67.5,92.8h.6M66.2,80.8h.6M69.7,73.0h.6M74.2,108.8h.6M88.9,111.1h.6M70.4,111.5h.6M75.8,117.7h.6M60.6,111.9h.6M66.6,106.0h.6M67.8,101.6h.6M69.4,50.9h.6M63.2,80.6h.6M72.2,44.4h.6M61.1,71.7h.6M70.1,89.0h.6M64.6,57.5h.6M74.7,79.0h.6M80.1,75.5h.6M77.9,68.8h.6M74.4,86.6h.6M76.1,68.1h.6M70.9,69.6h.6M70.5,96.3h.6M99.1,85.6h.6M78.5,87.1h.6M82.3,93.4h.6M81.5,91.5h.6M93.8,110.0h.6M56.6,90.5h.6M72.7,45.1h.6M64.2,76.7h.6M65.4,87.4h.6M55.8,98.6h.6M79.0,91.4h.6M69.0,85.2h.6M67.8,105.8h.6M76.6,121.1h.6M68.7,111.3h.6M66.8,82.0h.6M62.6,94.6h.6M71.5,96.3h.6M85.5,84.1h.6M75.5,101.4h.6M71.5,75.2h.6M75.3,94.2h.6M79.1,100.2h.6M66.0,93.2h.6M83.2,76.7h.6M75.3,73.9h.6M73.6,116.5h.6M73.6,67.7h.6M75.2,89.0h.6M82.1,60.4h.6M63.8,83.7h.6M58.0,105.6h.6M53.8,70.1h.6M58.7,73.3h.6" stroke="#2c2c9c" stroke-width="0.7" stroke-opacity="0.75"/>
</g></g>
<rect x="30.6" y="417.3" width="117.6" height="117.6" fill="none" stroke="#9a9a9a" stroke-width="0.7"/>
<line x1="87.20" y1="417.30" x2="87.20" y2="534.90" stroke="#3a3a3a" stroke-width="1.0"/>
<line x1="30.60" y1="475.30" x2="148.20" y2="475.30" stroke="#3a3a3a" stroke-width="1.0"/>
<text x="32.40" y="426.90" font-size="9.6" fill="#111">1.11</text>
<text x="147.00" y="426.90" font-size="9.6" text-anchor="end" fill="#111">3.87</text>
<text x="32.40" y="531.70" font-size="9.6" fill="#111">89.0</text>
<text x="147.00" y="531.70" font-size="9.6" text-anchor="end" fill="#111">6.02</text>
<text x="25.0" y="431.8" font-size="8.3" fill="#000" text-anchor="end">10</text>
<text x="25.200000000000003" y="428.3" font-size="5.3" fill="#000">5</text>
<text x="25.0" y="459.5" font-size="8.3" fill="#000" text-anchor="end">10</text>
<text x="25.200000000000003" y="456.0" font-size="5.3" fill="#000">4</text>
<text x="25.0" y="492.5" font-size="8.3" fill="#000" text-anchor="end">10</text>
<text x="25.200000000000003" y="489.0" font-size="5.3" fill="#000">3</text>
<text x="27.400000000000002" y="508.3" font-size="8.3" fill="#000" text-anchor="end">0</text>
<path d="M29.4,504.8 v4.5" stroke="#222" stroke-width="1.3"/>
<path d="M55.9,535.4 h4" stroke="#111" stroke-width="1.4"/>
<text x="25.0" y="530.9" font-size="8.3" fill="#000" text-anchor="end">-10</text>
<text x="25.200000000000003" y="527.4" font-size="5.3" fill="#000">3</text>
<text x="29.7" y="545.3" font-size="9" fill="#000">-10</text>
<text x="42.9" y="541.5" font-size="5.8" fill="#000">3</text>
<text x="56.9" y="545.3" font-size="9" fill="#000">0</text>
<text x="72.4" y="545.3" font-size="9" fill="#000">10</text>
<text x="82.6" y="541.5" font-size="5.8" fill="#000">3</text>
<text x="103.8" y="545.3" font-size="9" fill="#000">10</text>
<text x="114.0" y="541.5" font-size="5.8" fill="#000">4</text>
<text x="132.0" y="545.3" font-size="9" fill="#000">10</text>
<text x="142.2" y="541.5" font-size="5.8" fill="#000">5</text>
<g clip-path="url(#cp11)"><g transform="translate(172.3,417.3)">
<path d="M30.5,136.0 28.5,136.4 26.5,136.1 25.0,135.0 23.7,133.0 22.3,129.0 21.3,124.0 20.6,119.0 20.3,113.0 20.2,101.5 19.8,89.0 20.1,83.0 20.7,79.0 22.2,73.0 23.8,69.5 25.5,67.6 26.5,67.2 28.5,66.8 30.5,66.9 33.0,67.3 42.0,70.1 47.0,72.2 51.0,74.7 54.9,78.0 57.5,81.5 59.3,85.5 60.0,89.5 59.9,92.0 59.3,95.0 56.0,105.5 53.7,117.0 52.3,121.5 50.3,125.5 48.4,128.0 46.0,129.9 44.0,130.7 40.0,131.1 38.5,131.6 33.0,134.9 30.5,136.0Z" fill="#26268f" fill-opacity="0.02" stroke="#3434a6" stroke-width="0.5" stroke-opacity="0.9"/>
<path d="M29.5,132.6 28.0,132.8 27.0,132.6 26.0,132.2 25.3,131.5 23.8,129.0 22.6,125.0 21.8,120.0 21.3,114.5 21.3,101.5 20.8,90.5 21.3,82.0 22.1,77.5 23.2,74.0 24.3,72.0 25.5,70.7 27.0,69.9 29.0,69.7 33.0,70.3 43.0,73.6 46.5,75.2 50.0,77.3 53.0,80.0 55.3,83.0 56.8,86.5 57.3,90.0 57.1,92.5 56.4,95.5 53.4,103.5 50.3,114.5 49.3,117.0 48.0,119.4 46.8,121.0 45.5,122.1 44.0,123.1 39.5,125.1 33.0,130.9 31.0,132.1 29.5,132.6Z" fill="#26268f" fill-opacity="0.02" stroke="#3434a6" stroke-width="0.5" stroke-opacity="0.9"/>
<path d="M29.5,130.1 27.5,130.3 26.5,129.9 25.5,129.1 24.2,127.0 23.1,123.0 22.1,115.0 21.9,101.5 21.4,90.5 21.8,83.0 22.7,78.5 23.6,75.5 24.8,73.5 26.0,72.3 27.5,71.8 29.0,71.6 33.0,72.3 41.5,75.2 45.5,76.8 48.5,78.6 51.5,81.0 53.9,84.0 55.2,87.0 55.5,90.0 55.3,92.5 54.4,95.5 51.5,102.5 48.3,111.5 46.5,114.9 44.5,117.2 40.5,119.9 39.0,121.2 33.1,128.0 31.5,129.2 29.5,130.1Z" fill="#26268f" fill-opacity="0.02" stroke="#3434a6" stroke-width="0.5" stroke-opacity="0.9"/>
<path d="M29.5,128.2 28.0,128.4 27.0,128.2 25.5,127.1 24.4,125.0 23.4,121.5 22.5,114.0 22.4,101.5 21.9,90.5 22.4,83.0 22.9,80.0 23.8,77.0 24.9,75.0 26.0,73.9 27.5,73.3 29.0,73.1 32.5,73.7 41.5,76.7 45.0,78.2 48.0,79.9 50.6,82.0 52.6,84.5 53.8,87.0 54.2,90.0 53.9,92.5 52.9,95.5 47.3,108.0 45.7,111.0 44.0,113.2 39.0,117.8 33.4,125.5 31.5,127.2 29.5,128.2Z" fill="#26268f" fill-opacity="0.02" stroke="#3434a6" stroke-width="0.5" stroke-opacity="0.9"/>
<path d="M29.0,126.6 27.0,126.5 25.5,125.2 24.5,123.2 23.7,120.0 22.9,113.0 22.9,101.0 22.3,90.0 22.8,83.0 24.1,78.0 25.0,76.3 26.0,75.2 27.5,74.5 29.0,74.4 32.0,74.8 40.5,77.7 44.0,79.1 47.0,80.7 49.9,83.0 51.6,85.0 52.7,87.5 53.0,90.0 52.6,92.5 51.5,95.5 45.0,108.0 43.5,110.1 40.0,113.5 38.5,115.4 34.8,121.5 33.0,123.9 31.0,125.7 29.0,126.6Z" fill="#26268f" fill-opacity="0.02" stroke="#3434a6" stroke-width="0.5" stroke-opacity="0.9"/>
<path d="M29.0,125.0 28.0,125.1 27.0,124.9 25.5,123.5 24.5,121.2 23.8,118.0 23.3,112.5 23.3,101.0 22.7,89.5 23.2,83.0 24.5,78.5 25.5,76.9 26.5,76.1 28.0,75.6 29.5,75.5 32.0,75.9 40.0,78.7 43.5,80.1 46.5,81.7 48.9,83.5 50.6,85.5 51.6,87.5 51.9,90.0 51.7,92.0 50.3,95.5 47.6,100.5 44.5,105.5 42.5,108.1 39.7,111.0 38.5,112.5 34.4,120.0 33.0,122.1 31.0,124.1 29.0,125.0Z" fill="#26268f" fill-opacity="0.02" stroke="#3434a6" stroke-width="0.5" stroke-opacity="0.9"/>
<path d="M29.0,123.6 27.0,123.3 25.9,122.5 25.0,120.8 24.1,117.0 23.6,111.5 23.7,101.5 23.0,89.5 23.6,83.0 24.6,79.5 25.5,78.0 26.5,77.1 27.5,76.7 29.0,76.5 31.0,76.7 33.5,77.4 41.5,80.3 45.5,82.3 48.0,84.0 49.7,86.0 50.6,88.0 50.9,90.0 50.7,91.5 49.9,94.0 47.0,99.2 43.0,104.9 38.3,110.0 36.5,113.2 34.8,117.0 32.5,121.0 30.5,122.9 29.0,123.6Z" fill="#26268f" fill-opacity="0.02" stroke="#3434a6" stroke-width="0.5" stroke-opacity="0.9"/>
<path d="M30.0,121.7 28.5,122.0 27.5,121.9 26.5,121.6 25.5,120.1 24.5,117.0 24.0,111.5 24.1,101.5 23.3,90.5 23.7,84.5 24.6,81.0 26.1,78.5 27.0,77.9 28.5,77.5 31.0,77.7 33.0,78.2 40.5,81.0 44.5,82.8 47.0,84.5 48.8,86.5 49.5,88.0 49.7,90.0 49.6,91.5 49.0,93.5 46.5,97.9 43.5,101.9 37.3,108.5 36.8,109.5 34.0,116.5 32.0,119.7 30.0,121.7Z" fill="#26268f" fill-opacity="0.02" stroke="#3434a6" stroke-width="0.5" stroke-opacity="0.9"/>
<path d="M28.0,120.5 27.0,120.3 26.0,119.2 25.1,117.0 24.7,115.0 24.3,110.0 24.5,101.5 23.6,89.5 24.2,84.0 25.0,81.4 26.5,79.2 27.5,78.6 28.5,78.5 32.5,79.0 43.6,83.5 46.0,85.2 47.4,86.5 48.4,88.5 48.6,90.0 48.0,93.0 45.5,97.3 42.5,101.0 39.8,103.0 38.5,104.3 36.0,108.0 35.5,109.0 33.7,115.0 33.0,116.3 30.5,119.5 29.0,120.3 28.0,120.5Z" fill="#26268f" fill-opacity="0.02" stroke="#3434a6" stroke-width="0.5" stroke-opacity="0.9"/>
<path d="M29.5,118.6 28.0,118.9 27.0,118.6 26.0,117.2 25.2,115.0 24.8,110.5 25.0,101.5 23.9,90.5 24.3,85.0 24.9,83.0 25.5,81.6 26.5,80.3 27.0,79.8 28.0,79.5 31.0,79.7 32.5,80.0 37.0,81.6 39.5,83.0 42.0,84.0 46.2,87.0 47.4,90.0 46.9,92.5 44.6,96.5 42.9,98.0 41.5,100.3 39.0,101.6 36.7,103.5 34.5,108.0 33.7,111.5 32.5,114.9 30.5,118.0 29.5,118.6Z" fill="#26268f" fill-opacity="0.02" stroke="#3434a6" stroke-width="0.5" stroke-opacity="0.9"/>
<path d="M29.0,117.1 28.0,117.1 27.0,116.6 26.0,115.4 25.6,114.0 25.3,109.5 25.6,102.0 25.0,98.5 24.1,90.0 24.8,84.5 25.6,82.5 26.5,81.4 27.5,80.5 30.5,80.4 37.0,82.5 39.0,84.2 41.5,85.1 45.0,87.8 45.9,89.5 46.0,90.5 45.6,92.5 43.9,95.5 41.7,97.0 40.8,98.5 39.2,100.0 36.0,102.2 34.0,105.9 32.6,112.0 30.0,116.2 29.0,117.1Z" fill="#26268f" fill-opacity="0.1" stroke="#3434a6" stroke-width="0.5" stroke-opacity="0.9"/>
<path d="M28.5,115.7 28.0,115.8 27.0,115.6 26.1,114.5 25.8,113.5 25.6,109.0 25.8,107.0 25.7,104.5 26.1,102.0 25.3,98.5 24.9,93.5 24.3,90.0 24.9,85.0 25.7,83.0 26.5,82.0 27.5,81.2 30.5,80.8 36.5,82.7 38.5,84.5 41.0,85.6 43.0,87.0 44.0,88.0 44.5,89.0 44.4,91.0 44.7,92.0 43.5,95.0 43.0,95.5 40.9,96.5 40.1,98.0 38.1,100.0 35.5,101.6 33.4,105.0 32.7,108.5 32.6,110.5 32.1,112.0 30.5,114.0 28.5,115.7Z" fill="#26268f" fill-opacity="0.1" stroke="#3434a6" stroke-width="0.5" stroke-opacity="0.9"/>
<path d="M28.0,114.5 27.5,114.7 27.0,114.6 26.5,114.1 26.3,113.5 26.0,110.5 26.0,108.5 26.3,106.5 26.1,104.5 26.8,102.0 25.5,98.5 25.3,93.5 24.5,90.0 25.0,85.0 26.0,83.0 27.5,81.9 30.5,81.3 32.5,82.3 34.5,82.6 36.5,83.2 38.5,85.1 42.5,87.5 43.5,89.0 43.1,90.5 44.0,92.5 43.5,94.0 42.7,95.0 41.5,95.6 40.0,95.8 39.8,96.0 39.7,97.5 39.3,98.0 37.0,100.0 34.7,101.5 32.8,104.5 32.6,106.5 32.1,108.0 32.1,110.5 31.5,112.0 30.0,113.8 28.5,114.1 28.0,114.5Z" fill="#26268f" fill-opacity="0.1" stroke="#3434a6" stroke-width="0.5" stroke-opacity="0.9"/>
<path d="M30.0,113.2 29.5,113.3 29.0,113.1 28.5,112.1 28.0,111.8 27.0,112.1 26.5,111.0 26.4,108.5 26.5,108.0 27.3,107.0 27.3,106.5 26.7,105.5 26.6,104.5 26.8,103.5 27.9,102.0 26.5,100.2 26.0,99.0 25.6,96.5 25.6,93.5 24.7,91.0 24.6,90.0 25.1,85.5 25.9,83.5 27.0,82.6 30.0,81.9 30.7,82.0 31.5,82.8 32.0,82.9 34.0,82.9 36.1,83.5 39.0,85.9 41.7,87.5 42.2,88.0 42.7,89.0 42.2,90.5 43.4,92.5 43.0,94.0 42.0,94.9 41.0,95.2 39.5,95.1 39.0,95.3 38.9,97.5 37.5,98.9 34.0,101.5 32.2,104.5 32.1,106.5 31.5,107.3 30.0,107.2 29.2,107.5 29.2,108.0 29.5,108.3 31.0,108.3 31.6,109.5 31.6,110.5 31.1,112.0 30.0,113.2Z" fill="#26268f" fill-opacity="0.1" stroke="#3434a6" stroke-width="0.5" stroke-opacity="0.9"/>
<path d="M31.0,106.7 29.0,106.6 27.1,105.0 27.1,104.0 27.5,103.4 28.0,103.1 29.6,103.0 28.3,101.0 27.0,100.1 26.5,99.5 25.8,96.5 25.8,93.5 24.8,90.5 25.3,85.5 25.8,84.0 27.0,82.9 29.5,82.4 30.2,82.5 31.0,83.2 31.5,83.3 34.0,83.2 36.0,83.9 37.0,84.5 39.5,86.8 41.5,87.8 42.2,89.0 41.6,90.5 41.8,91.0 42.8,92.0 43.0,92.5 42.8,93.5 42.0,94.5 41.0,94.8 39.5,94.7 38.5,95.0 38.3,95.5 38.5,97.0 38.4,97.5 33.9,101.0 31.9,104.0 31.7,106.0 31.5,106.4 31.0,106.7ZM30.0,112.6 29.3,112.5 28.5,110.3 27.5,110.3 27.0,109.7 26.9,108.5 27.5,108.0 28.0,108.2 29.0,109.4 30.5,109.1 31.0,109.4 31.1,110.0 30.8,111.5 30.0,112.6Z" fill="#26268f" fill-opacity="0.1" stroke="#3434a6" stroke-width="0.5" stroke-opacity="0.9"/>
<path d="M31.0,106.2 29.5,106.3 27.5,104.5 27.6,104.0 28.0,103.7 29.5,104.0 30.0,103.9 30.5,103.5 30.4,103.0 29.0,100.8 27.4,100.0 26.7,99.0 26.0,96.0 26.0,93.5 24.9,90.5 25.3,88.5 25.3,86.0 25.7,84.5 27.0,83.2 29.0,82.8 30.0,83.0 31.0,83.6 34.5,83.6 37.0,84.9 39.5,87.3 41.0,87.8 41.5,88.3 41.8,89.0 41.1,90.5 41.2,91.0 42.7,92.5 42.5,93.5 41.5,94.4 39.0,94.5 38.0,94.7 37.8,95.0 38.2,96.5 37.9,97.5 36.0,98.6 35.0,99.9 33.5,101.0 32.5,102.8 31.3,104.0 31.4,105.5 31.0,106.2ZM30.0,111.9 29.6,111.0 30.0,110.0 30.3,110.5 30.0,111.9Z" fill="#26268f" fill-opacity="0.1" stroke="#3434a6" stroke-width="0.5" stroke-opacity="0.9"/>
<path d="M32.0,102.6 31.5,102.8 31.0,102.5 30.2,100.5 29.7,100.0 27.5,99.5 27.1,99.0 27.1,97.5 26.4,96.0 26.2,93.5 25.1,90.5 25.5,88.5 25.4,86.5 26.0,84.4 26.5,83.9 27.5,83.4 29.0,83.2 30.5,83.8 33.5,83.8 34.4,84.0 37.0,85.3 39.0,87.4 39.5,87.8 41.0,88.3 41.3,89.0 40.3,90.5 40.5,91.0 42.0,92.5 41.9,93.5 41.4,94.0 40.5,94.2 37.0,93.8 33.7,95.0 33.8,95.5 34.5,95.8 36.0,95.1 37.0,95.1 37.7,96.0 37.7,97.0 37.0,97.6 35.7,98.0 34.9,99.5 33.0,101.0 32.0,102.6ZM30.5,105.8 30.0,105.8 29.5,105.5 29.4,105.0 30.0,104.7 30.5,104.7 30.8,105.5 30.5,105.8Z" fill="#26268f" fill-opacity="0.1" stroke="#3434a6" stroke-width="0.5" stroke-opacity="0.9"/>
<path d="M32.0,100.9 31.0,99.7 29.5,99.2 27.9,99.0 27.6,98.5 27.5,96.8 26.8,95.5 26.4,93.0 25.5,91.0 25.8,85.5 26.5,84.3 27.5,83.8 28.5,83.8 30.5,84.2 33.5,84.2 34.2,84.5 35.5,85.6 37.0,86.0 38.7,88.0 39.5,91.4 40.8,92.5 41.0,93.0 40.7,93.5 39.5,93.6 37.5,93.0 35.0,94.0 33.5,94.3 33.2,95.0 33.5,96.0 35.2,97.0 34.5,99.3 32.0,100.9ZM36.5,97.0 36.0,97.0 35.4,96.5 35.9,96.0 36.5,95.8 36.9,96.0 37.1,96.5 36.5,97.0Z" fill="#26268f" fill-opacity="0.1" stroke="#3434a6" stroke-width="0.5" stroke-opacity="0.9"/>
<path d="M33.5,99.2 32.0,98.5 30.5,98.8 28.5,98.6 28.0,98.0 28.0,96.0 27.2,95.0 25.7,90.5 26.0,89.0 25.9,86.0 26.4,85.0 27.0,84.4 28.0,84.2 30.0,84.6 32.0,84.5 33.5,84.6 35.5,86.3 37.0,86.8 37.9,88.0 38.5,90.5 38.3,91.5 38.0,92.0 35.0,93.7 33.5,93.9 33.0,94.2 32.8,95.0 33.0,96.0 34.0,97.2 34.2,98.0 34.0,99.0 33.5,99.2Z" fill="#26268f" fill-opacity="0.1" stroke="#3434a6" stroke-width="0.5" stroke-opacity="0.9"/>
<path d="M30.5,98.1 29.5,98.3 28.5,97.9 28.3,97.0 28.5,95.5 27.5,94.5 26.1,91.0 26.3,89.0 26.1,86.5 26.5,85.4 27.5,84.6 28.5,84.6 30.0,85.1 31.5,84.8 33.5,85.0 35.0,86.7 36.2,87.5 36.3,88.0 35.5,88.4 35.2,89.0 35.7,89.5 37.0,90.0 37.6,90.5 37.4,91.5 36.4,92.5 35.0,93.3 33.0,93.6 32.5,95.0 32.8,97.0 32.6,97.5 31.5,97.6 30.5,98.1Z" fill="#26268f" fill-opacity="0.1" stroke="#3434a6" stroke-width="0.5" stroke-opacity="0.9"/>
<path d="M30.0,97.8 29.5,97.9 28.8,97.5 28.7,97.0 29.1,95.5 27.6,94.0 26.4,90.5 26.6,89.0 26.4,86.5 27.0,85.3 28.0,84.9 30.0,85.5 31.5,85.1 33.5,85.5 34.5,87.0 34.6,87.5 34.3,88.5 34.5,89.5 35.0,90.0 36.2,90.5 36.6,91.0 36.6,91.5 35.6,92.5 34.5,93.0 33.0,93.2 32.5,94.0 31.9,96.5 30.0,97.8ZM34.8,91.5 34.5,90.7 34.0,90.9 33.8,91.5 34.0,92.0 34.5,91.9 34.8,91.5Z" fill="#26268f" fill-opacity="0.1" stroke="#3434a6" stroke-width="0.5" stroke-opacity="0.9"/>
<path d="M30.0,97.1 29.5,97.2 29.3,97.0 29.6,95.5 27.9,94.0 26.9,90.5 26.9,89.0 26.6,87.5 26.7,86.5 27.0,85.9 28.0,85.3 30.0,86.2 31.3,85.5 32.3,85.5 33.3,86.0 33.7,87.0 34.0,90.0 33.4,91.0 33.1,92.5 32.4,93.5 31.5,96.0 30.0,97.1ZM29.0,89.0 29.5,88.5 29.0,88.3 28.5,89.0 29.0,89.0Z" fill="#26268f" fill-opacity="0.1" stroke="#3434a6" stroke-width="0.5" stroke-opacity="0.9"/>
<path d="M73.5,94.5 72.0,94.6 70.0,94.3 68.0,93.5 66.5,92.5 64.3,90.0 63.2,88.0 62.6,86.0 60.7,76.0 60.3,71.5 60.4,61.0 61.4,53.0 61.3,48.0 61.7,46.0 62.8,44.0 64.3,42.5 66.0,41.3 68.5,40.2 71.5,39.4 74.5,39.0 78.0,39.1 82.0,39.7 86.0,41.3 88.8,43.5 90.3,46.0 90.7,48.0 90.6,53.5 91.6,61.0 91.6,73.0 91.2,76.0 90.1,79.5 88.6,82.5 86.4,85.5 82.5,89.5 79.5,92.0 76.5,93.7 73.5,94.5Z" fill="#26268f" fill-opacity="0.01" stroke="#3434a6" stroke-width="0.5" stroke-opacity="0.9"/>
<path d="M73.0,92.5 70.0,92.1 68.5,91.4 67.3,90.5 65.4,88.0 64.3,84.5 62.7,75.0 62.4,71.0 62.6,60.0 63.7,53.0 63.6,48.0 64.1,46.0 65.0,44.5 66.5,43.0 68.0,42.1 70.0,41.3 72.5,40.6 75.5,40.3 78.0,40.4 81.5,41.1 84.5,42.4 86.6,44.0 87.4,45.0 88.1,46.5 88.4,48.5 88.4,53.5 89.4,61.0 89.6,69.5 89.5,73.0 88.9,76.5 88.0,79.0 86.6,81.5 84.7,84.0 81.0,88.0 78.1,90.5 75.5,92.0 73.0,92.5Z" fill="#26268f" fill-opacity="0.01" stroke="#3434a6" stroke-width="0.5" stroke-opacity="0.9"/>
<path d="M75.0,90.5 72.5,91.0 70.0,90.5 67.9,89.0 66.4,86.5 65.7,84.0 64.0,73.5 63.8,70.0 64.0,62.5 64.3,58.5 65.3,53.0 65.2,48.0 65.6,46.5 66.1,45.5 67.5,43.9 70.0,42.4 73.0,41.6 76.5,41.3 80.0,41.8 83.0,42.9 85.2,44.5 86.4,46.5 86.8,48.5 86.7,53.5 87.9,60.5 88.2,71.0 87.9,74.0 87.3,76.5 86.3,79.0 85.1,81.0 83.0,83.6 79.0,87.8 77.0,89.5 75.0,90.5Z" fill="#26268f" fill-opacity="0.01" stroke="#3434a6" stroke-width="0.5" stroke-opacity="0.9"/>
<path d="M73.5,89.5 71.5,89.5 69.5,88.5 68.1,87.0 67.2,85.0 65.1,72.5 65.3,60.5 66.6,53.5 66.6,48.0 67.2,46.0 68.5,44.5 71.0,43.0 74.0,42.3 77.0,42.2 80.0,42.7 82.5,43.8 84.1,45.0 85.2,47.0 85.5,48.5 85.3,53.0 86.4,58.0 86.8,61.0 86.9,72.0 86.6,74.5 85.8,77.0 84.9,79.0 83.6,81.0 77.5,87.4 75.5,88.8 73.5,89.5Z" fill="#26268f" fill-opacity="0.01" stroke="#3434a6" stroke-width="0.5" stroke-opacity="0.9"/>
<path d="M74.0,88.0 72.0,88.2 70.5,87.6 69.0,86.0 68.2,84.0 66.1,72.5 66.3,61.0 66.7,58.0 67.8,53.5 67.8,48.0 68.5,46.0 70.0,44.5 72.0,43.5 74.5,43.0 77.0,42.9 79.5,43.4 81.5,44.2 83.1,45.5 84.0,47.0 84.3,48.5 84.1,53.0 85.3,58.0 85.7,61.0 86.0,71.5 85.6,74.0 85.1,76.0 84.2,78.0 83.0,80.0 81.0,82.3 77.3,86.0 75.5,87.4 74.0,88.0Z" fill="#26268f" fill-opacity="0.01" stroke="#3434a6" stroke-width="0.5" stroke-opacity="0.9"/>
<path d="M74.0,86.6 72.5,86.7 71.0,86.1 70.0,84.9 69.2,83.0 67.5,75.5 67.0,72.5 67.2,61.5 67.6,58.5 69.1,53.0 68.8,48.5 69.4,46.5 70.5,45.3 72.0,44.4 74.0,43.8 76.5,43.6 79.0,44.0 81.0,44.9 82.2,46.0 83.0,47.5 83.2,49.0 82.9,53.0 84.3,58.0 84.8,61.0 85.0,71.5 84.3,75.5 82.5,79.0 80.5,81.3 77.0,84.7 75.5,85.8 74.0,86.6Z" fill="#26268f" fill-opacity="0.01" stroke="#3434a6" stroke-width="0.5" stroke-opacity="0.9"/>
<path d="M74.5,84.7 73.5,85.0 72.5,84.9 71.3,84.0 70.5,82.5 68.9,77.5 68.2,74.5 67.8,71.5 68.0,62.0 68.5,58.5 70.2,53.0 70.0,48.5 70.3,47.0 71.1,46.0 72.6,45.0 74.5,44.4 76.5,44.3 78.5,44.7 80.0,45.3 81.3,46.5 81.9,47.5 82.0,49.0 81.8,53.0 83.4,58.0 83.9,60.5 84.2,71.0 83.5,75.0 82.0,78.1 80.5,79.9 78.5,81.8 76.0,83.8 74.5,84.7Z" fill="#26268f" fill-opacity="0.01" stroke="#3434a6" stroke-width="0.5" stroke-opacity="0.9"/>
<path d="M75.0,82.7 73.5,82.9 72.5,82.5 71.0,80.3 69.0,74.5 68.6,72.0 68.6,69.0 69.2,59.5 71.5,52.5 71.1,49.0 71.4,47.5 72.0,46.5 73.0,45.8 74.5,45.2 76.0,45.1 78.0,45.4 79.4,46.0 80.4,47.0 80.8,48.0 80.5,52.5 80.8,54.0 82.5,58.0 82.9,60.0 83.4,70.5 82.8,74.5 81.3,77.5 78.5,80.5 75.0,82.7Z" fill="#26268f" fill-opacity="0.01" stroke="#3434a6" stroke-width="0.5" stroke-opacity="0.9"/>
<path d="M76.0,80.6 74.5,81.0 73.5,80.7 72.5,80.0 71.8,79.0 70.8,77.0 69.9,74.5 69.4,70.0 69.7,62.0 70.1,59.5 70.7,57.5 72.8,53.5 73.1,52.5 72.5,49.0 72.6,48.0 73.2,47.0 73.9,46.5 76.0,46.0 78.1,46.5 78.8,47.0 79.4,48.0 79.5,49.0 78.9,52.5 79.2,53.5 81.3,57.5 81.9,59.5 82.3,62.0 82.6,70.0 82.2,73.5 81.0,76.4 79.0,78.7 76.0,80.6Z" fill="#26268f" fill-opacity="0.01" stroke="#3434a6" stroke-width="0.5" stroke-opacity="0.9"/>
<path d="M76.0,50.5 75.0,49.9 74.6,49.0 74.8,48.0 76.0,47.5 77.2,48.0 77.4,49.0 77.0,49.9 76.0,50.5ZM76.5,79.0 74.5,79.2 73.5,78.8 72.5,77.9 71.5,76.3 70.8,74.5 70.2,70.5 70.6,62.0 71.1,59.0 72.0,57.0 73.0,55.6 74.5,54.1 76.0,53.4 77.0,53.8 78.5,55.1 80.0,57.0 80.7,58.5 81.4,61.5 81.8,69.5 81.5,72.8 80.5,75.5 78.9,77.5 76.5,79.0Z" fill="#26268f" fill-opacity="0.01" stroke="#3434a6" stroke-width="0.5" stroke-opacity="0.9"/>
<path d="M76.5,77.6 75.5,77.8 74.5,77.6 73.0,76.5 71.6,74.0 71.1,70.5 71.5,62.4 72.0,59.5 72.7,58.0 73.5,56.9 74.5,56.1 76.0,55.7 77.5,56.1 78.5,56.9 79.3,58.0 80.0,59.5 80.5,62.0 80.9,69.5 80.7,72.5 80.0,74.5 78.5,76.4 76.5,77.6Z" fill="#26268f" fill-opacity="0.01" stroke="#3434a6" stroke-width="0.5" stroke-opacity="0.9"/>
<path d="M77.0,76.0 76.0,76.3 75.0,76.2 73.5,75.2 72.5,73.3 72.0,70.5 72.5,62.5 73.0,60.1 73.5,59.0 74.4,58.0 76.0,57.4 77.6,58.0 78.5,59.0 79.0,60.1 79.5,62.5 80.0,69.0 79.9,71.5 79.3,73.5 78.3,75.0 77.0,76.0Z" fill="#26268f" fill-opacity="0.01" stroke="#3434a6" stroke-width="0.5" stroke-opacity="0.9"/>
<path d="M76.0,74.6 75.0,74.4 74.0,73.5 73.4,72.0 73.1,70.0 74.2,61.5 75.0,60.0 76.0,59.6 77.0,60.0 77.8,61.5 78.8,70.0 78.6,72.0 78.0,73.3 77.0,74.3 76.0,74.6Z" fill="#26268f" fill-opacity="0.01" stroke="#3434a6" stroke-width="0.5" stroke-opacity="0.9"/>
<ellipse cx="24" cy="48" rx="2.4" ry="2.6" fill="none" stroke="#3434a6" stroke-width="0.55"/>
<path d="M29.4,86.2h.6M40.3,88.2h.6M27.2,89.9h.6M30.2,94.7h.6M24.3,88.2h.6M38.4,101.7h.6M30.1,91.2h.6M26.2,97.1h.6M24.6,90.1h.6M25.0,84.2h.6M27.8,89.2h.6M24.3,88.6h.6M28.0,85.4h.6M23.8,88.0h.6M31.6,97.8h.6M28.7,87.0h.6M27.4,104.1h.6M32.9,81.7h.6M27.3,85.0h.6M25.5,75.9h.6M27.8,78.5h.6M24.2,101.0h.6M33.3,82.3h.6M26.1,80.9h.6M32.0,88.7h.6M24.5,102.9h.6M31.7,89.7h.6M38.2,99.5h.6M23.5,91.7h.6M25.1,77.9h.6M38.5,100.9h.6M27.3,86.9h.6M34.9,89.2h.6M26.1,96.3h.6M25.9,96.0h.6M27.6,95.7h.6M31.2,95.4h.6M26.7,103.1h.6M24.2,87.0h.6M26.1,98.3h.6M25.1,92.4h.6M28.9,88.3h.6M26.5,107.1h.6M31.5,92.8h.6M24.8,88.2h.6M30.3,73.7h.6M33.4,79.9h.6M26.1,67.5h.6M30.3,95.1h.6M29.3,91.7h.6M25.4,90.4h.6M34.7,85.8h.6M30.5,94.9h.6M26.2,91.0h.6M28.9,85.2h.6M41.8,85.7h.6M37.6,97.7h.6M33.6,95.7h.6M26.2,90.7h.6M37.0,92.0h.6M33.8,79.6h.6M37.9,78.4h.6M34.6,76.1h.6M26.1,78.3h.6M36.1,94.7h.6M29.2,88.7h.6M26.2,90.2h.6M23.8,82.1h.6M22.9,96.1h.6M30.7,98.9h.6M26.1,77.1h.6M25.8,85.8h.6M24.1,88.6h.6M26.2,76.6h.6M24.1,97.2h.6M36.1,88.1h.6M24.5,100.0h.6M26.5,79.6h.6M26.8,94.7h.6M36.7,85.2h.6M30.7,86.4h.6M34.3,91.2h.6M29.1,81.2h.6M25.7,86.5h.6M27.5,87.4h.6M25.4,89.3h.6M29.0,78.6h.6M28.3,90.0h.6M27.7,77.1h.6M26.7,78.8h.6M29.6,99.6h.6M32.7,86.3h.6M24.4,84.5h.6M29.6,83.7h.6M24.4,68.9h.6M24.4,98.8h.6M31.1,81.2h.6M26.6,90.5h.6M27.6,82.8h.6M32.9,101.1h.6M33.1,87.4h.6M32.4,81.1h.6M29.0,92.1h.6M23.7,93.6h.6M31.5,97.0h.6M33.0,77.1h.6M32.8,93.7h.6M33.3,82.2h.6M32.9,92.0h.6M23.0,80.9h.6M29.9,84.2h.6M29.7,87.1h.6M29.2,95.6h.6M27.3,96.0h.6M32.5,82.4h.6M32.6,94.0h.6M28.3,98.0h.6M37.3,95.2h.6M26.8,86.9h.6M29.6,86.5h.6M37.1,91.3h.6M27.7,95.4h.6M32.3,98.6h.6M31.3,88.8h.6M28.4,71.9h.6M25.7,103.6h.6M38.2,79.1h.6M29.4,112.2h.6M23.0,92.3h.6M26.2,87.2h.6M26.0,89.0h.6M32.1,82.7h.6M30.6,83.5h.6M30.7,91.7h.6M23.0,90.3h.6M23.3,82.4h.6M34.5,74.6h.6M30.9,94.8h.6M24.1,97.8h.6M32.9,78.8h.6M30.7,92.9h.6M23.3,93.7h.6M32.0,83.4h.6M23.2,75.4h.6M25.3,70.1h.6M25.6,101.2h.6M27.5,82.9h.6M34.4,79.4h.6M30.1,91.9h.6M27.4,107.0h.6M37.8,87.1h.6M26.7,81.1h.6M26.1,85.9h.6M26.6,94.6h.6M33.2,89.2h.6M26.5,90.0h.6M39.8,72.4h.6M28.5,99.1h.6M35.4,105.1h.6M22.9,94.1h.6M26.2,97.0h.6M28.7,96.3h.6M23.2,90.5h.6M24.6,87.1h.6M24.9,80.9h.6M34.2,91.6h.6M34.1,81.2h.6M26.7,95.6h.6M33.9,99.1h.6M36.8,95.1h.6M28.3,83.0h.6M31.7,85.2h.6M22.9,94.0h.6M29.0,96.1h.6M23.4,98.7h.6M29.8,87.8h.6M23.2,80.5h.6M26.2,84.5h.6M24.8,88.4h.6M33.0,93.8h.6M27.6,78.1h.6M34.3,77.1h.6M32.1,96.7h.6M29.1,97.0h.6M26.5,89.2h.6M27.1,93.0h.6M23.3,71.9h.6M30.1,87.3h.6M32.5,106.0h.6M28.1,93.9h.6M29.7,91.2h.6M33.1,80.0h.6M31.0,92.9h.6M37.1,74.6h.6M27.1,106.9h.6M25.2,85.6h.6M38.2,109.5h.6M28.3,83.4h.6M24.1,86.0h.6M28.7,89.5h.6M30.5,89.4h.6M29.1,84.4h.6M26.0,91.8h.6M28.1,88.1h.6M32.2,97.8h.6M25.8,89.0h.6M30.4,96.2h.6M28.6,88.4h.6M23.4,90.9h.6M27.7,81.8h.6M29.6,87.4h.6M31.2,85.2h.6M30.5,101.8h.6M28.7,95.5h.6M23.8,86.3h.6M28.1,92.3h.6M42.8,95.5h.6M28.5,66.9h.6M29.0,92.8h.6M33.3,89.9h.6M32.6,74.6h.6M42.4,86.7h.6M23.8,101.2h.6M31.2,97.0h.6M23.9,91.4h.6M31.8,79.9h.6M26.3,87.1h.6M25.9,83.4h.6M29.0,98.4h.6M27.2,83.7h.6M25.7,105.3h.6M41.1,101.8h.6M26.2,81.9h.6M36.0,90.0h.6M25.2,89.0h.6M35.0,81.5h.6M30.4,78.4h.6M26.3,83.7h.6M29.4,90.3h.6M34.7,94.6h.6M24.0,78.4h.6M26.2,82.9h.6M34.0,96.6h.6M25.9,85.1h.6M26.1,88.7h.6M27.4,76.0h.6M25.0,73.9h.6M27.8,94.5h.6M23.9,83.4h.6M39.2,96.2h.6M30.4,85.5h.6M30.0,87.5h.6M30.2,81.8h.6M27.1,85.9h.6M32.4,82.7h.6M27.9,92.4h.6M25.6,83.5h.6M31.7,94.7h.6M25.7,83.8h.6M38.1,104.1h.6M29.8,87.8h.6M33.5,100.8h.6M24.4,103.7h.6M26.6,97.9h.6M24.5,89.6h.6M24.8,89.2h.6M33.6,81.7h.6M25.7,93.4h.6M24.7,105.6h.6M23.6,96.9h.6M37.2,93.4h.6M27.9,93.6h.6M33.4,98.2h.6M36.3,81.3h.6M33.4,74.8h.6M28.4,80.3h.6M27.3,97.1h.6M26.9,83.6h.6M27.9,83.9h.6M25.5,79.7h.6M35.2,86.4h.6M30.4,90.8h.6M28.8,85.8h.6M26.7,70.9h.6M29.2,99.0h.6M26.5,86.8h.6M34.3,86.0h.6M31.4,92.5h.6M28.7,79.6h.6M35.8,106.3h.6M31.8,101.9h.6M39.4,102.3h.6M26.8,97.8h.6M23.6,89.1h.6M24.1,92.9h.6M26.9,98.2h.6M32.5,92.4h.6M27.3,86.5h.6M27.5,95.2h.6M28.3,91.4h.6M27.3,88.4h.6M23.5,73.6h.6M31.0,93.6h.6M29.0,91.6h.6M34.4,96.6h.6M27.7,80.3h.6M37.0,96.3h.6M27.3,91.8h.6M31.7,103.2h.6M22.9,95.0h.6M29.2,82.8h.6M29.5,87.3h.6M28.1,97.1h.6M28.1,102.2h.6M26.0,82.6h.6M26.9,81.3h.6M25.4,99.1h.6M37.8,94.2h.6M28.7,81.6h.6M28.5,84.3h.6M24.8,101.9h.6M33.5,89.5h.6M28.9,99.6h.6M29.7,91.0h.6M27.4,91.8h.6M30.2,88.4h.6M35.8,84.3h.6M39.3,89.4h.6M29.5,77.6h.6M31.0,74.9h.6M28.5,93.0h.6M27.9,79.8h.6M26.9,87.5h.6M27.9,101.3h.6M37.8,102.1h.6M23.7,82.9h.6M27.7,92.6h.6M38.4,78.8h.6M23.1,83.2h.6M30.5,88.5h.6M25.6,76.5h.6M31.2,89.0h.6M23.5,89.2h.6M32.3,76.8h.6M23.9,98.2h.6M25.5,97.4h.6M35.9,102.0h.6M24.5,82.2h.6M29.8,79.0h.6M25.3,75.2h.6M40.2,110.2h.6M43.4,89.0h.6M55.2,76.9h.6M26.0,106.8h.6M49.3,94.4h.6M59.5,81.2h.6M36.7,118.6h.6M27.5,69.2h.6M33.7,117.2h.6M36.1,110.2h.6M32.5,105.5h.6M33.0,100.3h.6M65.6,83.3h.6M49.5,52.4h.6M51.2,78.9h.6M72.0,77.3h.6M52.8,75.2h.6M37.0,97.1h.6M78.5,85.4h.6M46.3,72.3h.6M30.0,85.3h.6M43.8,95.4h.6M56.9,95.3h.6M49.3,87.8h.6M34.8,97.6h.6M45.0,94.0h.6M34.1,96.8h.6M53.1,146.6h.6M27.3,109.0h.6M35.2,92.2h.6M29.0,73.9h.6M25.0,119.2h.6M24.1,99.0h.6M48.9,94.5h.6M29.1,110.2h.6M55.4,109.5h.6M23.0,77.1h.6M24.3,71.2h.6M30.4,131.6h.6M65.7,92.4h.6M24.3,90.1h.6M30.6,108.9h.6M71.9,79.1h.6M40.6,96.8h.6M56.4,112.2h.6M25.2,150.5h.6M23.1,73.3h.6M23.6,114.9h.6M39.6,100.8h.6M33.2,92.3h.6M73.1,72.3h.6M30.0,85.1h.6M24.5,97.0h.6M57.0,106.8h.6M49.8,80.5h.6M39.9,86.5h.6M27.7,84.8h.6M34.0,53.9h.6M24.2,100.3h.6M33.7,135.9h.6M37.6,96.5h.6M46.6,136.5h.6M39.7,92.6h.6M30.9,107.0h.6M34.8,86.6h.6M58.7,102.2h.6M36.8,91.8h.6M33.8,127.1h.6M28.1,114.2h.6M47.8,89.6h.6M75.5,55.4h.6M71.8,51.9h.6M77.1,61.0h.6M50.2,88.1h.6M95.2,48.2h.6M92.4,88.0h.6M87.3,92.8h.6M60.6,65.0h.6M64.8,62.1h.6M64.3,76.3h.6M88.5,64.0h.6M72.3,87.1h.6M82.9,94.0h.6M68.1,64.9h.6M69.6,57.3h.6M76.2,55.6h.6M79.4,39.0h.6M72.6,45.4h.6M73.3,56.5h.6M94.3,85.8h.6M93.7,68.4h.6M91.8,71.4h.6M78.6,75.5h.6M61.1,43.1h.6M74.2,76.7h.6M74.6,61.1h.6M63.1,72.1h.6M62.8,57.0h.6M74.9,48.1h.6M66.7,40.9h.6M79.2,65.8h.6M68.7,83.0h.6M50.0,83.5h.6M63.7,81.2h.6M69.4,70.2h.6M73.9,35.5h.6M106.8,52.0h.6M77.2,50.2h.6M73.4,89.6h.6M55.1,70.2h.6M81.5,73.5h.6M80.4,50.8h.6M57.6,55.2h.6M71.4,65.1h.6M76.9,92.5h.6M77.1,74.5h.6M78.2,49.8h.6M82.5,47.3h.6M71.7,80.5h.6M62.2,73.5h.6M79.3,59.2h.6M76.0,43.4h.6M87.9,70.0h.6M64.5,91.0h.6M82.1,62.2h.6M65.9,45.4h.6M105.6,78.3h.6M64.5,75.0h.6M69.0,72.4h.6M79.3,88.1h.6M77.8,77.6h.6M80.6,48.8h.6M64.6,66.6h.6M80.4,53.2h.6M103.9,71.9h.6M67.5,67.5h.6M70.1,49.6h.6M75.0,62.8h.6M91.6,47.6h.6M88.2,44.8h.6M60.0,56.1h.6M70.2,69.6h.6M76.6,78.6h.6M62.1,74.9h.6M62.4,51.4h.6M104.7,88.3h.6M71.9,94.9h.6M91.9,83.4h.6M92.4,45.4h.6M74.6,61.0h.6M82.5,39.0h.6M70.4,62.4h.6M70.3,61.3h.6M96.4,59.4h.6M91.7,63.3h.6M65.5,60.2h.6M87.5,51.1h.6M66.2,82.5h.6M67.9,48.2h.6M68.0,55.6h.6M80.0,66.7h.6M88.9,63.3h.6M67.4,98.1h.6M92.9,58.7h.6M85.3,61.3h.6M67.9,91.4h.6M79.4,88.4h.6M55.4,65.7h.6M77.9,63.2h.6M71.2,66.8h.6M61.2,64.7h.6M84.8,43.4h.6M71.8,35.3h.6M69.6,77.0h.6M75.4,58.4h.6M63.1,90.6h.6M65.9,66.7h.6M78.4,67.1h.6M92.6,66.9h.6M87.5,47.7h.6M21.0,64.3h.6M55.3,25.1h.6M53.9,53.6h.6M8.2,48.7h.6M52.5,63.3h.6M54.3,48.2h.6M13.4,40.5h.6M23.5,53.1h.6M21.9,50.1h.6M24.1,45.9h.6M41.3,61.7h.6M10.1,45.3h.6M24.9,53.3h.6M45.4,57.1h.6M16.1,31.7h.6M53.0,39.0h.6M44.2,25.8h.6M39.0,35.5h.6M42.7,28.7h.6M53.9,55.9h.6M40.4,46.3h.6M49.3,44.7h.6M41.2,42.8h.6M8.7,45.7h.6M49.7,53.9h.6M12.6,26.5h.6M17.1,53.2h.6M23.9,36.1h.6M53.4,25.5h.6M50.7,40.7h.6M50.1,38.0h.6M34.9,31.4h.6M22.4,54.1h.6M43.3,32.6h.6M41.3,69.0h.6M39.5,37.6h.6M43.4,51.3h.6M42.3,62.7h.6M56.6,31.9h.6M20.8,31.0h.6M59.8,69.2h.6M47.2,53.1h.6M16.2,38.7h.6M14.8,41.2h.6M13.0,25.9h.6M11.0,44.9h.6M16.4,27.6h.6M47.2,59.4h.6M57.1,61.1h.6M57.3,54.4h.6M35.6,43.6h.6M25.3,25.7h.6M44.9,39.4h.6M46.1,67.4h.6M49.1,47.8h.6M86.1,107.1h.6M68.9,81.2h.6M88.2,82.5h.6M71.7,69.8h.6M83.3,98.9h.6M108.1,34.6h.6M99.0,72.3h.6M90.8,77.1h.6M99.4,65.5h.6M77.4,77.9h.6M108.3,66.7h.6M78.9,74.1h.6M109.8,44.0h.6M88.4,83.0h.6M104.0,60.3h.6M89.3,52.0h.6M77.0,36.6h.6M71.1,63.8h.6M72.1,66.0h.6M71.6,52.2h.6M74.5,88.4h.6M89.6,115.2h.6M63.4,100.2h.6M60.3,49.8h.6M56.9,73.5h.6M56.7,35.7h.6M90.9,86.5h.6M61.1,84.0h.6M79.1,105.6h.6M87.1,75.7h.6M109.5,54.0h.6M80.5,97.3h.6M95.1,33.6h.6M56.7,54.3h.6M108.5,35.7h.6M57.1,110.1h.6M63.6,57.5h.6M102.6,64.6h.6M58.4,66.2h.6M95.4,43.9h.6M70.4,59.1h.6M56.6,89.8h.6M61.0,48.8h.6M80.1,96.0h.6M60.5,114.2h.6M83.3,44.6h.6M65.6,76.8h.6M60.9,44.2h.6M107.6,106.1h.6M89.3,95.1h.6M62.0,54.0h.6M56.9,80.6h.6M56.3,39.2h.6M109.8,37.8h.6M109.2,76.9h.6M82.3,41.1h.6M77.3,60.4h.6M93.6,115.4h.6M73.5,32.2h.6M108.1,72.1h.6M69.1,83.7h.6M71.1,74.7h.6M70.3,101.2h.6M64.0,81.7h.6M76.4,85.0h.6M80.0,113.5h.6M69.0,89.3h.6M45.7,79.1h.6M78.3,65.2h.6M84.2,51.4h.6M84.4,76.1h.6M63.0,76.6h.6M69.8,67.0h.6M59.7,75.9h.6M80.7,92.7h.6M84.3,74.3h.6M69.0,79.3h.6M73.5,93.7h.6M88.0,98.0h.6M73.6,109.8h.6M65.1,61.6h.6M78.2,88.3h.6M73.2,102.1h.6M69.1,83.3h.6M75.6,97.0h.6M81.0,87.4h.6M74.5,41.6h.6M83.2,56.9h.6M71.7,131.0h.6M69.2,56.7h.6M86.7,75.2h.6M70.6,82.2h.6M78.7,99.2h.6M71.0,105.3h.6M64.0,97.4h.6M66.5,97.8h.6M66.1,77.3h.6M85.4,64.9h.6M61.5,95.5h.6M69.7,77.4h.6M70.8,123.4h.6M62.7,80.3h.6M73.6,68.2h.6M71.7,93.9h.6M63.9,105.3h.6M61.8,82.5h.6M75.1,142.4h.6M56.3,90.2h.6M94.8,74.3h.6M81.9,88.9h.6M59.2,92.2h.6M64.0,86.6h.6M58.5,98.2h.6M50.3,82.0h.6M83.6,94.3h.6M68.9,80.8h.6M68.2,134.0h.6M71.5,84.8h.6M65.4,76.5h.6M77.5,74.1h.6M64.8,75.1h.6M68.8,88.1h.6M67.6,81.6h.6M65.3,107.3h.6M72.8,79.4h.6M74.6,84.2h.6M57.9,81.8h.6M86.9,94.1h.6M82.6,72.9h.6M58.6,72.4h.6M84.2,67.0h.6M64.9,104.9h.6M69.7,81.4h.6M75.4,86.6h.6M69.3,89.6h.6M65.6,84.2h.6M77.9,65.9h.6M70.1,64.4h.6M78.7,96.1h.6M80.5,103.6h.6" stroke="#2c2c9c" stroke-width="0.7" stroke-opacity="0.75"/>
</g></g>
<rect x="172.3" y="417.3" width="117.6" height="117.6" fill="none" stroke="#9a9a9a" stroke-width="0.7"/>
<line x1="228.90" y1="417.30" x2="228.90" y2="534.90" stroke="#3a3a3a" stroke-width="1.0"/>
<line x1="172.30" y1="475.30" x2="289.90" y2="475.30" stroke="#3a3a3a" stroke-width="1.0"/>
<text x="174.10" y="426.90" font-size="9.6" fill="#111">0.98</text>
<text x="288.70" y="426.90" font-size="9.6" text-anchor="end" fill="#111">5.38</text>
<text x="174.10" y="531.70" font-size="9.6" fill="#111">77.1</text>
<text x="288.70" y="531.70" font-size="9.6" text-anchor="end" fill="#111">16.5</text>
<text x="166.70000000000002" y="431.8" font-size="8.3" fill="#000" text-anchor="end">10</text>
<text x="166.9" y="428.3" font-size="5.3" fill="#000">5</text>
<text x="166.70000000000002" y="459.5" font-size="8.3" fill="#000" text-anchor="end">10</text>
<text x="166.9" y="456.0" font-size="5.3" fill="#000">4</text>
<text x="166.70000000000002" y="492.5" font-size="8.3" fill="#000" text-anchor="end">10</text>
<text x="166.9" y="489.0" font-size="5.3" fill="#000">3</text>
<text x="169.10000000000002" y="508.3" font-size="8.3" fill="#000" text-anchor="end">0</text>
<path d="M171.1,504.8 v4.5" stroke="#222" stroke-width="1.3"/>
<path d="M197.6,535.4 h4" stroke="#111" stroke-width="1.4"/>
<text x="166.70000000000002" y="530.9" font-size="8.3" fill="#000" text-anchor="end">-10</text>
<text x="166.9" y="527.4" font-size="5.3" fill="#000">3</text>
<text x="171.4" y="545.3" font-size="9" fill="#000">-10</text>
<text x="184.6" y="541.5" font-size="5.8" fill="#000">3</text>
<text x="198.6" y="545.3" font-size="9" fill="#000">0</text>
<text x="214.1" y="545.3" font-size="9" fill="#000">10</text>
<text x="224.3" y="541.5" font-size="5.8" fill="#000">3</text>
<text x="245.5" y="545.3" font-size="9" fill="#000">10</text>
<text x="255.7" y="541.5" font-size="5.8" fill="#000">4</text>
<text x="273.7" y="545.3" font-size="9" fill="#000">10</text>
<text x="283.9" y="541.5" font-size="5.8" fill="#000">5</text>
<g clip-path="url(#cp12)"><g transform="translate(313.2,417.3)">
<path d="M28.5,132.5 27.0,132.4 26.0,132.0 24.5,130.5 22.8,126.5 21.7,122.0 20.8,116.0 20.4,110.5 20.2,97.5 19.8,85.5 20.1,79.5 20.6,75.5 21.6,71.0 22.8,67.5 24.0,65.2 25.5,63.6 27.0,62.9 29.0,62.7 31.0,62.9 34.0,63.6 40.5,66.2 46.5,69.3 50.5,72.2 54.3,76.0 57.1,80.0 58.7,84.0 59.2,86.5 59.3,88.5 58.8,93.0 56.1,102.5 53.7,113.5 52.0,118.5 49.9,122.5 48.0,124.8 45.5,126.5 43.5,127.1 40.0,127.4 38.5,127.8 32.0,131.6 30.0,132.3 28.5,132.5Z" fill="#26268f" fill-opacity="0.02" stroke="#3434a6" stroke-width="0.5" stroke-opacity="0.9"/>
<path d="M28.5,129.0 26.5,128.7 25.5,127.9 24.8,127.0 23.3,123.5 22.3,119.0 21.3,110.0 21.2,97.5 20.8,85.5 21.4,77.5 22.2,73.5 23.2,70.0 24.2,68.0 25.5,66.6 27.0,65.8 29.0,65.6 32.5,66.2 36.5,67.7 44.5,71.6 49.0,74.6 52.5,78.0 55.0,81.5 56.4,85.0 56.8,88.5 56.7,90.5 56.1,93.0 53.5,100.6 50.8,110.0 49.5,113.3 48.0,116.0 46.5,117.8 45.0,119.0 40.5,120.9 39.0,121.8 32.5,127.5 30.5,128.5 28.5,129.0Z" fill="#26268f" fill-opacity="0.02" stroke="#3434a6" stroke-width="0.5" stroke-opacity="0.9"/>
<path d="M29.0,126.6 27.5,126.6 26.5,126.2 25.0,124.8 23.8,122.0 22.8,118.0 22.0,109.5 21.9,97.5 21.4,86.5 21.8,79.0 22.7,74.5 23.4,72.0 24.3,70.0 25.5,68.5 27.0,67.7 28.5,67.5 31.5,67.8 35.0,69.1 43.5,73.2 48.0,76.2 51.0,79.0 53.3,82.0 54.7,85.0 55.2,88.5 54.9,91.0 54.2,93.5 48.8,107.5 46.7,111.5 44.5,114.0 40.5,116.6 39.0,117.9 35.0,122.5 33.0,124.5 31.0,125.9 29.0,126.6Z" fill="#26268f" fill-opacity="0.02" stroke="#3434a6" stroke-width="0.5" stroke-opacity="0.9"/>
<path d="M29.5,124.5 27.5,124.7 26.5,124.3 25.5,123.4 24.3,121.0 23.3,117.5 22.8,113.5 22.5,109.5 22.4,97.5 21.9,87.0 22.3,79.5 22.9,76.0 23.8,73.0 24.5,71.4 25.5,70.1 27.0,69.2 28.5,69.0 31.0,69.2 34.0,70.3 43.0,74.7 47.0,77.3 50.0,80.0 52.0,82.5 53.3,85.0 53.9,88.0 53.7,90.5 52.7,93.5 47.7,104.5 45.8,108.0 44.0,110.1 39.0,114.5 33.5,121.8 31.5,123.5 29.5,124.5Z" fill="#26268f" fill-opacity="0.02" stroke="#3434a6" stroke-width="0.5" stroke-opacity="0.9"/>
<path d="M30.0,122.6 28.5,123.0 27.0,122.8 26.0,122.1 25.0,120.6 24.2,118.5 23.6,116.0 23.1,112.5 22.9,108.0 22.8,97.5 22.3,86.5 22.7,79.5 23.7,75.0 24.8,72.5 25.5,71.5 26.5,70.8 28.5,70.3 31.0,70.6 34.0,71.7 42.0,75.7 46.0,78.1 48.8,80.5 50.9,83.0 52.2,85.5 52.7,88.0 52.5,90.5 51.6,93.0 47.3,101.5 45.5,104.5 43.5,107.0 39.0,111.4 33.3,120.0 31.5,121.7 30.0,122.6Z" fill="#26268f" fill-opacity="0.02" stroke="#3434a6" stroke-width="0.5" stroke-opacity="0.9"/>
<path d="M30.0,121.0 28.5,121.4 27.5,121.4 26.5,120.9 25.4,119.5 24.5,117.4 23.9,114.5 23.3,108.0 23.2,97.0 22.7,86.5 23.1,79.5 23.9,76.0 25.0,73.5 26.5,72.0 28.5,71.4 31.0,71.7 33.5,72.7 41.5,76.7 45.0,78.9 48.0,81.3 50.0,83.7 51.2,86.0 51.6,88.5 51.3,90.5 50.6,92.5 48.8,96.0 45.8,101.0 43.5,103.9 38.5,109.2 33.0,118.4 31.5,120.0 30.0,121.0Z" fill="#26268f" fill-opacity="0.02" stroke="#3434a6" stroke-width="0.5" stroke-opacity="0.9"/>
<path d="M28.5,120.0 27.0,119.7 26.0,118.9 25.0,116.9 24.2,113.5 23.7,109.0 23.6,97.0 23.0,85.5 23.4,80.0 24.6,75.5 25.5,74.0 26.5,73.1 27.5,72.6 29.0,72.5 31.5,72.9 34.5,74.2 43.0,78.8 45.0,80.1 47.5,82.3 49.3,84.5 50.2,86.5 50.5,88.5 50.3,90.0 49.7,92.0 47.8,95.5 45.5,99.1 43.5,101.6 39.9,105.0 38.5,106.7 36.5,110.0 34.0,115.0 32.5,117.3 30.5,119.2 29.5,119.8 28.5,120.0Z" fill="#26268f" fill-opacity="0.02" stroke="#3434a6" stroke-width="0.5" stroke-opacity="0.9"/>
<path d="M29.0,118.5 27.5,118.5 26.2,117.5 25.4,116.0 24.5,112.6 24.1,109.0 24.0,97.0 23.3,85.5 23.8,80.0 25.0,76.0 25.6,75.0 26.5,74.1 27.5,73.6 29.0,73.4 31.5,73.9 35.0,75.5 44.5,81.0 47.0,83.4 48.3,85.0 49.0,86.6 49.4,88.5 49.2,90.0 48.5,91.9 47.0,94.7 44.8,98.0 43.5,99.5 38.0,104.7 32.6,115.5 30.5,117.7 29.0,118.5Z" fill="#26268f" fill-opacity="0.02" stroke="#3434a6" stroke-width="0.5" stroke-opacity="0.9"/>
<path d="M29.0,117.2 27.5,117.1 26.5,116.2 25.3,113.5 24.6,110.5 24.4,105.5 24.4,97.0 23.6,85.5 24.1,80.5 25.1,77.0 26.5,75.1 27.5,74.6 29.0,74.4 31.5,75.0 34.9,76.5 43.5,81.6 46.0,84.1 47.3,86.0 48.0,87.5 48.2,89.0 48.0,90.0 47.4,91.5 44.1,97.0 43.0,98.3 37.0,103.5 35.5,106.5 33.5,111.5 32.0,114.4 30.5,116.2 29.0,117.2Z" fill="#26268f" fill-opacity="0.02" stroke="#3434a6" stroke-width="0.5" stroke-opacity="0.9"/>
<path d="M29.0,115.7 28.0,115.8 27.0,115.0 25.9,113.0 25.0,110.0 24.8,105.5 24.9,97.5 24.1,90.0 23.9,85.5 24.4,81.0 25.3,78.0 26.5,76.0 27.5,75.4 28.5,75.2 33.5,76.8 38.0,79.2 40.5,81.0 42.5,82.1 45.8,85.5 46.8,87.5 47.1,89.0 46.9,90.0 45.8,92.0 42.0,97.5 39.2,99.5 36.0,102.5 32.6,111.0 31.0,113.6 29.0,115.7Z" fill="#26268f" fill-opacity="0.02" stroke="#3434a6" stroke-width="0.5" stroke-opacity="0.9"/>
<path d="M29.5,112.7 28.5,113.0 27.0,112.2 26.0,110.8 25.6,109.5 25.4,103.5 25.7,100.5 24.5,90.0 24.3,85.5 24.4,83.0 25.1,80.0 26.5,77.2 27.0,76.6 28.0,76.1 29.0,76.2 33.0,77.4 35.0,78.8 38.4,80.5 40.0,82.4 42.1,83.0 44.7,85.5 45.5,87.5 45.8,89.0 45.2,91.0 43.6,93.5 41.6,95.0 40.4,97.0 39.0,98.0 37.0,100.0 35.5,101.0 34.5,102.0 34.2,103.0 33.9,105.0 32.4,109.5 31.0,111.6 29.5,112.7Z" fill="#26268f" fill-opacity="0.1" stroke="#3434a6" stroke-width="0.5" stroke-opacity="0.9"/>
<path d="M29.0,111.5 28.0,111.4 27.0,110.8 26.5,110.0 26.0,108.5 26.2,105.5 25.8,103.0 26.7,100.5 25.6,96.5 24.7,89.5 24.7,87.0 24.5,85.0 24.7,83.0 25.5,80.2 26.8,77.5 28.0,76.7 32.5,77.8 34.5,79.5 36.5,80.1 38.0,80.9 39.7,83.0 41.5,83.5 42.0,83.8 44.0,86.0 44.9,89.5 44.2,91.5 43.2,93.0 41.0,94.5 36.9,99.0 34.0,101.1 33.3,102.5 33.2,105.0 31.8,109.5 30.5,111.0 29.0,111.5Z" fill="#26268f" fill-opacity="0.1" stroke="#3434a6" stroke-width="0.5" stroke-opacity="0.9"/>
<path d="M30.0,110.5 29.0,110.8 28.0,110.6 27.4,110.0 26.5,108.2 26.8,105.5 26.3,104.0 26.2,103.0 27.3,101.0 27.4,100.0 25.9,96.5 25.8,94.5 24.9,89.5 25.0,87.0 24.7,85.0 24.9,83.0 27.0,78.0 27.5,77.4 28.5,77.1 32.5,78.4 34.0,80.3 36.0,80.4 37.0,80.8 37.9,81.5 39.5,83.4 41.5,84.2 42.6,86.0 43.0,87.5 44.1,89.5 43.7,91.0 42.8,92.5 41.0,93.7 39.0,95.5 37.5,97.5 32.8,101.0 32.5,102.5 32.7,105.0 32.0,107.5 31.2,109.5 30.0,110.5Z" fill="#26268f" fill-opacity="0.1" stroke="#3434a6" stroke-width="0.5" stroke-opacity="0.9"/>
<path d="M29.5,110.1 28.5,110.0 27.1,108.0 27.3,105.5 26.7,103.5 26.7,103.0 27.7,101.5 27.8,99.5 27.5,98.5 26.5,97.3 26.2,96.5 25.7,91.0 25.2,89.5 25.3,87.0 24.9,85.0 25.0,83.5 26.2,81.5 27.2,78.5 27.5,77.9 28.5,77.5 32.0,78.6 32.5,79.0 33.5,80.6 34.0,80.9 36.0,80.9 37.5,81.7 39.0,83.5 40.9,84.5 41.3,85.0 41.7,86.5 41.6,88.0 42.0,88.7 43.1,89.5 43.0,90.1 42.2,90.5 42.1,92.0 38.2,95.5 37.1,97.0 35.8,97.5 34.3,99.0 31.6,100.5 31.5,101.0 32.2,104.0 32.2,105.0 31.0,108.7 30.4,109.5 29.5,110.1Z" fill="#26268f" fill-opacity="0.1" stroke="#3434a6" stroke-width="0.5" stroke-opacity="0.9"/>
<path d="M30.0,108.2 28.5,107.9 27.9,107.5 27.9,106.0 27.2,103.5 28.3,101.0 28.3,99.0 28.0,98.3 27.0,97.3 26.5,96.5 26.1,92.5 26.3,91.0 25.4,89.5 25.6,87.5 25.0,85.0 25.2,83.5 26.6,81.5 27.5,78.5 28.0,78.0 28.5,77.8 32.0,79.0 33.4,81.0 34.0,81.3 36.0,81.4 37.0,81.8 39.0,83.9 40.6,85.0 41.0,86.5 40.6,90.0 41.0,92.0 40.7,92.5 38.0,95.0 37.0,96.4 35.5,96.9 34.0,98.5 32.0,99.0 30.7,100.0 30.7,101.0 31.7,103.5 31.8,104.5 31.5,105.8 30.5,107.8 30.0,108.2ZM31.2,95.0 30.8,95.0 31.0,95.4 31.2,95.0Z" fill="#26268f" fill-opacity="0.1" stroke="#3434a6" stroke-width="0.5" stroke-opacity="0.9"/>
<path d="M29.5,99.0 28.9,98.0 27.0,96.7 26.7,96.0 26.4,92.5 26.7,91.0 26.6,90.5 25.7,89.5 25.8,87.5 25.2,85.0 25.5,83.5 27.0,81.5 27.9,78.5 28.5,78.2 29.5,78.3 32.0,79.5 33.0,81.0 34.0,81.8 35.0,82.1 36.0,81.9 37.0,82.2 40.1,85.5 40.5,86.5 39.9,90.0 40.2,91.5 40.0,92.0 38.6,94.0 37.5,94.7 36.5,95.9 35.5,96.4 34.0,97.9 33.5,98.1 33.0,98.0 32.1,97.0 31.9,96.5 31.9,95.0 31.5,94.5 30.5,94.3 29.8,95.0 29.8,95.5 30.6,96.5 30.6,97.0 29.5,99.0ZM36.0,93.5 35.5,93.5 36.0,93.5ZM30.0,106.2 29.0,106.3 28.5,105.8 28.0,104.5 28.0,103.5 29.0,101.0 29.5,101.0 30.5,101.9 31.4,104.0 31.3,105.0 31.0,105.5 30.0,106.2Z" fill="#26268f" fill-opacity="0.1" stroke="#3434a6" stroke-width="0.5" stroke-opacity="0.9"/>
<path d="M34.0,97.3 33.5,97.5 32.7,97.0 32.4,96.5 32.3,95.0 32.0,94.5 31.0,93.9 30.2,94.0 29.6,94.5 28.4,96.5 27.5,96.5 27.1,96.0 26.7,92.5 27.0,91.0 26.9,90.5 25.9,89.0 26.0,87.5 25.4,85.5 25.4,84.5 25.7,83.5 27.3,81.5 28.0,79.1 28.5,78.6 29.5,78.7 32.0,80.0 33.0,81.7 33.9,82.5 33.8,84.0 34.0,84.5 35.1,83.0 36.5,82.5 37.9,83.5 38.5,84.5 38.7,85.5 39.8,86.5 39.8,88.5 39.1,90.0 39.1,91.5 38.5,92.8 38.0,93.4 37.5,93.5 36.0,92.7 35.0,93.0 34.9,94.0 35.6,95.0 35.7,95.5 34.0,97.3ZM30.5,105.1 29.5,105.4 29.0,105.1 28.8,104.5 29.5,102.7 30.0,102.5 30.5,103.0 30.9,104.0 30.5,105.1Z" fill="#26268f" fill-opacity="0.1" stroke="#3434a6" stroke-width="0.5" stroke-opacity="0.9"/>
<path d="M34.0,96.5 33.5,96.7 33.2,96.5 32.9,95.0 32.5,94.5 31.0,93.5 30.0,93.6 28.0,95.1 27.5,94.6 27.1,92.5 27.2,90.5 26.3,89.0 26.3,87.5 25.7,85.5 25.6,84.5 26.0,83.6 27.7,81.5 28.5,79.5 29.0,79.2 29.5,79.3 30.5,80.2 31.5,80.3 32.0,80.8 33.2,83.0 33.5,85.1 34.2,85.0 36.0,83.2 36.5,83.1 37.3,83.5 37.9,84.5 37.1,86.0 37.3,86.5 39.0,87.2 39.2,87.5 39.1,88.5 37.5,91.8 37.0,92.1 35.0,92.4 34.4,93.0 34.2,94.0 34.6,95.5 34.0,96.5Z" fill="#26268f" fill-opacity="0.1" stroke="#3434a6" stroke-width="0.5" stroke-opacity="0.9"/>
<path d="M33.5,94.2 33.0,94.3 31.0,93.0 30.0,93.1 28.5,94.0 28.0,93.9 27.8,93.5 27.5,92.2 27.4,90.5 26.7,89.0 25.8,85.0 26.1,84.0 28.0,82.0 29.0,80.5 29.5,80.9 29.8,82.0 31.5,82.3 32.5,82.9 32.9,83.5 33.1,85.0 33.5,85.6 34.5,85.3 36.0,83.8 37.0,83.9 37.2,84.5 36.6,85.5 36.5,86.0 37.0,86.8 38.4,88.0 38.4,88.5 37.1,91.0 34.5,92.3 33.5,94.2ZM32.6,91.0 32.5,90.8 32.3,91.0 32.6,91.0Z" fill="#26268f" fill-opacity="0.1" stroke="#3434a6" stroke-width="0.5" stroke-opacity="0.9"/>
<path d="M33.0,93.6 32.5,93.5 32.0,93.1 31.7,92.5 33.0,91.5 33.2,91.0 33.0,90.0 32.5,90.0 32.0,90.4 31.0,92.3 29.0,93.0 28.5,93.0 28.0,92.5 27.7,90.5 27.1,89.0 26.1,85.0 26.5,83.9 28.5,82.4 32.0,83.1 32.7,84.0 32.7,85.5 33.0,86.0 34.0,86.0 35.5,85.3 37.3,88.0 37.3,88.5 36.3,90.5 34.1,92.0 33.0,93.6ZM32.0,87.0 32.2,86.5 32.0,86.3 31.1,86.5 31.2,87.0 31.5,87.2 32.0,87.0Z" fill="#26268f" fill-opacity="0.1" stroke="#3434a6" stroke-width="0.5" stroke-opacity="0.9"/>
<path d="M29.0,92.5 28.5,92.4 28.0,91.5 26.4,85.0 26.6,84.5 27.5,83.5 29.0,82.8 32.0,83.5 32.4,84.5 32.0,85.6 30.5,85.8 29.0,85.6 28.5,85.8 28.4,86.5 28.8,87.0 30.0,87.0 31.5,87.7 32.0,87.6 33.0,86.6 35.0,86.2 35.5,86.4 36.3,87.5 36.3,88.0 35.6,89.0 35.6,90.0 35.0,90.8 34.0,91.1 33.3,89.5 33.0,89.3 32.5,89.5 30.6,92.0 29.0,92.5Z" fill="#26268f" fill-opacity="0.1" stroke="#3434a6" stroke-width="0.5" stroke-opacity="0.9"/>
<path d="M27.5,85.6 27.0,85.2 27.0,84.9 27.7,84.0 28.5,83.4 29.5,83.3 31.5,83.8 32.0,84.2 32.0,84.9 31.5,85.2 28.5,85.1 28.0,85.1 27.5,85.6ZM30.0,92.0 29.0,92.2 28.3,91.5 27.5,88.5 27.5,86.2 28.9,87.5 30.0,87.4 32.0,88.2 33.5,86.8 34.5,86.8 35.1,87.0 35.4,87.5 34.7,90.0 34.5,90.2 33.6,89.0 32.5,88.8 30.7,91.5 30.0,92.0Z" fill="#26268f" fill-opacity="0.1" stroke="#3434a6" stroke-width="0.5" stroke-opacity="0.9"/>
<path d="M76.5,94.5 73.5,94.4 70.5,93.2 68.1,91.0 66.4,88.0 65.6,84.5 64.6,73.5 64.7,61.0 65.5,53.0 65.5,47.5 65.9,45.5 66.7,44.0 68.5,42.0 71.5,40.2 75.0,39.2 78.5,39.0 82.0,39.4 85.5,40.7 87.0,41.6 88.5,43.0 90.1,45.5 90.6,48.0 90.5,53.0 91.3,60.0 91.5,71.5 91.1,75.5 90.1,79.5 88.7,83.0 86.1,87.5 83.8,90.5 81.5,92.6 79.0,93.9 76.5,94.5Z" fill="#26268f" fill-opacity="0.01" stroke="#3434a6" stroke-width="0.5" stroke-opacity="0.9"/>
<path d="M77.5,92.0 75.0,92.3 72.5,91.6 70.5,90.3 68.9,88.0 68.1,86.0 67.8,84.0 66.7,74.0 66.5,69.5 66.8,60.0 67.7,53.5 67.6,48.0 68.1,46.0 69.2,44.0 71.5,42.2 74.5,41.0 78.0,40.5 81.5,41.0 84.5,42.2 86.8,44.0 87.9,46.0 88.4,48.0 88.3,53.5 89.3,60.5 89.4,70.5 89.2,74.0 88.7,77.0 87.7,80.0 86.2,83.0 84.1,86.5 82.0,89.2 80.0,90.9 77.5,92.0Z" fill="#26268f" fill-opacity="0.01" stroke="#3434a6" stroke-width="0.5" stroke-opacity="0.9"/>
<path d="M76.0,90.5 74.0,90.3 72.0,89.3 70.5,87.5 69.7,85.5 68.0,72.5 68.1,61.0 69.3,53.0 69.2,48.0 69.9,45.5 71.5,43.7 73.5,42.5 76.0,41.8 78.5,41.6 81.0,42.0 83.5,43.0 85.4,44.5 86.5,46.5 86.9,48.5 86.8,53.5 87.9,60.5 88.0,71.5 87.7,75.0 86.9,78.0 85.8,80.5 83.8,84.0 81.8,87.0 80.0,88.8 78.0,90.0 76.0,90.5Z" fill="#26268f" fill-opacity="0.01" stroke="#3434a6" stroke-width="0.5" stroke-opacity="0.9"/>
<path d="M77.5,88.6 75.5,89.0 74.0,88.6 72.5,87.7 71.4,86.0 70.6,83.5 69.3,75.0 69.0,69.5 69.3,60.5 70.6,53.0 70.4,48.5 70.6,47.0 71.5,45.3 73.0,43.9 75.5,42.8 78.0,42.5 80.5,42.8 83.0,43.9 84.5,45.3 85.4,47.0 85.6,48.5 85.4,53.0 86.7,60.5 87.0,70.5 86.4,75.5 84.7,80.0 83.0,83.0 80.8,86.0 79.0,87.7 77.5,88.6Z" fill="#26268f" fill-opacity="0.01" stroke="#3434a6" stroke-width="0.5" stroke-opacity="0.9"/>
<path d="M77.0,87.1 75.5,87.3 74.0,86.8 73.0,85.8 72.3,84.5 70.3,75.0 70.0,69.0 70.3,60.5 71.7,53.0 71.6,48.5 71.8,47.0 72.7,45.5 74.0,44.4 76.0,43.6 78.0,43.4 80.0,43.6 82.0,44.4 83.3,45.5 84.2,47.0 84.4,48.5 84.3,53.0 85.7,60.5 86.0,70.5 85.9,73.0 85.4,75.5 83.8,79.5 82.0,82.3 80.0,84.9 78.5,86.3 77.0,87.1Z" fill="#26268f" fill-opacity="0.01" stroke="#3434a6" stroke-width="0.5" stroke-opacity="0.9"/>
<path d="M77.5,85.1 76.0,85.5 75.0,85.2 74.1,84.5 73.5,83.5 71.3,75.5 70.9,72.5 70.8,69.5 71.2,60.0 72.9,53.0 72.7,49.0 72.8,47.5 73.5,46.2 74.5,45.2 76.0,44.5 78.0,44.2 80.0,44.5 81.5,45.2 82.5,46.2 83.2,47.5 83.3,49.0 83.1,52.5 84.8,60.0 85.2,70.0 84.7,74.5 83.4,78.0 80.5,82.4 79.0,84.0 77.5,85.1Z" fill="#26268f" fill-opacity="0.01" stroke="#3434a6" stroke-width="0.5" stroke-opacity="0.9"/>
<path d="M77.0,83.1 76.0,83.1 75.0,82.4 73.5,79.5 72.0,74.0 71.7,69.0 72.2,59.5 74.2,52.5 73.9,49.0 74.0,47.7 74.6,46.5 75.5,45.8 76.5,45.3 78.0,45.1 79.5,45.3 80.8,46.0 81.7,47.0 82.1,48.0 81.8,52.5 82.1,54.0 83.5,57.9 83.9,60.0 84.3,70.5 83.8,74.5 82.5,77.8 81.0,80.0 79.5,81.6 78.0,82.7 77.0,83.1Z" fill="#26268f" fill-opacity="0.01" stroke="#3434a6" stroke-width="0.5" stroke-opacity="0.9"/>
<path d="M78.0,80.7 77.0,80.9 76.0,80.6 74.5,78.7 72.9,74.5 72.5,70.0 73.1,59.5 73.8,57.0 75.3,54.0 75.8,52.5 75.3,49.0 75.4,48.0 76.0,47.0 76.5,46.6 78.0,46.2 79.5,46.6 80.0,47.0 80.6,48.0 80.7,49.0 80.2,52.5 80.7,54.0 82.2,57.0 82.9,59.5 83.5,70.0 83.2,73.5 82.1,76.5 80.0,79.3 78.0,80.7Z" fill="#26268f" fill-opacity="0.01" stroke="#3434a6" stroke-width="0.5" stroke-opacity="0.9"/>
<path d="M78.5,78.7 77.5,78.9 76.5,78.7 75.0,77.1 73.7,74.0 73.3,70.5 73.7,62.0 74.1,59.0 75.0,57.0 76.0,55.6 77.0,54.8 78.0,54.5 79.0,54.8 80.0,55.6 81.0,57.0 81.9,59.0 82.3,62.0 82.7,69.5 82.5,72.5 81.8,75.0 80.5,77.1 78.5,78.7Z" fill="#26268f" fill-opacity="0.01" stroke="#3434a6" stroke-width="0.5" stroke-opacity="0.9"/>
<path d="M78.0,77.1 76.5,76.7 75.2,75.0 74.5,73.0 74.2,70.0 74.6,62.5 75.0,59.9 75.5,58.6 76.2,57.5 77.0,56.9 78.0,56.6 79.0,56.9 79.8,57.5 80.5,58.6 81.0,59.9 81.4,62.5 81.8,70.0 81.6,72.5 80.9,74.5 79.5,76.4 78.0,77.1Z" fill="#26268f" fill-opacity="0.01" stroke="#3434a6" stroke-width="0.5" stroke-opacity="0.9"/>
<path d="M78.5,75.1 77.1,75.0 76.1,74.0 75.5,72.5 75.3,70.5 76.0,61.5 76.8,59.5 77.5,58.9 78.0,58.8 79.0,59.3 79.9,61.0 80.7,69.5 80.6,71.5 80.2,73.0 79.5,74.3 78.5,75.1Z" fill="#26268f" fill-opacity="0.01" stroke="#3434a6" stroke-width="0.5" stroke-opacity="0.9"/>
<ellipse cx="24" cy="53" rx="2.4" ry="3.5" fill="none" stroke="#3434a6" stroke-width="0.55"/>
<path d="M26.6,79.0h.6M31.7,86.0h.6M33.1,96.0h.6M25.7,79.5h.6M25.2,80.2h.6M30.2,104.0h.6M24.6,90.1h.6M29.4,84.9h.6M33.5,85.5h.6M27.4,86.7h.6M23.5,98.6h.6M31.3,91.7h.6M31.5,83.9h.6M37.5,83.8h.6M34.7,86.3h.6M30.0,93.1h.6M36.8,90.1h.6M37.7,87.8h.6M40.1,74.6h.6M33.4,87.8h.6M28.6,75.3h.6M34.1,84.0h.6M26.5,86.3h.6M30.3,84.9h.6M39.3,82.2h.6M32.2,99.3h.6M26.7,93.3h.6M29.6,85.9h.6M37.2,77.6h.6M24.4,71.5h.6M27.2,93.3h.6M26.4,92.0h.6M23.5,94.6h.6M27.2,81.7h.6M37.4,85.4h.6M31.2,86.5h.6M32.0,86.5h.6M30.6,88.6h.6M26.5,99.9h.6M23.6,86.5h.6M29.1,76.9h.6M31.8,86.6h.6M29.3,90.4h.6M34.8,89.1h.6M33.5,98.6h.6M25.3,89.3h.6M29.1,77.4h.6M26.8,91.3h.6M25.6,102.5h.6M26.4,101.9h.6M23.4,89.9h.6M34.4,75.1h.6M34.5,96.3h.6M31.0,93.7h.6M36.2,81.1h.6M26.4,71.7h.6M26.7,72.9h.6M29.9,97.1h.6M29.6,86.8h.6M25.5,89.8h.6M40.3,75.1h.6M24.5,74.4h.6M34.9,83.5h.6M34.2,90.7h.6M32.4,84.9h.6M33.0,95.7h.6M31.6,72.7h.6M29.3,73.5h.6M33.3,89.1h.6M32.2,92.5h.6M36.0,84.9h.6M26.6,71.3h.6M26.2,80.4h.6M33.7,90.5h.6M36.1,93.8h.6M34.5,89.3h.6M28.4,82.1h.6M27.5,77.5h.6M29.8,84.4h.6M23.3,81.3h.6M25.8,95.3h.6M23.9,74.9h.6M29.7,92.9h.6M37.1,77.0h.6M26.0,81.6h.6M36.2,90.5h.6M27.6,90.7h.6M25.4,83.4h.6M27.3,81.0h.6M26.0,87.7h.6M28.9,96.7h.6M32.5,84.4h.6M24.5,81.9h.6M28.1,79.9h.6M26.6,84.1h.6M23.3,78.0h.6M26.6,86.9h.6M24.0,85.8h.6M27.6,87.7h.6M30.3,83.2h.6M30.2,86.1h.6M27.8,78.4h.6M33.1,93.6h.6M24.2,77.7h.6M28.5,78.8h.6M28.1,91.1h.6M31.1,96.3h.6M29.9,76.6h.6M38.2,81.9h.6M26.6,90.1h.6M33.5,77.0h.6M25.2,80.4h.6M30.3,89.8h.6M24.4,89.1h.6M29.2,84.7h.6M25.6,83.1h.6M26.6,88.9h.6M27.7,88.9h.6M24.5,90.6h.6M28.6,93.0h.6M26.9,73.2h.6M35.2,81.4h.6M27.6,94.4h.6M24.1,87.1h.6M28.9,80.0h.6M28.6,92.8h.6M33.2,82.1h.6M43.8,87.4h.6M25.7,79.1h.6M27.1,74.6h.6M24.1,84.6h.6M25.5,91.1h.6M34.2,91.8h.6M30.4,89.0h.6M24.1,77.8h.6M25.1,78.5h.6M29.6,90.3h.6M34.5,83.9h.6M23.9,82.5h.6M38.6,78.7h.6M24.7,89.6h.6M28.7,90.6h.6M34.8,79.4h.6M26.7,86.3h.6M23.6,88.7h.6M25.5,67.3h.6M31.7,64.9h.6M24.9,79.3h.6M23.8,84.6h.6M32.7,77.9h.6M23.8,90.4h.6M30.1,90.2h.6M29.2,82.8h.6M24.5,81.0h.6M32.4,96.3h.6M38.5,76.6h.6M25.9,84.7h.6M26.3,75.9h.6M39.7,96.4h.6M26.3,81.2h.6M27.2,75.3h.6M25.3,90.7h.6M36.7,91.6h.6M34.7,76.5h.6M28.3,84.1h.6M36.8,77.2h.6M36.5,92.1h.6M27.4,88.0h.6M29.8,95.0h.6M27.8,82.9h.6M27.1,89.3h.6M23.8,71.9h.6M25.6,82.6h.6M26.2,87.9h.6M32.7,91.0h.6M28.9,89.3h.6M31.0,89.1h.6M39.9,82.9h.6M24.7,77.7h.6M35.1,99.8h.6M29.4,79.6h.6M28.7,84.3h.6M29.3,94.6h.6M24.1,84.6h.6M26.6,71.2h.6M41.8,68.3h.6M24.6,85.3h.6M28.7,85.3h.6M27.9,83.6h.6M29.8,91.1h.6M25.9,81.3h.6M25.0,87.2h.6M25.2,81.8h.6M32.0,92.9h.6M28.9,88.7h.6M29.1,89.5h.6M32.3,96.9h.6M36.8,96.0h.6M29.1,86.9h.6M31.3,84.2h.6M31.2,86.2h.6M24.4,84.3h.6M29.6,78.7h.6M31.7,93.9h.6M33.8,94.5h.6M35.1,90.7h.6M35.2,85.6h.6M30.0,96.4h.6M38.9,82.3h.6M34.4,99.7h.6M32.9,87.1h.6M23.9,77.5h.6M36.1,93.0h.6M29.5,76.3h.6M24.5,80.2h.6M25.8,62.1h.6M28.9,97.7h.6M24.4,85.4h.6M29.2,77.2h.6M30.2,78.7h.6M25.0,87.2h.6M27.3,85.9h.6M24.8,75.6h.6M27.1,76.7h.6M24.5,84.0h.6M32.2,91.6h.6M30.5,82.9h.6M25.7,84.1h.6M24.5,81.0h.6M32.4,74.4h.6M27.7,95.3h.6M23.1,77.2h.6M26.3,82.4h.6M29.2,96.1h.6M26.9,89.7h.6M24.2,81.2h.6M29.4,79.8h.6M34.7,81.9h.6M26.7,76.8h.6M25.0,77.1h.6M24.7,70.8h.6M27.6,99.2h.6M26.9,92.3h.6M36.8,74.8h.6M23.0,77.3h.6M35.9,95.0h.6M24.9,94.1h.6M27.6,78.7h.6M27.1,80.4h.6M41.1,86.3h.6M24.7,85.9h.6M36.4,77.3h.6M31.2,81.4h.6M27.1,94.1h.6M26.5,90.6h.6M27.2,110.4h.6M23.8,94.1h.6M32.3,72.4h.6M33.6,94.8h.6M23.4,87.9h.6M24.1,95.5h.6M25.9,82.3h.6M37.3,77.9h.6M35.3,82.1h.6M34.3,84.4h.6M25.4,72.6h.6M34.6,93.7h.6M29.5,91.4h.6M28.5,85.9h.6M24.1,87.0h.6M23.1,79.6h.6M23.1,80.9h.6M35.9,84.6h.6M27.3,72.3h.6M24.3,93.1h.6M30.8,85.4h.6M26.4,85.5h.6M29.9,82.3h.6M34.4,83.7h.6M36.0,74.2h.6M35.3,86.6h.6M32.9,82.1h.6M28.4,89.8h.6M33.8,89.2h.6M30.2,80.1h.6M37.9,86.7h.6M26.1,82.3h.6M27.0,86.8h.6M23.6,93.2h.6M35.3,88.0h.6M36.5,94.4h.6M23.3,87.3h.6M32.4,90.0h.6M30.0,81.8h.6M28.8,83.2h.6M23.7,80.7h.6M25.0,73.5h.6M30.3,94.7h.6M27.9,75.5h.6M35.4,82.3h.6M28.6,96.9h.6M25.2,79.7h.6M25.8,78.0h.6M24.2,87.0h.6M23.1,92.7h.6M29.6,81.8h.6M25.7,82.3h.6M37.6,78.3h.6M34.7,93.3h.6M25.4,98.3h.6M28.2,85.1h.6M32.5,81.6h.6M26.3,94.4h.6M26.8,76.4h.6M30.9,84.3h.6M24.0,89.5h.6M25.9,83.4h.6M27.8,75.0h.6M37.9,90.5h.6M28.3,86.8h.6M24.2,83.2h.6M36.7,93.1h.6M28.6,83.0h.6M32.3,79.3h.6M26.3,89.5h.6M32.0,95.2h.6M28.9,83.3h.6M31.9,84.1h.6M24.6,81.1h.6M33.1,97.2h.6M35.4,71.8h.6M34.1,75.7h.6M25.4,89.8h.6M22.9,98.9h.6M34.0,77.5h.6M28.3,86.1h.6M29.4,79.1h.6M36.2,81.8h.6M32.4,71.1h.6M29.8,86.1h.6M35.7,63.5h.6M30.8,91.7h.6M25.9,95.8h.6M40.2,92.2h.6M32.4,96.1h.6M30.1,95.1h.6M31.1,79.3h.6M31.1,79.4h.6M27.6,97.1h.6M31.7,91.8h.6M27.2,60.6h.6M38.2,94.5h.6M33.3,100.7h.6M24.7,107.1h.6M29.1,141.7h.6M37.3,96.8h.6M58.4,98.7h.6M81.2,68.6h.6M33.7,84.7h.6M28.6,91.6h.6M35.9,93.8h.6M26.8,104.9h.6M23.7,90.3h.6M42.5,82.8h.6M28.8,83.8h.6M48.3,100.9h.6M46.7,73.5h.6M26.9,74.2h.6M41.7,87.6h.6M48.7,90.1h.6M39.0,108.3h.6M35.7,92.3h.6M43.7,99.6h.6M25.1,71.5h.6M34.8,91.5h.6M42.1,94.5h.6M27.0,77.3h.6M37.2,92.5h.6M39.9,131.4h.6M44.7,108.6h.6M34.3,92.6h.6M43.6,92.2h.6M43.1,75.0h.6M65.9,85.2h.6M53.8,94.4h.6M43.5,85.7h.6M29.7,126.9h.6M71.2,78.9h.6M26.3,76.2h.6M23.6,73.3h.6M34.7,66.5h.6M37.6,105.6h.6M32.4,112.9h.6M33.4,70.1h.6M36.7,140.4h.6M28.5,117.1h.6M25.0,81.2h.6M32.9,54.5h.6M24.4,135.5h.6M54.3,119.2h.6M31.7,120.2h.6M45.5,68.6h.6M29.7,90.0h.6M42.7,60.7h.6M49.0,63.8h.6M35.8,123.5h.6M29.7,74.6h.6M37.8,146.3h.6M43.9,68.7h.6M30.5,106.2h.6M37.9,85.1h.6M38.3,75.8h.6M39.8,80.0h.6M39.1,67.3h.6M40.1,86.1h.6M68.7,79.9h.6M26.4,115.8h.6M27.9,84.7h.6M27.3,112.7h.6M39.8,96.1h.6M83.3,42.4h.6M67.6,58.7h.6M83.8,71.2h.6M85.9,52.3h.6M85.2,46.0h.6M65.1,94.9h.6M73.5,81.3h.6M82.7,67.6h.6M95.4,80.6h.6M77.9,66.7h.6M68.8,56.0h.6M83.5,44.2h.6M71.4,90.0h.6M74.7,64.2h.6M71.9,43.7h.6M86.8,63.4h.6M83.8,62.8h.6M78.1,36.5h.6M65.6,58.2h.6M65.8,82.9h.6M69.7,46.2h.6M73.2,70.8h.6M61.8,90.8h.6M84.9,64.5h.6M85.7,43.3h.6M72.8,56.4h.6M78.7,68.9h.6M74.9,59.2h.6M80.0,59.5h.6M82.2,54.8h.6M79.6,52.6h.6M83.3,51.7h.6M72.1,86.7h.6M70.8,72.0h.6M83.4,68.0h.6M86.5,43.3h.6M87.6,43.3h.6M65.2,72.8h.6M86.2,98.7h.6M69.9,71.6h.6M73.3,33.5h.6M84.8,54.4h.6M90.9,48.7h.6M73.0,63.3h.6M76.2,62.3h.6M73.4,107.3h.6M79.9,47.2h.6M78.7,54.2h.6M82.0,67.8h.6M71.7,50.5h.6M66.8,43.7h.6M80.5,52.6h.6M93.3,49.4h.6M73.8,71.6h.6M91.8,41.9h.6M76.8,107.1h.6M82.9,78.9h.6M79.2,45.5h.6M104.3,63.5h.6M75.4,54.9h.6M64.5,30.4h.6M73.1,90.0h.6M73.9,78.2h.6M85.1,64.6h.6M61.9,91.0h.6M86.1,82.1h.6M78.1,58.0h.6M72.9,77.3h.6M86.7,64.8h.6M85.7,53.6h.6M83.6,56.6h.6M81.8,101.2h.6M80.1,65.8h.6M74.0,63.9h.6M73.3,84.3h.6M80.8,83.4h.6M72.8,59.9h.6M71.0,77.0h.6M70.6,80.8h.6M58.6,51.7h.6M76.4,49.0h.6M72.2,53.1h.6M77.3,45.5h.6M85.0,61.4h.6M62.6,43.6h.6M79.2,73.2h.6M79.6,87.4h.6M74.7,45.7h.6M70.0,64.6h.6M87.9,61.4h.6M53.3,54.6h.6M59.2,66.9h.6M87.2,73.7h.6M83.3,83.0h.6M80.9,56.2h.6M81.5,63.3h.6M55.2,55.3h.6M83.2,59.2h.6M78.1,74.5h.6M80.6,83.6h.6M81.2,57.4h.6M74.6,54.5h.6M95.3,67.4h.6M88.0,38.5h.6M81.1,81.4h.6M70.2,49.5h.6M78.6,68.0h.6M79.9,75.9h.6M86.0,57.0h.6M82.2,52.9h.6M23.9,61.1h.6M28.7,46.1h.6M42.5,26.5h.6M24.1,69.8h.6M43.6,30.9h.6M57.4,66.9h.6M42.1,25.7h.6M29.6,42.4h.6M17.3,52.2h.6M23.0,55.2h.6M20.8,66.0h.6M22.3,25.7h.6M52.1,35.0h.6M10.3,67.7h.6M24.8,56.6h.6M13.7,61.4h.6M51.8,37.5h.6M20.6,31.1h.6M38.5,43.6h.6M54.3,41.6h.6M34.4,42.4h.6M21.9,27.7h.6M38.9,38.1h.6M55.3,54.4h.6M40.9,64.0h.6M17.8,65.1h.6M50.4,33.3h.6M19.4,27.0h.6M31.2,30.3h.6M50.3,37.5h.6M19.8,66.2h.6M24.2,40.1h.6M37.0,49.2h.6M23.6,52.8h.6M19.2,55.2h.6M24.2,35.2h.6M25.8,36.8h.6M49.5,59.2h.6M13.8,65.4h.6M50.7,29.3h.6M33.7,48.6h.6M34.3,25.9h.6M55.8,44.4h.6M46.0,49.7h.6M56.1,38.4h.6M44.6,39.3h.6M56.3,38.7h.6M10.2,46.9h.6M44.6,43.4h.6M46.9,58.5h.6M19.7,43.2h.6M59.4,48.3h.6M53.6,42.9h.6M19.6,64.6h.6M31.6,25.6h.6M93.9,76.6h.6M100.5,113.7h.6M93.3,41.3h.6M61.2,104.4h.6M95.9,101.2h.6M85.4,81.4h.6M59.9,67.0h.6M86.5,54.8h.6M60.3,106.9h.6M64.2,74.7h.6M92.3,72.8h.6M104.1,50.4h.6M104.4,105.1h.6M85.4,66.3h.6M102.5,72.6h.6M107.9,43.0h.6M61.3,45.0h.6M101.4,67.7h.6M81.3,88.2h.6M67.0,68.3h.6M88.7,32.3h.6M79.5,81.1h.6M78.6,47.2h.6M59.4,112.5h.6M99.0,78.2h.6M95.3,32.0h.6M110.0,59.4h.6M80.0,35.7h.6M73.3,40.2h.6M74.2,66.4h.6M88.6,41.3h.6M102.9,112.2h.6M63.1,43.0h.6M98.4,59.0h.6M70.7,53.1h.6M66.1,108.8h.6M92.0,48.8h.6M109.9,58.8h.6M97.1,93.8h.6M79.6,88.5h.6M71.2,93.5h.6M67.0,41.2h.6M76.5,91.3h.6M94.5,54.3h.6M57.8,78.0h.6M96.5,33.3h.6M63.6,69.8h.6M66.5,63.5h.6M65.7,91.2h.6M98.0,113.1h.6M57.6,41.9h.6M103.4,90.3h.6M93.2,31.5h.6M109.8,57.6h.6M58.9,39.5h.6M63.8,86.4h.6M78.3,56.4h.6M65.0,54.0h.6M99.7,62.0h.6M56.4,116.8h.6M84.2,67.0h.6M74.2,66.5h.6M68.6,92.3h.6M60.8,94.5h.6M70.8,80.8h.6M76.8,70.5h.6M57.0,85.6h.6M65.6,81.5h.6M62.3,68.4h.6M62.9,62.3h.6M64.8,71.1h.6M72.2,141.0h.6M66.5,56.8h.6M77.1,63.1h.6M64.1,78.8h.6M72.3,86.1h.6M74.1,82.8h.6M81.7,99.7h.6M67.1,81.1h.6M59.9,96.5h.6M70.1,118.5h.6M65.9,111.6h.6M63.8,55.1h.6M64.3,90.8h.6M80.9,69.3h.6M80.4,75.5h.6M67.3,79.4h.6M86.4,87.9h.6M74.6,58.1h.6M73.3,89.6h.6M86.2,69.4h.6M65.6,68.5h.6M66.1,96.5h.6M64.8,107.2h.6M72.1,68.6h.6M66.1,60.5h.6M59.0,104.9h.6M79.6,67.3h.6M67.8,112.8h.6M65.4,88.5h.6M76.2,81.0h.6M70.1,78.6h.6M72.8,57.0h.6M72.2,87.7h.6M60.1,92.4h.6M63.5,38.2h.6M54.6,86.1h.6M76.7,76.9h.6M58.9,81.5h.6M79.8,83.5h.6M58.7,92.6h.6M69.9,81.3h.6M72.2,94.2h.6M70.7,67.3h.6M70.7,86.7h.6M82.0,62.7h.6M70.4,68.8h.6M74.0,74.7h.6M44.5,101.1h.6M65.8,65.0h.6M58.3,65.4h.6M60.2,81.7h.6M72.9,82.9h.6M74.8,69.6h.6M76.9,82.4h.6M75.5,95.1h.6M68.4,106.1h.6M78.7,77.0h.6M87.1,113.6h.6M58.1,44.7h.6M66.2,92.5h.6M79.9,96.0h.6M71.5,101.4h.6M77.9,76.6h.6M73.3,103.1h.6M66.1,73.4h.6M64.4,110.1h.6M77.6,99.3h.6M68.5,84.0h.6M82.4,79.6h.6" stroke="#2c2c9c" stroke-width="0.7" stroke-opacity="0.75"/>
</g></g>
<rect x="313.2" y="417.3" width="117.6" height="117.6" fill="none" stroke="#9a9a9a" stroke-width="0.7"/>
<line x1="369.80" y1="417.30" x2="369.80" y2="534.90" stroke="#6a6a6a" stroke-width="1.3"/>
<line x1="313.20" y1="475.30" x2="430.80" y2="475.30" stroke="#3a3a3a" stroke-width="1.0"/>
<text x="315.00" y="426.90" font-size="9.6" fill="#111">0.97</text>
<text x="429.60" y="426.90" font-size="9.6" text-anchor="end" fill="#111">3.71</text>
<text x="315.00" y="531.70" font-size="9.6" fill="#111">84.0</text>
<text x="429.60" y="531.70" font-size="9.6" text-anchor="end" fill="#111">11.3</text>
<text x="307.59999999999997" y="431.8" font-size="8.3" fill="#000" text-anchor="end">10</text>
<text x="307.8" y="428.3" font-size="5.3" fill="#000">5</text>
<text x="307.59999999999997" y="459.5" font-size="8.3" fill="#000" text-anchor="end">10</text>
<text x="307.8" y="456.0" font-size="5.3" fill="#000">4</text>
<text x="307.59999999999997" y="492.5" font-size="8.3" fill="#000" text-anchor="end">10</text>
<text x="307.8" y="489.0" font-size="5.3" fill="#000">3</text>
<text x="310.0" y="508.3" font-size="8.3" fill="#000" text-anchor="end">0</text>
<path d="M312.0,504.8 v4.5" stroke="#222" stroke-width="1.3"/>
<path d="M338.5,535.4 h4" stroke="#111" stroke-width="1.4"/>
<text x="307.59999999999997" y="530.9" font-size="8.3" fill="#000" text-anchor="end">-10</text>
<text x="307.8" y="527.4" font-size="5.3" fill="#000">3</text>
<text x="312.3" y="545.3" font-size="9" fill="#000">-10</text>
<text x="325.5" y="541.5" font-size="5.8" fill="#000">3</text>
<text x="339.5" y="545.3" font-size="9" fill="#000">0</text>
<text x="355.0" y="545.3" font-size="9" fill="#000">10</text>
<text x="365.2" y="541.5" font-size="5.8" fill="#000">3</text>
<text x="386.4" y="545.3" font-size="9" fill="#000">10</text>
<text x="396.6" y="541.5" font-size="5.8" fill="#000">4</text>
<text x="414.6" y="545.3" font-size="9" fill="#000">10</text>
<text x="424.8" y="541.5" font-size="5.8" fill="#000">5</text>
<text x="437" y="335" font-size="12" font-weight="bold" fill="#111">697<tspan font-size="7.5" font-style="italic" dy="-4.5">WT</tspan></text>
<text x="436.6" y="479" font-size="12" font-weight="bold" fill="#111">697<tspan font-size="7.5" font-style="italic" dy="-4.5">KI</tspan></text>
<path d="M5,344.3 V557.6 H345.2" fill="none" stroke="#222" stroke-width="1"/>
<text transform="translate(9.1,342.3) rotate(-90)" font-size="10.6" fill="#000" textLength="74.3" lengthAdjust="spacingAndGlyphs">Viability (7AAD)</text>
<text x="350.00" y="561.30" font-size="10.6" fill="#000" textLength="80.6" lengthAdjust="spacingAndGlyphs">Annexin V (APC)</text>
<text x="483.60" y="248.75" font-size="15" font-weight="bold" fill="#000">d</text>
<path d="M531.7,279.1 V418.2 H637" fill="none" stroke="#111" stroke-width="1.1"/>
<line x1="526.00" y1="418.20" x2="531.70" y2="418.20" stroke="#111" stroke-width="1.1"/>
<text x="523.20" y="421.30" font-size="8.7" text-anchor="end" fill="#000">0</text>
<line x1="526.00" y1="383.40" x2="531.70" y2="383.40" stroke="#111" stroke-width="1.1"/>
<text x="523.20" y="386.50" font-size="8.7" text-anchor="end" fill="#000">100</text>
<line x1="526.00" y1="348.60" x2="531.70" y2="348.60" stroke="#111" stroke-width="1.1"/>
<text x="523.20" y="351.70" font-size="8.7" text-anchor="end" fill="#000">200</text>
<line x1="526.00" y1="313.80" x2="531.70" y2="313.80" stroke="#111" stroke-width="1.1"/>
<text x="523.20" y="316.90" font-size="8.7" text-anchor="end" fill="#000">300</text>
<line x1="526.00" y1="279.00" x2="531.70" y2="279.00" stroke="#111" stroke-width="1.1"/>
<text x="523.20" y="282.10" font-size="8.7" text-anchor="end" fill="#000">400</text>
<line x1="555.70" y1="418.20" x2="555.70" y2="423.20" stroke="#111" stroke-width="1.1"/>
<line x1="612.30" y1="418.20" x2="612.30" y2="423.20" stroke="#111" stroke-width="1.1"/>
<rect x="538.2" y="368.78" width="14.30" height="49.42" fill="#707070" stroke="#111" stroke-width="1.1"/>
<path d="M545.35,366.87 V370.70 M542.85,366.87 H547.85 M542.85,370.70 H547.85" stroke="#111" stroke-width="1.1"/>
<circle cx="545.35" cy="366.00" r="2.1" fill="#111"/>
<circle cx="540.65" cy="369.83" r="2.1" fill="#111"/>
<circle cx="550.05" cy="368.44" r="2.1" fill="#111"/>
<rect x="559.3" y="320.41" width="14.30" height="97.79" fill="#7b7bff" stroke="#1515ff" stroke-width="1.1"/>
<path d="M566.45,315.19 V325.63 M563.95,315.19 H568.95 M563.95,325.63 H568.95" stroke="#1a1aff" stroke-width="1.1"/>
<circle cx="566.45" cy="315.19" r="2.1" fill="#1a1aff"/>
<circle cx="566.45" cy="320.41" r="2.1" fill="#1a1aff"/>
<circle cx="566.45" cy="325.63" r="2.1" fill="#1a1aff"/>
<rect x="594.5" y="381.31" width="14.25" height="36.89" fill="#707070" stroke="#111" stroke-width="1.1"/>
<path d="M601.62,379.75 V382.88 M599.12,379.75 H604.12 M599.12,382.88 H604.12" stroke="#111" stroke-width="1.1"/>
<circle cx="596.42" cy="383.40" r="2.1" fill="#111"/>
<circle cx="601.62" cy="380.41" r="2.1" fill="#111"/>
<circle cx="606.33" cy="380.72" r="2.1" fill="#111"/>
<rect x="615.5" y="353.47" width="14.00" height="64.73" fill="#7b7bff" stroke="#1515ff" stroke-width="1.1"/>
<path d="M622.50,349.99 V356.95 M620.00,349.99 H625.00 M620.00,356.95 H625.00" stroke="#1a1aff" stroke-width="1.1"/>
<circle cx="622.50" cy="349.30" r="2.1" fill="#1a1aff"/>
<circle cx="617.20" cy="356.26" r="2.1" fill="#1a1aff"/>
<circle cx="627.70" cy="355.21" r="2.1" fill="#1a1aff"/>
<path d="M533,383.5 H637" stroke="#111" stroke-width="1.3" stroke-dasharray="1.3,2.6"/>
<path d="M545.2,357.9 V298.4 H567 V306.8 M601.3,370.6 V298.4 H622.5 V340.4" fill="none" stroke="#444" stroke-width="0.9"/>
<text x="545.20" y="295.50" font-size="9.5" fill="#111" textLength="18.8" lengthAdjust="spacingAndGlyphs">****</text>
<text x="601.30" y="295.50" font-size="9.5" fill="#111" textLength="18.9" lengthAdjust="spacingAndGlyphs">****</text>
<circle cx="644.1" cy="287.6" r="2.3" fill="#111"/>
<circle cx="644.1" cy="307.7" r="2.3" fill="#1a1aff"/>
<text x="660.5" y="292.5" font-size="9.7" fill="#000">697<tspan font-size="6" font-style="italic" dy="-3.6">WT</tspan></text>
<text x="660.5" y="312.5" font-size="9.7" fill="#000">697<tspan font-size="6" font-style="italic" dy="-3.6">KI</tspan></text>
<text transform="translate(491.8,397.3) rotate(-90)" font-size="10.5" fill="#000" textLength="92.3" lengthAdjust="spacingAndGlyphs">Annexin V<tspan font-size="6.3" dy="-3.8">+ve</tspan><tspan dy="3.8"> 7AAD</tspan><tspan font-size="6.3" dy="-3.8">-ve</tspan></text>
<text transform="translate(502.2,410.8) rotate(-90)" font-size="10.5" fill="#000" textLength="123" lengthAdjust="spacingAndGlyphs">(% Normalized to <tspan font-style="italic">Renilla</tspan>)</text>
<text transform="translate(561,432.3) rotate(-45)" font-size="9.2" fill="#000" text-anchor="end"><tspan font-style="italic">BCL2</tspan> shRNA1</text>
<text transform="translate(617.6,432.3) rotate(-45)" font-size="9.2" fill="#000" text-anchor="end"><tspan font-style="italic">BCL2</tspan> shRNA2</text>
<text x="3.00" y="586.30" font-size="15" font-weight="bold" fill="#000">e</text>
<path d="M50.8,592.64 V698.0 H209.5" fill="none" stroke="#111" stroke-width="1.1"/>
<line x1="46.20" y1="698.00" x2="50.80" y2="698.00" stroke="#111" stroke-width="1.1"/>
<text x="45.20" y="701.10" font-size="8.7" text-anchor="end" fill="#000">0</text>
<line x1="46.20" y1="676.05" x2="50.80" y2="676.05" stroke="#111" stroke-width="1.1"/>
<text x="45.20" y="679.15" font-size="8.7" text-anchor="end" fill="#000">25</text>
<line x1="46.20" y1="654.10" x2="50.80" y2="654.10" stroke="#111" stroke-width="1.1"/>
<text x="45.20" y="657.20" font-size="8.7" text-anchor="end" fill="#000">50</text>
<line x1="46.20" y1="632.15" x2="50.80" y2="632.15" stroke="#111" stroke-width="1.1"/>
<text x="45.20" y="635.25" font-size="8.7" text-anchor="end" fill="#000">75</text>
<line x1="46.20" y1="610.20" x2="50.80" y2="610.20" stroke="#111" stroke-width="1.1"/>
<text x="45.20" y="613.30" font-size="8.7" text-anchor="end" fill="#000">100</text>
<line x1="46.20" y1="592.64" x2="50.80" y2="592.64" stroke="#111" stroke-width="1.1"/>
<text x="45.20" y="595.74" font-size="8.7" text-anchor="end" fill="#000">120</text>
<line x1="73.60" y1="698.00" x2="73.60" y2="702.60" stroke="#111" stroke-width="1.1"/>
<text x="73.60" y="711.60" font-size="8.7" text-anchor="middle" fill="#000">-10</text>
<line x1="119.10" y1="698.00" x2="119.10" y2="702.60" stroke="#111" stroke-width="1.1"/>
<text x="119.10" y="711.60" font-size="8.7" text-anchor="middle" fill="#000">-8</text>
<line x1="164.60" y1="698.00" x2="164.60" y2="702.60" stroke="#111" stroke-width="1.1"/>
<text x="164.60" y="711.60" font-size="8.7" text-anchor="middle" fill="#000">-6</text>
<line x1="210.10" y1="698.00" x2="210.10" y2="702.60" stroke="#111" stroke-width="1.1"/>
<text x="210.10" y="711.60" font-size="8.7" text-anchor="middle" fill="#000">-4</text>
<polyline points="50.8,610.20 51.8,610.20 52.8,610.20 53.8,610.20 54.8,610.20 55.8,610.20 56.8,610.20 57.8,610.20 58.8,610.20 59.8,610.21 60.8,610.21 61.8,610.21 62.8,610.21 63.8,610.21 64.8,610.21 65.8,610.21 66.8,610.21 67.8,610.21 68.8,610.22 69.8,610.22 70.8,610.22 71.8,610.22 72.8,610.23 73.8,610.23 74.8,610.24 75.8,610.24 76.8,610.25 77.7,610.25 78.7,610.26 79.7,610.27 80.7,610.28 81.7,610.29 82.7,610.30 83.7,610.31 84.7,610.33 85.7,610.34 86.7,610.36 87.7,610.39 88.7,610.41 89.7,610.44 90.7,610.47 91.7,610.51 92.7,610.55 93.7,610.60 94.7,610.65 95.7,610.71 96.7,610.78 97.7,610.85 98.7,610.94 99.7,611.04 100.7,611.15 101.7,611.28 102.7,611.42 103.7,611.58 104.7,611.76 105.7,611.97 106.7,612.20 107.7,612.47 108.7,612.76 109.7,613.10 110.7,613.47 111.7,613.89 112.7,614.37 113.7,614.90 114.7,615.49 115.7,616.16 116.7,616.90 117.7,617.72 118.7,618.64 119.7,619.65 120.7,620.77 121.7,622.00 122.7,623.35 123.7,624.82 124.7,626.43 125.7,628.17 126.7,630.04 127.7,632.04 128.7,634.18 129.7,636.44 130.6,638.82 131.6,641.31 132.6,643.89 133.6,646.55 134.6,649.26 135.6,652.02 136.6,654.79 137.6,657.55 138.6,660.29 139.6,662.98 140.6,665.60 141.6,668.14 142.6,670.57 143.6,672.90 144.6,675.10 145.6,677.17 146.6,679.11 147.6,680.91 148.6,682.59 149.6,684.12 150.6,685.54 151.6,686.83 152.6,688.00 153.6,689.07 154.6,690.03 155.6,690.90 156.6,691.68 157.6,692.38 158.6,693.01 159.6,693.57 160.6,694.08 161.6,694.52 162.6,694.92 163.6,695.27 164.6,695.59 165.6,695.87 166.6,696.12 167.6,696.33 168.6,696.53 169.6,696.70 170.6,696.85 171.6,696.99 172.6,697.11 173.6,697.21 174.6,697.30 175.6,697.39 176.6,697.46 177.6,697.52 178.6,697.58 179.6,697.63 180.6,697.67 181.6,697.71 182.6,697.75 183.5,697.78 184.5,697.80 185.5,697.83 186.5,697.85 187.5,697.86 188.5,697.88 189.5,697.89 190.5,697.91 191.5,697.92 192.5,697.93 193.5,697.94 194.5,697.94 195.5,697.95 196.5,697.96 197.5,697.96 198.5,697.97 199.5,697.97 200.5,697.97 201.5,697.98 202.5,697.98 203.5,697.98 204.5,697.98 205.5,697.99 206.5,697.99 207.5,697.99 208.5,697.99 209.5,697.99" fill="none" stroke="#1414e6" stroke-width="1.25"/>
<polyline points="50.8,610.20 51.8,610.20 52.8,610.20 53.8,610.20 54.8,610.20 55.8,610.20 56.8,610.20 57.8,610.20 58.8,610.20 59.8,610.20 60.8,610.20 61.8,610.20 62.8,610.20 63.8,610.20 64.8,610.20 65.8,610.20 66.8,610.20 67.8,610.20 68.8,610.20 69.8,610.20 70.8,610.20 71.8,610.20 72.8,610.20 73.8,610.20 74.8,610.20 75.8,610.20 76.8,610.20 77.7,610.20 78.7,610.20 79.7,610.20 80.7,610.20 81.7,610.20 82.7,610.20 83.7,610.20 84.7,610.20 85.7,610.20 86.7,610.20 87.7,610.20 88.7,610.20 89.7,610.20 90.7,610.20 91.7,610.20 92.7,610.20 93.7,610.20 94.7,610.20 95.7,610.20 96.7,610.20 97.7,610.20 98.7,610.20 99.7,610.20 100.7,610.20 101.7,610.20 102.7,610.20 103.7,610.20 104.7,610.21 105.7,610.21 106.7,610.21 107.7,610.21 108.7,610.21 109.7,610.21 110.7,610.22 111.7,610.22 112.7,610.23 113.7,610.23 114.7,610.24 115.7,610.25 116.7,610.26 117.7,610.27 118.7,610.29 119.7,610.31 120.7,610.33 121.7,610.36 122.7,610.40 123.7,610.44 124.7,610.50 125.7,610.56 126.7,610.64 127.7,610.74 128.7,610.86 129.7,611.01 130.6,611.19 131.6,611.40 132.6,611.67 133.6,611.99 134.6,612.38 135.6,612.86 136.6,613.43 137.6,614.12 138.6,614.95 139.6,615.94 140.6,617.13 141.6,618.53 142.6,620.18 143.6,622.12 144.6,624.35 145.6,626.92 146.6,629.83 147.6,633.08 148.6,636.66 149.6,640.53 150.6,644.66 151.6,648.97 152.6,653.38 153.6,657.80 154.6,662.16 155.6,666.35 156.6,670.31 157.6,673.99 158.6,677.35 159.6,680.37 160.6,683.05 161.6,685.39 162.6,687.42 163.6,689.16 164.6,690.64 165.6,691.89 166.6,692.95 167.6,693.83 168.6,694.56 169.6,695.17 170.6,695.67 171.6,696.09 172.6,696.43 173.6,696.72 174.6,696.95 175.6,697.14 176.6,697.29 177.6,697.42 178.6,697.53 179.6,697.61 180.6,697.68 181.6,697.74 182.6,697.79 183.5,697.83 184.5,697.86 185.5,697.88 186.5,697.91 187.5,697.92 188.5,697.94 189.5,697.95 190.5,697.96 191.5,697.97 192.5,697.97 193.5,697.98 194.5,697.98 195.5,697.98 196.5,697.99 197.5,697.99 198.5,697.99 199.5,697.99 200.5,697.99 201.5,698.00 202.5,698.00 203.5,698.00 204.5,698.00 205.5,698.00 206.5,698.00 207.5,698.00 208.5,698.00 209.5,698.00" fill="none" stroke="#111" stroke-width="1.25"/>
<path d="M73.60,596.24 V623.46 M71.60,596.24 H75.60 M71.60,623.46 H75.60" stroke="#1414e6" stroke-width="1.1"/>
<circle cx="73.60" cy="609.85" r="2" fill="#1414e6"/>
<path d="M96.35,599.05 V625.39 M94.35,599.05 H98.35 M94.35,625.39 H98.35" stroke="#1414e6" stroke-width="1.1"/>
<circle cx="96.35" cy="612.22" r="2" fill="#1414e6"/>
<path d="M130.47,634.08 V642.86 M128.47,634.08 H132.47 M128.47,642.86 H132.47" stroke="#1414e6" stroke-width="1.1"/>
<circle cx="130.47" cy="638.47" r="2" fill="#1414e6"/>
<path d="M141.85,658.31 V674.12 M139.85,658.31 H143.85 M139.85,674.12 H143.85" stroke="#1414e6" stroke-width="1.1"/>
<circle cx="141.85" cy="666.22" r="2" fill="#1414e6"/>
<path d="M153.22,690.36 V693.00 M151.22,690.36 H155.22 M151.22,693.00 H155.22" stroke="#1414e6" stroke-width="1.1"/>
<circle cx="153.22" cy="691.68" r="2" fill="#1414e6"/>
<path d="M175.97,689.22 V692.73 M173.97,689.22 H177.97 M173.97,692.73 H177.97" stroke="#1414e6" stroke-width="1.1"/>
<circle cx="175.97" cy="690.98" r="2" fill="#1414e6"/>
<path d="M187.35,689.22 V692.73 M185.35,689.22 H189.35 M185.35,692.73 H189.35" stroke="#1414e6" stroke-width="1.1"/>
<circle cx="187.35" cy="690.98" r="2" fill="#1414e6"/>
<path d="M73.60,609.15 V615.29 M71.60,609.15 H75.60 M71.60,615.29 H75.60" stroke="#111" stroke-width="1.1"/>
<circle cx="73.60" cy="612.22" r="2" fill="#111"/>
<circle cx="96.35" cy="609.85" r="2" fill="#111"/>
<path d="M130.47,609.50 V621.79 M128.47,609.50 H132.47 M128.47,621.79 H132.47" stroke="#111" stroke-width="1.1"/>
<circle cx="130.47" cy="615.64" r="2" fill="#111"/>
<path d="M141.85,617.40 V620.03 M139.85,617.40 H143.85 M139.85,620.03 H143.85" stroke="#111" stroke-width="1.1"/>
<circle cx="141.85" cy="618.72" r="2" fill="#111"/>
<path d="M153.22,646.99 V663.67 M151.22,646.99 H155.22 M151.22,663.67 H155.22" stroke="#111" stroke-width="1.1"/>
<circle cx="153.22" cy="655.33" r="2" fill="#111"/>
<path d="M175.97,692.56 V695.19 M173.97,692.56 H177.97 M173.97,695.19 H177.97" stroke="#111" stroke-width="1.1"/>
<circle cx="175.97" cy="693.87" r="2" fill="#111"/>
<path d="M187.35,692.64 V695.28 M185.35,692.64 H189.35 M185.35,695.28 H189.35" stroke="#111" stroke-width="1.1"/>
<circle cx="187.35" cy="693.96" r="2" fill="#111"/>
<text x="53.9" y="677.8" font-size="10" fill="#000">697</text>
<text x="70.99" y="673.90" font-size="6" font-style="italic" fill="#000">WT</text>
<text x="81.51" y="677.8" font-size="10" fill="#000">IC</text>
<text x="91.71" y="680.20" font-size="5.8" fill="#000">50</text>
<text x="99.66" y="677.8" font-size="9.6" fill="#000">3.0e</text>
<text x="118.55" y="673.90" font-size="5.8" fill="#000">-7</text>
<text x="53.9" y="690.8" font-size="10" fill="#000">697</text>
<text x="70.99" y="686.90" font-size="6" font-style="italic" fill="#000">KI</text>
<text x="77.85" y="690.8" font-size="10" fill="#000">IC</text>
<text x="88.05" y="693.20" font-size="5.8" fill="#000">50</text>
<text x="96.01" y="690.8" font-size="9.6" fill="#000">5.7e</text>
<text x="114.89" y="686.90" font-size="5.8" fill="#000">-8</text>
<text x="94.6" y="588.3" font-size="12" font-weight="bold" fill="#111">BCL2/BCL<tspan font-size="8" dy="3">XL</tspan></text>
<line x1="166.40" y1="600.20" x2="177.00" y2="600.20" stroke="#111" stroke-width="1.2"/>
<circle cx="171.7" cy="600.2" r="1.9" fill="#111"/>
<text x="182.9" y="604.6" font-size="10" fill="#000">697<tspan font-size="6" font-style="italic" dy="-3.8">WT</tspan></text>
<line x1="166.40" y1="615.30" x2="177.00" y2="615.30" stroke="#1414e6" stroke-width="1.2"/>
<circle cx="171.7" cy="615.3" r="1.9" fill="#1414e6"/>
<text x="182.9" y="619.6999999999999" font-size="10" fill="#000">697<tspan font-size="6" font-style="italic" dy="-3.8">KI</tspan></text>
<text transform="translate(27.6,680) rotate(-90)" font-size="10.6" fill="#000" textLength="76.5" lengthAdjust="spacingAndGlyphs">Cell viability (%)</text>
<text x="92.90" y="724.00" font-size="10.7" fill="#000" textLength="85.8" lengthAdjust="spacingAndGlyphs">Navitoclax (log M)</text>
<text x="230.20" y="587.70" font-size="15" font-weight="bold" fill="#000">f</text>
<path d="M267.4,592.24 V697.6 H425.3" fill="none" stroke="#111" stroke-width="1.1"/>
<line x1="262.80" y1="697.60" x2="267.40" y2="697.60" stroke="#111" stroke-width="1.1"/>
<text x="261.80" y="700.70" font-size="8.7" text-anchor="end" fill="#000">0</text>
<line x1="262.80" y1="675.65" x2="267.40" y2="675.65" stroke="#111" stroke-width="1.1"/>
<text x="261.80" y="678.75" font-size="8.7" text-anchor="end" fill="#000">25</text>
<line x1="262.80" y1="653.70" x2="267.40" y2="653.70" stroke="#111" stroke-width="1.1"/>
<text x="261.80" y="656.80" font-size="8.7" text-anchor="end" fill="#000">50</text>
<line x1="262.80" y1="631.75" x2="267.40" y2="631.75" stroke="#111" stroke-width="1.1"/>
<text x="261.80" y="634.85" font-size="8.7" text-anchor="end" fill="#000">75</text>
<line x1="262.80" y1="609.80" x2="267.40" y2="609.80" stroke="#111" stroke-width="1.1"/>
<text x="261.80" y="612.90" font-size="8.7" text-anchor="end" fill="#000">100</text>
<line x1="262.80" y1="592.24" x2="267.40" y2="592.24" stroke="#111" stroke-width="1.1"/>
<text x="261.80" y="595.34" font-size="8.7" text-anchor="end" fill="#000">120</text>
<line x1="267.40" y1="697.60" x2="267.40" y2="702.20" stroke="#111" stroke-width="1.1"/>
<text x="267.40" y="711.20" font-size="8.7" text-anchor="middle" fill="#000">-14</text>
<line x1="299.00" y1="697.60" x2="299.00" y2="702.20" stroke="#111" stroke-width="1.1"/>
<text x="299.00" y="711.20" font-size="8.7" text-anchor="middle" fill="#000">-12</text>
<line x1="330.60" y1="697.60" x2="330.60" y2="702.20" stroke="#111" stroke-width="1.1"/>
<text x="330.60" y="711.20" font-size="8.7" text-anchor="middle" fill="#000">-10</text>
<line x1="362.20" y1="697.60" x2="362.20" y2="702.20" stroke="#111" stroke-width="1.1"/>
<text x="362.20" y="711.20" font-size="8.7" text-anchor="middle" fill="#000">-8</text>
<line x1="393.80" y1="697.60" x2="393.80" y2="702.20" stroke="#111" stroke-width="1.1"/>
<text x="393.80" y="711.20" font-size="8.7" text-anchor="middle" fill="#000">-6</text>
<line x1="425.40" y1="697.60" x2="425.40" y2="702.20" stroke="#111" stroke-width="1.1"/>
<text x="425.40" y="711.20" font-size="8.7" text-anchor="middle" fill="#000">-4</text>
<polyline points="267.4,609.80 268.4,609.80 269.4,609.80 270.4,609.80 271.4,609.80 272.4,609.80 273.4,609.80 274.4,609.80 275.3,609.80 276.3,609.80 277.3,609.80 278.3,609.80 279.3,609.80 280.3,609.80 281.3,609.80 282.3,609.80 283.3,609.80 284.3,609.80 285.3,609.80 286.3,609.80 287.3,609.80 288.3,609.80 289.2,609.80 290.2,609.80 291.2,609.80 292.2,609.80 293.2,609.80 294.2,609.80 295.2,609.80 296.2,609.80 297.2,609.80 298.2,609.80 299.2,609.80 300.2,609.80 301.2,609.80 302.2,609.80 303.2,609.80 304.1,609.80 305.1,609.80 306.1,609.80 307.1,609.80 308.1,609.80 309.1,609.80 310.1,609.80 311.1,609.80 312.1,609.80 313.1,609.80 314.1,609.80 315.1,609.80 316.1,609.80 317.1,609.80 318.0,609.80 319.0,609.80 320.0,609.80 321.0,609.80 322.0,609.80 323.0,609.80 324.0,609.80 325.0,609.80 326.0,609.80 327.0,609.80 328.0,609.80 329.0,609.80 330.0,609.80 331.0,609.80 332.0,609.80 332.9,609.80 333.9,609.80 334.9,609.80 335.9,609.80 336.9,609.80 337.9,609.80 338.9,609.80 339.9,609.80 340.9,609.80 341.9,609.80 342.9,609.80 343.9,609.80 344.9,609.80 345.9,609.80 346.8,609.80 347.8,609.80 348.8,609.80 349.8,609.80 350.8,609.80 351.8,609.80 352.8,609.80 353.8,609.80 354.8,609.80 355.8,609.80 356.8,609.80 357.8,609.80 358.8,609.80 359.8,609.80 360.7,609.80 361.7,609.80 362.7,609.80 363.7,609.81 364.7,609.81 365.7,609.81 366.7,609.81 367.7,609.82 368.7,609.82 369.7,609.82 370.7,609.83 371.7,609.84 372.7,609.85 373.7,609.86 374.7,609.88 375.6,609.90 376.6,609.93 377.6,609.96 378.6,610.00 379.6,610.05 380.6,610.12 381.6,610.20 382.6,610.30 383.6,610.43 384.6,610.60 385.6,610.80 386.6,611.06 387.6,611.38 388.6,611.79 389.5,612.29 390.5,612.92 391.5,613.69 392.5,614.65 393.5,615.83 394.5,617.27 395.5,619.01 396.5,621.10 397.5,623.58 398.5,626.49 399.5,629.85 400.5,633.65 401.5,637.88 402.5,642.48 403.5,647.35 404.4,652.39 405.4,657.46 406.4,662.43 407.4,667.18 408.4,671.61 409.4,675.64 410.4,679.23 411.4,682.37 412.4,685.07 413.4,687.35 414.4,689.27 415.4,690.86 416.4,692.17 417.4,693.23 418.3,694.10 419.3,694.80 420.3,695.37 421.3,695.82 422.3,696.18 423.3,696.47 424.3,696.70 425.3,696.89" fill="none" stroke="#1414e6" stroke-width="1.25"/>
<polyline points="267.4,609.80 268.4,609.80 269.4,609.80 270.4,609.80 271.4,609.80 272.4,609.80 273.4,609.80 274.4,609.80 275.3,609.80 276.3,609.80 277.3,609.80 278.3,609.80 279.3,609.80 280.3,609.80 281.3,609.80 282.3,609.80 283.3,609.80 284.3,609.80 285.3,609.80 286.3,609.80 287.3,609.80 288.3,609.80 289.2,609.80 290.2,609.80 291.2,609.80 292.2,609.80 293.2,609.80 294.2,609.80 295.2,609.80 296.2,609.80 297.2,609.80 298.2,609.80 299.2,609.80 300.2,609.80 301.2,609.80 302.2,609.80 303.2,609.80 304.1,609.80 305.1,609.80 306.1,609.80 307.1,609.80 308.1,609.80 309.1,609.80 310.1,609.80 311.1,609.80 312.1,609.80 313.1,609.80 314.1,609.80 315.1,609.80 316.1,609.80 317.1,609.80 318.0,609.80 319.0,609.80 320.0,609.80 321.0,609.80 322.0,609.80 323.0,609.80 324.0,609.80 325.0,609.80 326.0,609.80 327.0,609.80 328.0,609.80 329.0,609.80 330.0,609.80 331.0,609.80 332.0,609.80 332.9,609.80 333.9,609.80 334.9,609.80 335.9,609.80 336.9,609.80 337.9,609.80 338.9,609.80 339.9,609.80 340.9,609.80 341.9,609.80 342.9,609.80 343.9,609.80 344.9,609.80 345.9,609.80 346.8,609.80 347.8,609.80 348.8,609.80 349.8,609.80 350.8,609.80 351.8,609.80 352.8,609.80 353.8,609.80 354.8,609.80 355.8,609.80 356.8,609.80 357.8,609.80 358.8,609.80 359.8,609.80 360.7,609.81 361.7,609.81 362.7,609.81 363.7,609.81 364.7,609.81 365.7,609.82 366.7,609.82 367.7,609.83 368.7,609.83 369.7,609.84 370.7,609.85 371.7,609.86 372.7,609.88 373.7,609.90 374.7,609.93 375.6,609.96 376.6,610.00 377.6,610.06 378.6,610.12 379.6,610.21 380.6,610.31 381.6,610.44 382.6,610.61 383.6,610.82 384.6,611.08 385.6,611.41 386.6,611.82 387.6,612.33 388.6,612.97 389.5,613.75 390.5,614.73 391.5,615.92 392.5,617.38 393.5,619.14 394.5,621.26 395.5,623.77 396.5,626.71 397.5,630.09 398.5,633.93 399.5,638.18 400.5,642.80 401.5,647.69 402.5,652.73 403.5,657.80 404.4,662.77 405.4,667.50 406.4,671.90 407.4,675.90 408.4,679.46 409.4,682.57 410.4,685.24 411.4,687.50 412.4,689.39 413.4,690.96 414.4,692.25 415.4,693.30 416.4,694.15 417.4,694.84 418.3,695.40 419.3,695.85 420.3,696.20 421.3,696.49 422.3,696.72 423.3,696.90 424.3,697.04 425.3,697.16" fill="none" stroke="#111" stroke-width="1.25"/>
<path d="M306.90,602.78 V616.82 M304.90,602.78 H308.90 M304.90,616.82 H308.90" stroke="#1414e6" stroke-width="1.1"/>
<circle cx="306.90" cy="609.80" r="2" fill="#1414e6"/>
<path d="M338.50,602.78 V616.82 M336.50,602.78 H340.50 M336.50,616.82 H340.50" stroke="#1414e6" stroke-width="1.1"/>
<circle cx="338.50" cy="609.80" r="2" fill="#1414e6"/>
<path d="M346.40,606.29 V615.07 M344.40,606.29 H348.40 M344.40,615.07 H348.40" stroke="#1414e6" stroke-width="1.1"/>
<circle cx="346.40" cy="610.68" r="2" fill="#1414e6"/>
<path d="M362.20,608.92 V614.19 M360.20,608.92 H364.20 M360.20,614.19 H364.20" stroke="#1414e6" stroke-width="1.1"/>
<circle cx="362.20" cy="611.56" r="2" fill="#1414e6"/>
<path d="M370.10,609.80 V625.60 M368.10,609.80 H372.10 M368.10,625.60 H372.10" stroke="#1414e6" stroke-width="1.1"/>
<circle cx="370.10" cy="617.70" r="2" fill="#1414e6"/>
<path d="M378.00,615.07 V620.34 M376.00,615.07 H380.00 M376.00,620.34 H380.00" stroke="#1414e6" stroke-width="1.1"/>
<circle cx="378.00" cy="617.70" r="2" fill="#1414e6"/>
<path d="M385.90,615.07 V620.34 M383.90,615.07 H387.90 M383.90,620.34 H387.90" stroke="#1414e6" stroke-width="1.1"/>
<circle cx="385.90" cy="617.70" r="2" fill="#1414e6"/>
<path d="M393.80,609.80 V623.85 M391.80,609.80 H395.80 M391.80,623.85 H395.80" stroke="#1414e6" stroke-width="1.1"/>
<circle cx="393.80" cy="616.82" r="2" fill="#1414e6"/>
<path d="M417.50,689.70 V693.21 M415.50,689.70 H419.50 M415.50,693.21 H419.50" stroke="#1414e6" stroke-width="1.1"/>
<circle cx="417.50" cy="691.45" r="2" fill="#1414e6"/>
<path d="M306.90,608.04 V611.56 M304.90,608.04 H308.90 M304.90,611.56 H308.90" stroke="#111" stroke-width="1.1"/>
<circle cx="306.90" cy="609.80" r="2" fill="#111"/>
<path d="M338.50,607.17 V617.70 M336.50,607.17 H340.50 M336.50,617.70 H340.50" stroke="#111" stroke-width="1.1"/>
<circle cx="338.50" cy="612.43" r="2" fill="#111"/>
<path d="M346.40,605.41 V615.95 M344.40,605.41 H348.40 M344.40,615.95 H348.40" stroke="#111" stroke-width="1.1"/>
<circle cx="346.40" cy="610.68" r="2" fill="#111"/>
<path d="M362.20,609.80 V615.07 M360.20,609.80 H364.20 M360.20,615.07 H364.20" stroke="#111" stroke-width="1.1"/>
<circle cx="362.20" cy="612.43" r="2" fill="#111"/>
<circle cx="370.10" cy="617.70" r="2" fill="#111"/>
<path d="M378.00,615.95 V619.46 M376.00,615.95 H380.00 M376.00,619.46 H380.00" stroke="#111" stroke-width="1.1"/>
<circle cx="378.00" cy="617.70" r="2" fill="#111"/>
<path d="M385.90,615.07 V623.85 M383.90,615.07 H387.90 M383.90,623.85 H387.90" stroke="#111" stroke-width="1.1"/>
<circle cx="385.90" cy="619.46" r="2" fill="#111"/>
<path d="M393.80,618.58 V627.36 M391.80,618.58 H395.80 M391.80,627.36 H395.80" stroke="#111" stroke-width="1.1"/>
<circle cx="393.80" cy="622.97" r="2" fill="#111"/>
<path d="M417.50,692.33 V695.84 M415.50,692.33 H419.50 M415.50,695.84 H419.50" stroke="#111" stroke-width="1.1"/>
<circle cx="417.50" cy="694.09" r="2" fill="#111"/>
<text x="270.4" y="677.8" font-size="10" fill="#000">697</text>
<text x="287.49" y="673.90" font-size="6" font-style="italic" fill="#000">WT</text>
<text x="298.01" y="677.8" font-size="10" fill="#000">IC</text>
<text x="308.21" y="680.20" font-size="5.8" fill="#000">50</text>
<text x="316.16" y="677.8" font-size="9.6" fill="#000">3.6e</text>
<text x="335.05" y="673.90" font-size="5.8" fill="#000">-6</text>
<text x="270.4" y="690.8" font-size="10" fill="#000">697</text>
<text x="287.49" y="686.90" font-size="6" font-style="italic" fill="#000">KI</text>
<text x="294.35" y="690.8" font-size="10" fill="#000">IC</text>
<text x="304.55" y="693.20" font-size="5.8" fill="#000">50</text>
<text x="312.51" y="690.8" font-size="9.6" fill="#000">4.9e</text>
<text x="331.39" y="686.90" font-size="5.8" fill="#000">-6</text>
<text x="325" y="587.7" font-size="12" font-weight="bold" fill="#111">BCL<tspan font-size="8" dy="3">XL</tspan></text>
<text transform="translate(242.6,680) rotate(-90)" font-size="10.6" fill="#000" textLength="76.5" lengthAdjust="spacingAndGlyphs">Cell viability (%)</text>
<text x="307.50" y="724.00" font-size="10.7" fill="#000" textLength="84.8" lengthAdjust="spacingAndGlyphs">A1155463 (log M)</text>
<path d="M459.4,590.76 V697.2 H618.9" fill="none" stroke="#111" stroke-width="1.1"/>
<line x1="454.80" y1="697.20" x2="459.40" y2="697.20" stroke="#111" stroke-width="1.1"/>
<text x="453.80" y="700.30" font-size="8.7" text-anchor="end" fill="#000">0</text>
<line x1="454.80" y1="675.03" x2="459.40" y2="675.03" stroke="#111" stroke-width="1.1"/>
<text x="453.80" y="678.13" font-size="8.7" text-anchor="end" fill="#000">25</text>
<line x1="454.80" y1="652.85" x2="459.40" y2="652.85" stroke="#111" stroke-width="1.1"/>
<text x="453.80" y="655.95" font-size="8.7" text-anchor="end" fill="#000">50</text>
<line x1="454.80" y1="630.68" x2="459.40" y2="630.68" stroke="#111" stroke-width="1.1"/>
<text x="453.80" y="633.78" font-size="8.7" text-anchor="end" fill="#000">75</text>
<line x1="454.80" y1="608.50" x2="459.40" y2="608.50" stroke="#111" stroke-width="1.1"/>
<text x="453.80" y="611.60" font-size="8.7" text-anchor="end" fill="#000">100</text>
<line x1="454.80" y1="590.76" x2="459.40" y2="590.76" stroke="#111" stroke-width="1.1"/>
<text x="453.80" y="593.86" font-size="8.7" text-anchor="end" fill="#000">120</text>
<line x1="459.40" y1="697.20" x2="459.40" y2="701.80" stroke="#111" stroke-width="1.1"/>
<text x="459.40" y="710.80" font-size="8.7" text-anchor="middle" fill="#000">-8</text>
<line x1="499.30" y1="697.20" x2="499.30" y2="701.80" stroke="#111" stroke-width="1.1"/>
<text x="499.30" y="710.80" font-size="8.7" text-anchor="middle" fill="#000">-7</text>
<line x1="539.20" y1="697.20" x2="539.20" y2="701.80" stroke="#111" stroke-width="1.1"/>
<text x="539.20" y="710.80" font-size="8.7" text-anchor="middle" fill="#000">-6</text>
<line x1="579.10" y1="697.20" x2="579.10" y2="701.80" stroke="#111" stroke-width="1.1"/>
<text x="579.10" y="710.80" font-size="8.7" text-anchor="middle" fill="#000">-5</text>
<line x1="619.00" y1="697.20" x2="619.00" y2="701.80" stroke="#111" stroke-width="1.1"/>
<text x="619.00" y="710.80" font-size="8.7" text-anchor="middle" fill="#000">-4</text>
<polyline points="459.4,608.50 460.4,608.50 461.4,608.50 462.4,608.50 463.4,608.50 464.4,608.50 465.4,608.50 466.4,608.50 467.4,608.50 468.4,608.50 469.4,608.50 470.4,608.50 471.4,608.50 472.4,608.50 473.4,608.50 474.4,608.50 475.5,608.50 476.5,608.50 477.5,608.50 478.5,608.50 479.5,608.50 480.5,608.50 481.5,608.50 482.5,608.50 483.5,608.50 484.5,608.50 485.5,608.50 486.5,608.50 487.5,608.51 488.5,608.51 489.5,608.51 490.5,608.51 491.5,608.51 492.5,608.51 493.5,608.52 494.5,608.52 495.5,608.52 496.5,608.53 497.5,608.53 498.5,608.54 499.5,608.54 500.5,608.55 501.5,608.56 502.5,608.57 503.5,608.59 504.5,608.60 505.5,608.62 506.5,608.65 507.6,608.67 508.6,608.71 509.6,608.74 510.6,608.79 511.6,608.85 512.6,608.91 513.6,608.99 514.6,609.08 515.6,609.19 516.6,609.32 517.6,609.47 518.6,609.65 519.6,609.87 520.6,610.12 521.6,610.43 522.6,610.78 523.6,611.20 524.6,611.70 525.6,612.28 526.6,612.96 527.6,613.75 528.6,614.68 529.6,615.75 530.6,617.00 531.6,618.43 532.6,620.07 533.6,621.93 534.6,624.03 535.6,626.38 536.6,628.99 537.6,631.85 538.6,634.96 539.7,638.29 540.7,641.82 541.7,645.50 542.7,649.29 543.7,653.14 544.7,656.98 545.7,660.76 546.7,664.42 547.7,667.92 548.7,671.22 549.7,674.29 550.7,677.12 551.7,679.69 552.7,682.00 553.7,684.07 554.7,685.89 555.7,687.50 556.7,688.90 557.7,690.12 558.7,691.17 559.7,692.08 560.7,692.85 561.7,693.52 562.7,694.08 563.7,694.57 564.7,694.98 565.7,695.32 566.7,695.62 567.7,695.86 568.7,696.08 569.7,696.25 570.7,696.40 571.8,696.53 572.8,696.63 573.8,696.72 574.8,696.80 575.8,696.86 576.8,696.92 577.8,696.96 578.8,697.00 579.8,697.03 580.8,697.06 581.8,697.08 582.8,697.10 583.8,697.12 584.8,697.13 585.8,697.14 586.8,697.15 587.8,697.16 588.8,697.16 589.8,697.17 590.8,697.18 591.8,697.18 592.8,697.18 593.8,697.19 594.8,697.19 595.8,697.19 596.8,697.19 597.8,697.19 598.8,697.19 599.8,697.19 600.8,697.20 601.8,697.20 602.8,697.20 603.9,697.20 604.9,697.20 605.9,697.20 606.9,697.20 607.9,697.20 608.9,697.20 609.9,697.20 610.9,697.20 611.9,697.20 612.9,697.20 613.9,697.20 614.9,697.20 615.9,697.20 616.9,697.20 617.9,697.20 618.9,697.20" fill="none" stroke="#1414e6" stroke-width="1.25"/>
<polyline points="459.4,608.50 460.4,608.50 461.4,608.50 462.4,608.50 463.4,608.50 464.4,608.50 465.4,608.50 466.4,608.50 467.4,608.50 468.4,608.50 469.4,608.50 470.4,608.50 471.4,608.50 472.4,608.50 473.4,608.50 474.4,608.50 475.5,608.50 476.5,608.50 477.5,608.50 478.5,608.50 479.5,608.50 480.5,608.50 481.5,608.50 482.5,608.50 483.5,608.50 484.5,608.50 485.5,608.50 486.5,608.50 487.5,608.50 488.5,608.50 489.5,608.50 490.5,608.50 491.5,608.50 492.5,608.50 493.5,608.50 494.5,608.50 495.5,608.50 496.5,608.50 497.5,608.50 498.5,608.50 499.5,608.50 500.5,608.50 501.5,608.50 502.5,608.50 503.5,608.50 504.5,608.50 505.5,608.50 506.5,608.50 507.6,608.50 508.6,608.51 509.6,608.51 510.6,608.51 511.6,608.51 512.6,608.52 513.6,608.52 514.6,608.53 515.6,608.53 516.6,608.54 517.6,608.56 518.6,608.57 519.6,608.59 520.6,608.62 521.6,608.65 522.6,608.70 523.6,608.75 524.6,608.83 525.6,608.92 526.6,609.04 527.6,609.19 528.6,609.38 529.6,609.62 530.6,609.93 531.6,610.33 532.6,610.83 533.6,611.47 534.6,612.28 535.6,613.29 536.6,614.55 537.6,616.11 538.6,618.03 539.7,620.36 540.7,623.16 541.7,626.47 542.7,630.30 543.7,634.64 544.7,639.45 545.7,644.64 546.7,650.07 547.7,655.58 548.7,661.01 549.7,666.20 550.7,671.01 551.7,675.36 552.7,679.20 553.7,682.51 554.7,685.31 555.7,687.65 556.7,689.57 557.7,691.14 558.7,692.40 559.7,693.41 560.7,694.22 561.7,694.86 562.7,695.36 563.7,695.76 564.7,696.08 565.7,696.32 566.7,696.51 567.7,696.66 568.7,696.78 569.7,696.87 570.7,696.94 571.8,697.00 572.8,697.04 573.8,697.08 574.8,697.11 575.8,697.13 576.8,697.14 577.8,697.16 578.8,697.17 579.8,697.17 580.8,697.18 581.8,697.18 582.8,697.19 583.8,697.19 584.8,697.19 585.8,697.19 586.8,697.20 587.8,697.20 588.8,697.20 589.8,697.20 590.8,697.20 591.8,697.20 592.8,697.20 593.8,697.20 594.8,697.20 595.8,697.20 596.8,697.20 597.8,697.20 598.8,697.20 599.8,697.20 600.8,697.20 601.8,697.20 602.8,697.20 603.9,697.20 604.9,697.20 605.9,697.20 606.9,697.20 607.9,697.20 608.9,697.20 609.9,697.20 610.9,697.20 611.9,697.20 612.9,697.20 613.9,697.20 614.9,697.20 615.9,697.20 616.9,697.20 617.9,697.20 618.9,697.20" fill="none" stroke="#111" stroke-width="1.25"/>
<path d="M479.35,596.08 V628.01 M477.35,596.08 H481.35 M477.35,628.01 H481.35" stroke="#1414e6" stroke-width="1.1"/>
<circle cx="479.35" cy="612.05" r="2" fill="#1414e6"/>
<path d="M519.25,610.27 V624.47 M517.25,610.27 H521.25 M517.25,624.47 H521.25" stroke="#1414e6" stroke-width="1.1"/>
<circle cx="519.25" cy="617.37" r="2" fill="#1414e6"/>
<path d="M539.20,631.56 V640.43 M537.20,631.56 H541.20 M537.20,640.43 H541.20" stroke="#1414e6" stroke-width="1.1"/>
<circle cx="539.20" cy="636.00" r="2" fill="#1414e6"/>
<path d="M559.15,691.43 V694.10 M557.15,691.43 H561.15 M557.15,694.10 H561.15" stroke="#1414e6" stroke-width="1.1"/>
<circle cx="559.15" cy="692.77" r="2" fill="#1414e6"/>
<path d="M599.05,691.43 V694.10 M597.05,691.43 H601.05 M597.05,694.10 H601.05" stroke="#1414e6" stroke-width="1.1"/>
<circle cx="599.05" cy="692.77" r="2" fill="#1414e6"/>
<path d="M479.35,610.27 V628.01 M477.35,610.27 H481.35 M477.35,628.01 H481.35" stroke="#111" stroke-width="1.1"/>
<circle cx="479.35" cy="619.14" r="2" fill="#111"/>
<path d="M499.30,600.52 V616.48 M497.30,600.52 H501.30 M497.30,616.48 H501.30" stroke="#111" stroke-width="1.1"/>
<circle cx="499.30" cy="608.50" r="2" fill="#111"/>
<path d="M519.25,612.94 V618.26 M517.25,612.94 H521.25 M517.25,618.26 H521.25" stroke="#111" stroke-width="1.1"/>
<circle cx="519.25" cy="615.60" r="2" fill="#111"/>
<path d="M539.20,615.60 V624.47 M537.20,615.60 H541.20 M537.20,624.47 H541.20" stroke="#111" stroke-width="1.1"/>
<circle cx="539.20" cy="620.03" r="2" fill="#111"/>
<path d="M559.15,689.22 V692.77 M557.15,689.22 H561.15 M557.15,692.77 H561.15" stroke="#111" stroke-width="1.1"/>
<circle cx="559.15" cy="690.99" r="2" fill="#111"/>
<path d="M599.05,690.55 V693.21 M597.05,690.55 H601.05 M597.05,693.21 H601.05" stroke="#111" stroke-width="1.1"/>
<circle cx="599.05" cy="691.88" r="2" fill="#111"/>
<text x="463.4" y="677.8" font-size="10" fill="#000">697</text>
<text x="480.49" y="673.90" font-size="6" font-style="italic" fill="#000">WT</text>
<text x="491.01" y="677.8" font-size="10" fill="#000">IC</text>
<text x="501.21" y="680.20" font-size="5.8" fill="#000">50</text>
<text x="509.16" y="677.8" font-size="9.6" fill="#000">1.6e</text>
<text x="528.05" y="673.90" font-size="5.8" fill="#000">-6</text>
<text x="463.4" y="690.8" font-size="10" fill="#000">697</text>
<text x="480.49" y="686.90" font-size="6" font-style="italic" fill="#000">KI</text>
<text x="487.35" y="690.8" font-size="10" fill="#000">IC</text>
<text x="497.55" y="693.20" font-size="5.8" fill="#000">50</text>
<text x="505.51" y="690.8" font-size="9.6" fill="#000">1.3e</text>
<text x="524.39" y="686.90" font-size="5.8" fill="#000">-6</text>
<text x="523" y="586.6" font-size="12" font-weight="bold" fill="#111">MCL1</text>
<line x1="578.10" y1="600.80" x2="588.60" y2="600.80" stroke="#111" stroke-width="1.2"/>
<circle cx="583.6" cy="600.8" r="1.9" fill="#111"/>
<text x="595.2" y="605.1999999999999" font-size="10" fill="#000">697<tspan font-size="6" font-style="italic" dy="-3.8">WT</tspan></text>
<line x1="578.10" y1="615.00" x2="588.60" y2="615.00" stroke="#1414e6" stroke-width="1.2"/>
<circle cx="583.6" cy="615" r="1.9" fill="#1414e6"/>
<text x="595.2" y="619.4" font-size="10" fill="#000">697<tspan font-size="6" font-style="italic" dy="-3.8">KI</tspan></text>
<text transform="translate(436.8,680) rotate(-90)" font-size="10.6" fill="#000" textLength="76.5" lengthAdjust="spacingAndGlyphs">Cell viability (%)</text>
<text x="510.90" y="724.00" font-size="10.7" fill="#000" textLength="82" lengthAdjust="spacingAndGlyphs">AZD5991 (log M)</text>
</svg>
</body></html>
